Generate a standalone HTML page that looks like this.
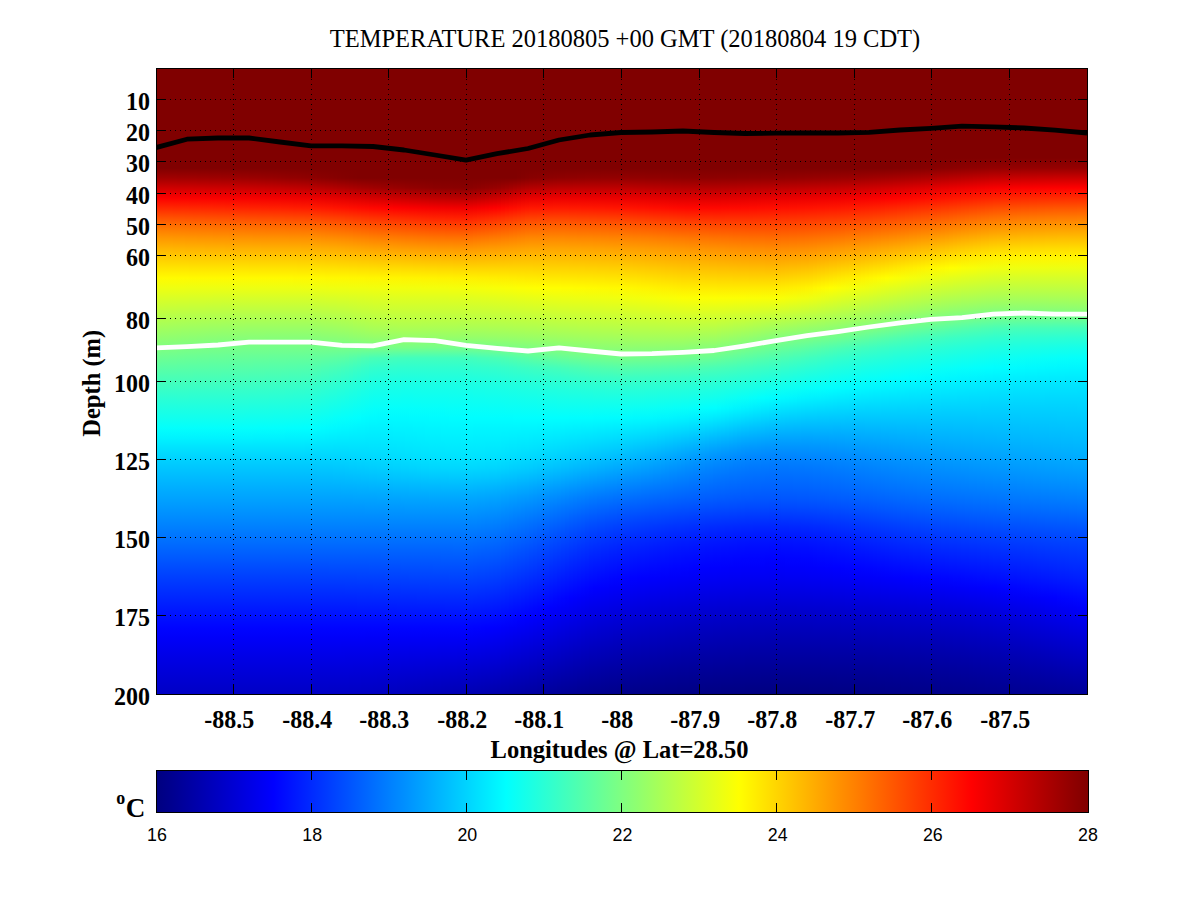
<!DOCTYPE html>
<html><head><meta charset="utf-8"><title>TEMPERATURE 20180805 +00 GMT</title>
<style>
html,body{margin:0;padding:0;background:#fff}
body{width:1201px;height:901px;position:relative;overflow:hidden;font-family:"Liberation Serif",serif}
#f{position:absolute;left:156px;top:68px;width:932px;height:627px;background:#800000;overflow:hidden}
#f i{position:absolute;top:0;height:627px;display:block}
#cb{position:absolute;left:156px;top:770px;width:931px;height:41px;border:1px solid #000;background:linear-gradient(to right,#000080 0.00%,#00008f 1.56%,#00009f 3.12%,#0000af 4.69%,#0000bf 6.25%,#0000cf 7.81%,#0000df 9.38%,#0000ef 10.94%,#0000ff 12.50%,#0010ff 14.06%,#0020ff 15.62%,#0030ff 17.19%,#0040ff 18.75%,#0050ff 20.31%,#0060ff 21.88%,#0070ff 23.44%,#0080ff 25.00%,#008fff 26.56%,#009fff 28.12%,#00afff 29.69%,#00bfff 31.25%,#00cfff 32.81%,#00dfff 34.38%,#00efff 35.94%,#00ffff 37.50%,#10ffef 39.06%,#20ffdf 40.62%,#30ffcf 42.19%,#40ffbf 43.75%,#50ffaf 45.31%,#60ff9f 46.88%,#70ff8f 48.44%,#80ff80 50.00%,#8fff70 51.56%,#9fff60 53.12%,#afff50 54.69%,#bfff40 56.25%,#cfff30 57.81%,#dfff20 59.38%,#efff10 60.94%,#ffff00 62.50%,#ffef00 64.06%,#ffdf00 65.62%,#ffcf00 67.19%,#ffbf00 68.75%,#ffaf00 70.31%,#ff9f00 71.88%,#ff8f00 73.44%,#ff8000 75.00%,#ff7000 76.56%,#ff6000 78.12%,#ff5000 79.69%,#ff4000 81.25%,#ff3000 82.81%,#ff2000 84.38%,#ff1000 85.94%,#ff0000 87.50%,#ef0000 89.06%,#df0000 90.62%,#cf0000 92.19%,#bf0000 93.75%,#af0000 95.31%,#9f0000 96.88%,#8f0000 98.44%,#800000 100.00%)}
svg{position:absolute;left:0;top:0}
.g{stroke:#000;stroke-width:1;stroke-dasharray:1 4;shape-rendering:crispEdges}
.gv{stroke:#000;stroke-width:1;stroke-dasharray:1 4;shape-rendering:crispEdges}
.t{stroke:#000;stroke-width:1;fill:none;shape-rendering:crispEdges}
.b{font:bold 24px "Liberation Serif",serif;fill:#000}
.s{font:17.3px "Liberation Sans",sans-serif;fill:#000}
.bl{font:bold 24.5px "Liberation Serif",serif;fill:#000}
.sup{font:bold 18px "Liberation Serif",serif;fill:#000}
.ti{font:24.5px "Liberation Serif",serif;fill:#000}
</style></head><body>
<div id="f"><i style="left:1px;width:4px;background:linear-gradient(#800000 0,#800000 100px,#a10000 110px,#cf0000 120px,#fd0000 130px,#ff2800 140px,#ff5300 150px,#ff7900 160px,#ff9800 170px,#ffb300 180px,#ffcd00 190px,#ffe400 200px,#fffb00 210px,#eeff11 220px,#daff25 230px,#c7ff38 240px,#b5ff4a 250px,#a3ff5c 260px,#91ff6e 270px,#7fff80 280px,#6dff92 290px,#5bffa4 300px,#49ffb6 310px,#3affc5 320px,#2bffd4 330px,#1effe1 340px,#11ffee 350px,#03fffc 360px,#00f3ff 370px,#00e2ff 380px,#00d3ff 390px,#00c6ff 400px,#00baff 410px,#00aeff 420px,#00a3ff 430px,#0097ff 440px,#008bff 450px,#007fff 460px,#0073ff 470px,#0066ff 480px,#0059ff 490px,#004bff 500px,#003eff 510px,#0032ff 520px,#0026ff 530px,#001aff 540px,#000fff 550px,#0004ff 560px,#0000f9 570px,#0000ef 580px,#0000e5 590px,#0000dc 600px,#0000d3 610px,#0000ca 620px,#0000c5 626px)"></i><i style="left:5px;width:4px;background:linear-gradient(#800000 0,#800000 100px,#a10000 110px,#cf0000 120px,#fd0000 130px,#ff2800 140px,#ff5200 150px,#ff7800 160px,#ff9700 170px,#ffb300 180px,#ffcd00 190px,#ffe400 200px,#fffb00 210px,#eeff11 220px,#daff25 230px,#c7ff38 240px,#b4ff4b 250px,#a2ff5d 260px,#90ff6f 270px,#7eff81 280px,#6cff93 290px,#5affa5 300px,#49ffb6 310px,#3affc5 320px,#2bffd4 330px,#1effe1 340px,#11ffee 350px,#03fffc 360px,#00f3ff 370px,#00e2ff 380px,#00d3ff 390px,#00c6ff 400px,#00baff 410px,#00aeff 420px,#00a3ff 430px,#0097ff 440px,#008bff 450px,#007fff 460px,#0073ff 470px,#0066ff 480px,#0059ff 490px,#004bff 500px,#003eff 510px,#0032ff 520px,#0026ff 530px,#001aff 540px,#000fff 550px,#0004ff 560px,#0000f9 570px,#0000ef 580px,#0000e5 590px,#0000dc 600px,#0000d3 610px,#0000ca 620px,#0000c5 626px)"></i><i style="left:9px;width:4px;background:linear-gradient(#800000 0,#800000 100px,#a10000 110px,#cf0000 120px,#fc0000 130px,#ff2800 140px,#ff5200 150px,#ff7800 160px,#ff9700 170px,#ffb300 180px,#ffcc00 190px,#ffe400 200px,#fffb00 210px,#eeff11 220px,#daff25 230px,#c6ff39 240px,#b4ff4b 250px,#a2ff5d 260px,#90ff6f 270px,#7eff81 280px,#6cff93 290px,#5affa5 300px,#49ffb6 310px,#3affc5 320px,#2bffd4 330px,#1effe1 340px,#11ffee 350px,#03fffc 360px,#00f3ff 370px,#00e2ff 380px,#00d3ff 390px,#00c6ff 400px,#00baff 410px,#00aeff 420px,#00a3ff 430px,#0097ff 440px,#008bff 450px,#007fff 460px,#0073ff 470px,#0066ff 480px,#0059ff 490px,#004bff 500px,#003eff 510px,#0032ff 520px,#0026ff 530px,#001aff 540px,#000fff 550px,#0004ff 560px,#0000f9 570px,#0000ef 580px,#0000e5 590px,#0000dc 600px,#0000d3 610px,#0000ca 620px,#0000c5 626px)"></i><i style="left:13px;width:4px;background:linear-gradient(#800000 0,#800000 100px,#a10000 110px,#cf0000 120px,#fc0000 130px,#ff2800 140px,#ff5200 150px,#ff7700 160px,#ff9700 170px,#ffb300 180px,#ffcc00 190px,#ffe400 200px,#fffb00 210px,#eeff11 220px,#d9ff26 230px,#c6ff39 240px,#b3ff4c 250px,#a1ff5e 260px,#8fff70 270px,#7dff82 280px,#6bff94 290px,#5affa5 300px,#49ffb6 310px,#3affc5 320px,#2bffd4 330px,#1effe1 340px,#11ffee 350px,#03fffc 360px,#00f3ff 370px,#00e2ff 380px,#00d3ff 390px,#00c6ff 400px,#00baff 410px,#00aeff 420px,#00a3ff 430px,#0097ff 440px,#008bff 450px,#007fff 460px,#0073ff 470px,#0066ff 480px,#0059ff 490px,#004bff 500px,#003eff 510px,#0032ff 520px,#0026ff 530px,#001aff 540px,#000fff 550px,#0004ff 560px,#0000f9 570px,#0000ef 580px,#0000e5 590px,#0000dc 600px,#0000d3 610px,#0000ca 620px,#0000c5 626px)"></i><i style="left:17px;width:4px;background:linear-gradient(#800000 0,#800000 100px,#a10000 110px,#ce0000 120px,#fc0000 130px,#ff2700 140px,#ff5100 150px,#ff7700 160px,#ff9600 170px,#ffb200 180px,#ffcc00 190px,#ffe400 200px,#fffb00 210px,#eeff11 220px,#d9ff26 230px,#c6ff39 240px,#b3ff4c 250px,#a0ff5f 260px,#8fff70 270px,#7dff82 280px,#6bff94 290px,#5affa5 300px,#49ffb6 310px,#3affc5 320px,#2bffd4 330px,#1effe1 340px,#11ffee 350px,#03fffc 360px,#00f3ff 370px,#00e2ff 380px,#00d3ff 390px,#00c6ff 400px,#00baff 410px,#00aeff 420px,#00a3ff 430px,#0097ff 440px,#008bff 450px,#007fff 460px,#0073ff 470px,#0066ff 480px,#0059ff 490px,#004bff 500px,#003eff 510px,#0032ff 520px,#0026ff 530px,#001aff 540px,#000fff 550px,#0004ff 560px,#0000f9 570px,#0000ef 580px,#0000e5 590px,#0000dc 600px,#0000d3 610px,#0000ca 620px,#0000c5 626px)"></i><i style="left:21px;width:4px;background:linear-gradient(#800000 0,#800000 100px,#a00000 110px,#ce0000 120px,#fc0000 130px,#ff2700 140px,#ff5100 150px,#ff7700 160px,#ff9600 170px,#ffb200 180px,#ffcc00 190px,#ffe400 200px,#fffb00 210px,#eeff11 220px,#d9ff26 230px,#c5ff3a 240px,#b2ff4d 250px,#a0ff5f 260px,#8eff71 270px,#7cff83 280px,#6aff95 290px,#59ffa6 300px,#49ffb6 310px,#3affc5 320px,#2cffd3 330px,#1effe1 340px,#11ffee 350px,#03fffc 360px,#00f3ff 370px,#00e2ff 380px,#00d3ff 390px,#00c6ff 400px,#00baff 410px,#00aeff 420px,#00a3ff 430px,#0097ff 440px,#008bff 450px,#007fff 460px,#0073ff 470px,#0066ff 480px,#0059ff 490px,#004bff 500px,#003eff 510px,#0032ff 520px,#0026ff 530px,#001aff 540px,#000fff 550px,#0004ff 560px,#0000f9 570px,#0000ef 580px,#0000e5 590px,#0000dc 600px,#0000d3 610px,#0000ca 620px,#0000c5 626px)"></i><i style="left:25px;width:4px;background:linear-gradient(#800000 0,#800000 100px,#a00000 110px,#ce0000 120px,#fc0000 130px,#ff2700 140px,#ff5100 150px,#ff7600 160px,#ff9600 170px,#ffb200 180px,#ffcc00 190px,#ffe400 200px,#fffb00 210px,#eeff11 220px,#d9ff26 230px,#c5ff3a 240px,#b2ff4d 250px,#9fff60 260px,#8dff72 270px,#7bff84 280px,#6aff95 290px,#59ffa6 300px,#49ffb6 310px,#3affc5 320px,#2cffd3 330px,#1effe1 340px,#11ffee 350px,#03fffc 360px,#00f3ff 370px,#00e2ff 380px,#00d3ff 390px,#00c6ff 400px,#00baff 410px,#00aeff 420px,#00a3ff 430px,#0097ff 440px,#008bff 450px,#007fff 460px,#0073ff 470px,#0066ff 480px,#0059ff 490px,#004bff 500px,#003eff 510px,#0032ff 520px,#0026ff 530px,#001aff 540px,#000fff 550px,#0004ff 560px,#0000f9 570px,#0000ef 580px,#0000e5 590px,#0000dc 600px,#0000d3 610px,#0000ca 620px,#0000c5 626px)"></i><i style="left:29px;width:4px;background:linear-gradient(#800000 0,#800000 100px,#a00000 110px,#ce0000 120px,#fc0000 130px,#ff2700 140px,#ff5000 150px,#ff7600 160px,#ff9500 170px,#ffb100 180px,#ffcb00 190px,#ffe400 200px,#fffb00 210px,#edff12 220px,#d9ff26 230px,#c5ff3a 240px,#b1ff4e 250px,#9fff60 260px,#8dff72 270px,#7bff84 280px,#69ff96 290px,#59ffa6 300px,#49ffb6 310px,#3affc5 320px,#2cffd3 330px,#1effe1 340px,#11ffee 350px,#03fffc 360px,#00f3ff 370px,#00e2ff 380px,#00d3ff 390px,#00c6ff 400px,#00baff 410px,#00aeff 420px,#00a3ff 430px,#0097ff 440px,#008bff 450px,#007fff 460px,#0073ff 470px,#0066ff 480px,#0059ff 490px,#004bff 500px,#003eff 510px,#0032ff 520px,#0026ff 530px,#001aff 540px,#000fff 550px,#0004ff 560px,#0000f9 570px,#0000ef 580px,#0000e5 590px,#0000dc 600px,#0000d3 610px,#0000ca 620px,#0000c5 626px)"></i><i style="left:33px;width:4px;background:linear-gradient(#800000 0,#800000 100px,#a00000 110px,#ce0000 120px,#fb0000 130px,#ff2600 140px,#ff5000 150px,#ff7500 160px,#ff9500 170px,#ffb100 180px,#ffcb00 190px,#ffe300 200px,#fffa00 210px,#edff12 220px,#d8ff27 230px,#c4ff3b 240px,#b1ff4e 250px,#9eff61 260px,#8cff73 270px,#7aff85 280px,#69ff96 290px,#58ffa7 300px,#49ffb6 310px,#39ffc6 320px,#2bffd4 330px,#1effe1 340px,#11ffee 350px,#03fffc 360px,#00f3ff 370px,#00e2ff 380px,#00d3ff 390px,#00c6ff 400px,#00baff 410px,#00aeff 420px,#00a3ff 430px,#0097ff 440px,#008bff 450px,#007fff 460px,#0073ff 470px,#0066ff 480px,#0059ff 490px,#004bff 500px,#003eff 510px,#0032ff 520px,#0026ff 530px,#001aff 540px,#000fff 550px,#0004ff 560px,#0000f9 570px,#0000ef 580px,#0000e5 590px,#0000dc 600px,#0000d3 610px,#0000ca 620px,#0000c5 626px)"></i><i style="left:37px;width:4px;background:linear-gradient(#800000 0,#800000 100px,#a00000 110px,#cd0000 120px,#fb0000 130px,#ff2600 140px,#ff4f00 150px,#ff7500 160px,#ff9500 170px,#ffb100 180px,#ffcb00 190px,#ffe300 200px,#fffa00 210px,#edff12 220px,#d8ff27 230px,#c4ff3b 240px,#b1ff4e 250px,#9eff61 260px,#8cff73 270px,#7aff85 280px,#69ff96 290px,#58ffa7 300px,#48ffb7 310px,#39ffc6 320px,#2bffd4 330px,#1effe1 340px,#11ffee 350px,#03fffc 360px,#00f3ff 370px,#00e2ff 380px,#00d3ff 390px,#00c6ff 400px,#00baff 410px,#00aeff 420px,#00a3ff 430px,#0097ff 440px,#008bff 450px,#007fff 460px,#0073ff 470px,#0066ff 480px,#0059ff 490px,#004bff 500px,#003eff 510px,#0032ff 520px,#0026ff 530px,#001aff 540px,#000fff 550px,#0004ff 560px,#0000f9 570px,#0000ef 580px,#0000e5 590px,#0000dc 600px,#0000d3 610px,#0000ca 620px,#0000c5 626px)"></i><i style="left:41px;width:4px;background:linear-gradient(#800000 0,#800000 100px,#9f0000 110px,#cd0000 120px,#fb0000 130px,#ff2600 140px,#ff4f00 150px,#ff7500 160px,#ff9400 170px,#ffb100 180px,#ffcb00 190px,#ffe300 200px,#fffa00 210px,#edff12 220px,#d8ff27 230px,#c4ff3b 240px,#b0ff4f 250px,#9eff61 260px,#8bff74 270px,#7aff85 280px,#68ff97 290px,#58ffa7 300px,#48ffb7 310px,#39ffc6 320px,#2bffd4 330px,#1effe1 340px,#11ffee 350px,#03fffc 360px,#00f3ff 370px,#00e2ff 380px,#00d3ff 390px,#00c6ff 400px,#00baff 410px,#00aeff 420px,#00a3ff 430px,#0097ff 440px,#008bff 450px,#007fff 460px,#0073ff 470px,#0066ff 480px,#0059ff 490px,#004bff 500px,#003eff 510px,#0032ff 520px,#0026ff 530px,#001aff 540px,#000fff 550px,#0004ff 560px,#0000f9 570px,#0000ef 580px,#0000e5 590px,#0000dc 600px,#0000d3 610px,#0000ca 620px,#0000c5 626px)"></i><i style="left:45px;width:4px;background:linear-gradient(#800000 0,#800000 100px,#9f0000 110px,#cd0000 120px,#fb0000 130px,#ff2500 140px,#ff4f00 150px,#ff7400 160px,#ff9400 170px,#ffb100 180px,#ffcb00 190px,#ffe300 200px,#fffa00 210px,#edff12 220px,#d8ff27 230px,#c4ff3b 240px,#b0ff4f 250px,#9dff62 260px,#8bff74 270px,#79ff86 280px,#68ff97 290px,#58ffa7 300px,#48ffb7 310px,#39ffc6 320px,#2bffd4 330px,#1effe1 340px,#11ffee 350px,#03fffc 360px,#00f3ff 370px,#00e2ff 380px,#00d3ff 390px,#00c6ff 400px,#00baff 410px,#00aeff 420px,#00a3ff 430px,#0097ff 440px,#008bff 450px,#007fff 460px,#0073ff 470px,#0066ff 480px,#0059ff 490px,#004bff 500px,#003eff 510px,#0032ff 520px,#0026ff 530px,#001aff 540px,#000fff 550px,#0004ff 560px,#0000f9 570px,#0000ef 580px,#0000e5 590px,#0000dc 600px,#0000d3 610px,#0000ca 620px,#0000c5 626px)"></i><i style="left:49px;width:4px;background:linear-gradient(#800000 0,#800000 100px,#9f0000 110px,#cc0000 120px,#fa0000 130px,#ff2500 140px,#ff4e00 150px,#ff7400 160px,#ff9400 170px,#ffb000 180px,#ffcb00 190px,#ffe300 200px,#fffa00 210px,#edff12 220px,#d8ff27 230px,#c3ff3c 240px,#b0ff4f 250px,#9dff62 260px,#8aff75 270px,#79ff86 280px,#68ff97 290px,#58ffa7 300px,#48ffb7 310px,#39ffc6 320px,#2bffd4 330px,#1effe1 340px,#11ffee 350px,#03fffc 360px,#00f3ff 370px,#00e2ff 380px,#00d3ff 390px,#00c6ff 400px,#00baff 410px,#00aeff 420px,#00a3ff 430px,#0097ff 440px,#008bff 450px,#007fff 460px,#0073ff 470px,#0066ff 480px,#0059ff 490px,#004bff 500px,#003eff 510px,#0032ff 520px,#0026ff 530px,#001aff 540px,#000fff 550px,#0004ff 560px,#0000f9 570px,#0000ef 580px,#0000e5 590px,#0000dc 600px,#0000d3 610px,#0000ca 620px,#0000c5 626px)"></i><i style="left:53px;width:4px;background:linear-gradient(#800000 0,#800000 100px,#9e0000 110px,#cc0000 120px,#fa0000 130px,#ff2500 140px,#ff4e00 150px,#ff7400 160px,#ff9400 170px,#ffb000 180px,#ffca00 190px,#ffe300 200px,#fffa00 210px,#edff12 220px,#d8ff27 230px,#c3ff3c 240px,#afff50 250px,#9cff63 260px,#8aff75 270px,#78ff87 280px,#67ff98 290px,#57ffa8 300px,#48ffb7 310px,#39ffc6 320px,#2bffd4 330px,#1effe1 340px,#11ffee 350px,#03fffc 360px,#00f3ff 370px,#00e2ff 380px,#00d3ff 390px,#00c6ff 400px,#00baff 410px,#00aeff 420px,#00a3ff 430px,#0097ff 440px,#008bff 450px,#007fff 460px,#0073ff 470px,#0066ff 480px,#0059ff 490px,#004bff 500px,#003eff 510px,#0032ff 520px,#0026ff 530px,#001aff 540px,#000fff 550px,#0004ff 560px,#0000f9 570px,#0000ef 580px,#0000e5 590px,#0000dc 600px,#0000d3 610px,#0000ca 620px,#0000c5 626px)"></i><i style="left:57px;width:4px;background:linear-gradient(#800000 0,#800000 100px,#9e0000 110px,#cc0000 120px,#fa0000 130px,#ff2400 140px,#ff4e00 150px,#ff7300 160px,#ff9300 170px,#ffb000 180px,#ffca00 190px,#ffe300 200px,#fffa00 210px,#edff12 220px,#d7ff28 230px,#c3ff3c 240px,#afff50 250px,#9cff63 260px,#8aff75 270px,#78ff87 280px,#67ff98 290px,#57ffa8 300px,#48ffb7 310px,#39ffc6 320px,#2bffd4 330px,#1effe1 340px,#11ffee 350px,#03fffc 360px,#00f3ff 370px,#00e2ff 380px,#00d3ff 390px,#00c6ff 400px,#00baff 410px,#00aeff 420px,#00a3ff 430px,#0097ff 440px,#008bff 450px,#007fff 460px,#0073ff 470px,#0066ff 480px,#0059ff 490px,#004bff 500px,#003eff 510px,#0032ff 520px,#0026ff 530px,#001aff 540px,#000fff 550px,#0004ff 560px,#0000f9 570px,#0000ef 580px,#0000e5 590px,#0000dc 600px,#0000d3 610px,#0000ca 620px,#0000c5 626px)"></i><i style="left:61px;width:4px;background:linear-gradient(#800000 0,#800000 100px,#9e0000 110px,#cb0000 120px,#f90000 130px,#ff2400 140px,#ff4d00 150px,#ff7300 160px,#ff9300 170px,#ffb000 180px,#ffca00 190px,#ffe300 200px,#fffa00 210px,#edff12 220px,#d7ff28 230px,#c3ff3c 240px,#afff50 250px,#9cff63 260px,#89ff76 270px,#78ff87 280px,#67ff98 290px,#57ffa8 300px,#48ffb7 310px,#39ffc6 320px,#2bffd4 330px,#1effe1 340px,#11ffee 350px,#03fffc 360px,#00f3ff 370px,#00e2ff 380px,#00d3ff 390px,#00c6ff 400px,#00baff 410px,#00aeff 420px,#00a3ff 430px,#0097ff 440px,#008bff 450px,#007fff 460px,#0073ff 470px,#0066ff 480px,#0059ff 490px,#004bff 500px,#003eff 510px,#0032ff 520px,#0026ff 530px,#001aff 540px,#000fff 550px,#0004ff 560px,#0000f9 570px,#0000ef 580px,#0000e5 590px,#0000dc 600px,#0000d3 610px,#0000ca 620px,#0000c5 626px)"></i><i style="left:65px;width:4px;background:linear-gradient(#800000 0,#800000 100px,#9d0000 110px,#cb0000 120px,#f90000 130px,#ff2400 140px,#ff4d00 150px,#ff7300 160px,#ff9300 170px,#ffb000 180px,#ffca00 190px,#ffe300 200px,#fffa00 210px,#edff12 220px,#d7ff28 230px,#c2ff3d 240px,#afff50 250px,#9bff64 260px,#89ff76 270px,#77ff88 280px,#67ff98 290px,#57ffa8 300px,#47ffb8 310px,#39ffc6 320px,#2bffd4 330px,#1effe1 340px,#11ffee 350px,#03fffc 360px,#00f3ff 370px,#00e2ff 380px,#00d3ff 390px,#00c6ff 400px,#00baff 410px,#00aeff 420px,#00a3ff 430px,#0097ff 440px,#008bff 450px,#007fff 460px,#0073ff 470px,#0066ff 480px,#0059ff 490px,#004bff 500px,#003eff 510px,#0032ff 520px,#0026ff 530px,#001aff 540px,#000fff 550px,#0004ff 560px,#0000f9 570px,#0000ef 580px,#0000e5 590px,#0000dc 600px,#0000d3 610px,#0000ca 620px,#0000c5 626px)"></i><i style="left:69px;width:4px;background:linear-gradient(#800000 0,#800000 100px,#9d0000 110px,#cb0000 120px,#f90000 130px,#ff2300 140px,#ff4d00 150px,#ff7300 160px,#ff9300 170px,#ffaf00 180px,#ffca00 190px,#ffe300 200px,#fffa00 210px,#edff12 220px,#d7ff28 230px,#c2ff3d 240px,#aeff51 250px,#9bff64 260px,#89ff76 270px,#77ff88 280px,#66ff99 290px,#57ffa8 300px,#47ffb8 310px,#39ffc6 320px,#2bffd4 330px,#1effe1 340px,#11ffee 350px,#03fffc 360px,#00f3ff 370px,#00e2ff 380px,#00d3ff 390px,#00c6ff 400px,#00baff 410px,#00aeff 420px,#00a3ff 430px,#0097ff 440px,#008bff 450px,#007fff 460px,#0073ff 470px,#0066ff 480px,#0059ff 490px,#004bff 500px,#003eff 510px,#0032ff 520px,#0026ff 530px,#001aff 540px,#000fff 550px,#0004ff 560px,#0000f9 570px,#0000ef 580px,#0000e5 590px,#0000dc 600px,#0000d3 610px,#0000ca 620px,#0000c5 626px)"></i><i style="left:73px;width:4px;background:linear-gradient(#800000 0,#800000 100px,#9d0000 110px,#ca0000 120px,#f80000 130px,#ff2300 140px,#ff4c00 150px,#ff7200 160px,#ff9200 170px,#ffaf00 180px,#ffca00 190px,#ffe300 200px,#fffa00 210px,#edff12 220px,#d7ff28 230px,#c2ff3d 240px,#aeff51 250px,#9bff64 260px,#89ff76 270px,#77ff88 280px,#66ff99 290px,#56ffa9 300px,#47ffb8 310px,#39ffc6 320px,#2bffd4 330px,#1effe1 340px,#11ffee 350px,#03fffc 360px,#00f3ff 370px,#00e2ff 380px,#00d3ff 390px,#00c6ff 400px,#00baff 410px,#00aeff 420px,#00a3ff 430px,#0097ff 440px,#008bff 450px,#007fff 460px,#0073ff 470px,#0066ff 480px,#0059ff 490px,#004bff 500px,#003eff 510px,#0032ff 520px,#0026ff 530px,#001aff 540px,#000fff 550px,#0004ff 560px,#0000f9 570px,#0000ef 580px,#0000e5 590px,#0000dc 600px,#0000d3 610px,#0000ca 620px,#0000c5 626px)"></i><i style="left:77px;width:4px;background:linear-gradient(#800000 0,#800000 100px,#9c0000 110px,#ca0000 120px,#f80000 130px,#ff2300 140px,#ff4c00 150px,#ff7200 160px,#ff9200 170px,#ffaf00 180px,#ffca00 190px,#ffe300 200px,#fffa00 210px,#edff12 220px,#d7ff28 230px,#c2ff3d 240px,#aeff51 250px,#9bff64 260px,#89ff76 270px,#77ff88 280px,#66ff99 290px,#56ffa9 300px,#47ffb8 310px,#38ffc7 320px,#2bffd4 330px,#1effe1 340px,#11ffee 350px,#03fffc 360px,#00f3ff 370px,#00e2ff 380px,#00d3ff 390px,#00c6ff 400px,#00baff 410px,#00aeff 420px,#00a3ff 430px,#0097ff 440px,#008bff 450px,#007fff 460px,#0073ff 470px,#0066ff 480px,#0059ff 490px,#004bff 500px,#003eff 510px,#0032ff 520px,#0026ff 530px,#001aff 540px,#000fff 550px,#0004ff 560px,#0000f9 570px,#0000ef 580px,#0000e5 590px,#0000dc 600px,#0000d3 610px,#0000ca 620px,#0000c5 626px)"></i><i style="left:81px;width:4px;background:linear-gradient(#800000 0,#800000 100px,#9c0000 110px,#c90000 120px,#f80000 130px,#ff2200 140px,#ff4c00 150px,#ff7200 160px,#ff9200 170px,#ffaf00 180px,#ffca00 190px,#ffe300 200px,#fffa00 210px,#edff12 220px,#d7ff28 230px,#c2ff3d 240px,#aeff51 250px,#9bff64 260px,#88ff77 270px,#77ff88 280px,#66ff99 290px,#56ffa9 300px,#47ffb8 310px,#38ffc7 320px,#2bffd4 330px,#1effe1 340px,#11ffee 350px,#03fffc 360px,#00f3ff 370px,#00e2ff 380px,#00d3ff 390px,#00c6ff 400px,#00baff 410px,#00aeff 420px,#00a3ff 430px,#0097ff 440px,#008bff 450px,#007fff 460px,#0073ff 470px,#0066ff 480px,#0059ff 490px,#004bff 500px,#003eff 510px,#0032ff 520px,#0026ff 530px,#001aff 540px,#000fff 550px,#0004ff 560px,#0000f9 570px,#0000ef 580px,#0000e5 590px,#0000dc 600px,#0000d3 610px,#0000ca 620px,#0000c5 626px)"></i><i style="left:85px;width:4px;background:linear-gradient(#800000 0,#800000 100px,#9b0000 110px,#c90000 120px,#f70000 130px,#ff2200 140px,#ff4c00 150px,#ff7200 160px,#ff9200 170px,#ffaf00 180px,#ffca00 190px,#ffe300 200px,#fffa00 210px,#edff12 220px,#d7ff28 230px,#c2ff3d 240px,#aeff51 250px,#9bff64 260px,#88ff77 270px,#76ff89 280px,#66ff99 290px,#56ffa9 300px,#47ffb8 310px,#38ffc7 320px,#2bffd4 330px,#1effe1 340px,#11ffee 350px,#03fffc 360px,#00f3ff 370px,#00e2ff 380px,#00d3ff 390px,#00c6ff 400px,#00baff 410px,#00aeff 420px,#00a3ff 430px,#0097ff 440px,#008bff 450px,#007fff 460px,#0073ff 470px,#0066ff 480px,#0059ff 490px,#004bff 500px,#003eff 510px,#0032ff 520px,#0026ff 530px,#001aff 540px,#000fff 550px,#0004ff 560px,#0000f9 570px,#0000ef 580px,#0000e5 590px,#0000dc 600px,#0000d3 610px,#0000ca 620px,#0000c5 626px)"></i><i style="left:89px;width:4px;background:linear-gradient(#800000 0,#800000 100px,#9b0000 110px,#c80000 120px,#f70000 130px,#ff2200 140px,#ff4b00 150px,#ff7100 160px,#ff9200 170px,#ffaf00 180px,#ffca00 190px,#ffe300 200px,#fffa00 210px,#edff12 220px,#d7ff28 230px,#c2ff3d 240px,#aeff51 250px,#9aff65 260px,#88ff77 270px,#76ff89 280px,#66ff99 290px,#56ffa9 300px,#47ffb8 310px,#38ffc7 320px,#2bffd4 330px,#1effe1 340px,#10ffef 350px,#03fffc 360px,#00f3ff 370px,#00e2ff 380px,#00d3ff 390px,#00c6ff 400px,#00baff 410px,#00aeff 420px,#00a3ff 430px,#0097ff 440px,#008bff 450px,#007fff 460px,#0073ff 470px,#0066ff 480px,#0059ff 490px,#004bff 500px,#003eff 510px,#0032ff 520px,#0026ff 530px,#001aff 540px,#000fff 550px,#0004ff 560px,#0000f9 570px,#0000ef 580px,#0000e5 590px,#0000dc 600px,#0000d3 610px,#0000ca 620px,#0000c5 626px)"></i><i style="left:93px;width:4px;background:linear-gradient(#800000 0,#800000 100px,#9a0000 110px,#c80000 120px,#f70000 130px,#ff2100 140px,#ff4b00 150px,#ff7100 160px,#ff9200 170px,#ffaf00 180px,#ffc900 190px,#ffe200 200px,#fffa00 210px,#edff12 220px,#d7ff28 230px,#c2ff3d 240px,#aeff51 250px,#9aff65 260px,#88ff77 270px,#76ff89 280px,#65ff9a 290px,#56ffa9 300px,#46ffb9 310px,#38ffc7 320px,#2affd5 330px,#1dffe2 340px,#10ffef 350px,#03fffc 360px,#00f3ff 370px,#00e2ff 380px,#00d3ff 390px,#00c6ff 400px,#00baff 410px,#00aeff 420px,#00a3ff 430px,#0097ff 440px,#008bff 450px,#007fff 460px,#0073ff 470px,#0066ff 480px,#0059ff 490px,#004bff 500px,#003eff 510px,#0032ff 520px,#0026ff 530px,#001aff 540px,#000fff 550px,#0004ff 560px,#0000f9 570px,#0000ef 580px,#0000e5 590px,#0000dc 600px,#0000d3 610px,#0000ca 620px,#0000c5 626px)"></i><i style="left:97px;width:4px;background:linear-gradient(#800000 0,#800000 100px,#9a0000 110px,#c70000 120px,#f60000 130px,#ff2100 140px,#ff4b00 150px,#ff7100 160px,#ff9100 170px,#ffaf00 180px,#ffc900 190px,#ffe200 200px,#fffa00 210px,#edff12 220px,#d7ff28 230px,#c2ff3d 240px,#aeff51 250px,#9aff65 260px,#88ff77 270px,#76ff89 280px,#65ff9a 290px,#55ffaa 300px,#46ffb9 310px,#38ffc7 320px,#2affd5 330px,#1dffe2 340px,#10ffef 350px,#03fffc 360px,#00f2ff 370px,#00e2ff 380px,#00d3ff 390px,#00c6ff 400px,#00baff 410px,#00aeff 420px,#00a3ff 430px,#0097ff 440px,#008bff 450px,#007fff 460px,#0073ff 470px,#0066ff 480px,#0059ff 490px,#004bff 500px,#003eff 510px,#0032ff 520px,#0026ff 530px,#001aff 540px,#000fff 550px,#0004ff 560px,#0000f9 570px,#0000ef 580px,#0000e5 590px,#0000dc 600px,#0000d3 610px,#0000ca 620px,#0000c5 626px)"></i><i style="left:101px;width:4px;background:linear-gradient(#800000 0,#800000 100px,#990000 110px,#c60000 120px,#f50000 130px,#ff2100 140px,#ff4a00 150px,#ff7100 160px,#ff9100 170px,#ffaf00 180px,#ffc900 190px,#ffe200 200px,#fffa00 210px,#edff12 220px,#d7ff28 230px,#c2ff3d 240px,#aeff51 250px,#9aff65 260px,#88ff77 270px,#76ff89 280px,#65ff9a 290px,#55ffaa 300px,#46ffb9 310px,#37ffc8 320px,#2affd5 330px,#1dffe2 340px,#10ffef 350px,#02fffd 360px,#00f2ff 370px,#00e2ff 380px,#00d3ff 390px,#00c6ff 400px,#00baff 410px,#00aeff 420px,#00a3ff 430px,#0097ff 440px,#008bff 450px,#007fff 460px,#0073ff 470px,#0066ff 480px,#0059ff 490px,#004bff 500px,#003eff 510px,#0032ff 520px,#0026ff 530px,#001aff 540px,#000fff 550px,#0004ff 560px,#0000f9 570px,#0000ef 580px,#0000e5 590px,#0000dc 600px,#0000d3 610px,#0000ca 620px,#0000c5 626px)"></i><i style="left:105px;width:4px;background:linear-gradient(#800000 0,#800000 100px,#980000 110px,#c60000 120px,#f50000 130px,#ff2000 140px,#ff4a00 150px,#ff7100 160px,#ff9100 170px,#ffae00 180px,#ffc900 190px,#ffe200 200px,#fffa00 210px,#edff12 220px,#d7ff28 230px,#c2ff3d 240px,#aeff51 250px,#9aff65 260px,#88ff77 270px,#76ff89 280px,#65ff9a 290px,#55ffaa 300px,#46ffb9 310px,#37ffc8 320px,#2affd5 330px,#1dffe2 340px,#10ffef 350px,#02fffd 360px,#00f2ff 370px,#00e2ff 380px,#00d3ff 390px,#00c6ff 400px,#00baff 410px,#00aeff 420px,#00a3ff 430px,#0097ff 440px,#008bff 450px,#007fff 460px,#0073ff 470px,#0066ff 480px,#0059ff 490px,#004bff 500px,#003eff 510px,#0032ff 520px,#0026ff 530px,#001aff 540px,#000fff 550px,#0004ff 560px,#0000f9 570px,#0000ef 580px,#0000e5 590px,#0000dc 600px,#0000d3 610px,#0000ca 620px,#0000c5 626px)"></i><i style="left:109px;width:4px;background:linear-gradient(#800000 0,#800000 100px,#970000 110px,#c50000 120px,#f40000 130px,#ff2000 140px,#ff4a00 150px,#ff7000 160px,#ff9100 170px,#ffae00 180px,#ffc900 190px,#ffe200 200px,#fffa00 210px,#edff12 220px,#d7ff28 230px,#c2ff3d 240px,#aeff51 250px,#9aff65 260px,#87ff78 270px,#76ff89 280px,#65ff9a 290px,#55ffaa 300px,#45ffba 310px,#37ffc8 320px,#2affd5 330px,#1dffe2 340px,#10ffef 350px,#02fffd 360px,#00f2ff 370px,#00e2ff 380px,#00d3ff 390px,#00c6ff 400px,#00baff 410px,#00aeff 420px,#00a3ff 430px,#0097ff 440px,#008bff 450px,#007fff 460px,#0073ff 470px,#0066ff 480px,#0059ff 490px,#004bff 500px,#003eff 510px,#0032ff 520px,#0026ff 530px,#001aff 540px,#000fff 550px,#0004ff 560px,#0000f9 570px,#0000ef 580px,#0000e5 590px,#0000dc 600px,#0000d3 610px,#0000ca 620px,#0000c5 626px)"></i><i style="left:113px;width:4px;background:linear-gradient(#800000 0,#800000 100px,#970000 110px,#c40000 120px,#f40000 130px,#ff1f00 140px,#ff4a00 150px,#ff7000 160px,#ff9100 170px,#ffae00 180px,#ffc900 190px,#ffe200 200px,#fffa00 210px,#edff12 220px,#d7ff28 230px,#c2ff3d 240px,#adff52 250px,#9aff65 260px,#87ff78 270px,#75ff8a 280px,#64ff9b 290px,#54ffab 300px,#45ffba 310px,#37ffc8 320px,#29ffd6 330px,#1cffe3 340px,#10ffef 350px,#02fffd 360px,#00f2ff 370px,#00e2ff 380px,#00d3ff 390px,#00c6ff 400px,#00baff 410px,#00aeff 420px,#00a3ff 430px,#0097ff 440px,#008bff 450px,#007fff 460px,#0073ff 470px,#0066ff 480px,#0059ff 490px,#004bff 500px,#003eff 510px,#0032ff 520px,#0026ff 530px,#001aff 540px,#000fff 550px,#0004ff 560px,#0000f9 570px,#0000ef 580px,#0000e5 590px,#0000dc 600px,#0000d3 610px,#0000ca 620px,#0000c5 626px)"></i><i style="left:117px;width:4px;background:linear-gradient(#800000 0,#800000 100px,#960000 110px,#c30000 120px,#f30000 130px,#ff1f00 140px,#ff4900 150px,#ff7000 160px,#ff9100 170px,#ffae00 180px,#ffc900 190px,#ffe200 200px,#fffa00 210px,#edff12 220px,#d7ff28 230px,#c2ff3d 240px,#adff52 250px,#9aff65 260px,#87ff78 270px,#75ff8a 280px,#64ff9b 290px,#54ffab 300px,#45ffba 310px,#36ffc9 320px,#29ffd6 330px,#1cffe3 340px,#0ffff0 350px,#02fffd 360px,#00f2ff 370px,#00e2ff 380px,#00d3ff 390px,#00c6ff 400px,#00baff 410px,#00aeff 420px,#00a3ff 430px,#0097ff 440px,#008bff 450px,#007fff 460px,#0073ff 470px,#0066ff 480px,#0059ff 490px,#004bff 500px,#003eff 510px,#0032ff 520px,#0026ff 530px,#001aff 540px,#000fff 550px,#0004ff 560px,#0000f9 570px,#0000ef 580px,#0000e5 590px,#0000dc 600px,#0000d3 610px,#0000ca 620px,#0000c5 626px)"></i><i style="left:121px;width:4px;background:linear-gradient(#800000 0,#800000 100px,#950000 110px,#c30000 120px,#f30000 130px,#ff1f00 140px,#ff4900 150px,#ff7000 160px,#ff9100 170px,#ffae00 180px,#ffc900 190px,#ffe200 200px,#fffa00 210px,#edff12 220px,#d7ff28 230px,#c2ff3d 240px,#adff52 250px,#9aff65 260px,#87ff78 270px,#75ff8a 280px,#64ff9b 290px,#54ffab 300px,#45ffba 310px,#36ffc9 320px,#29ffd6 330px,#1cffe3 340px,#0ffff0 350px,#02fffd 360px,#00f2ff 370px,#00e2ff 380px,#00d3ff 390px,#00c6ff 400px,#00baff 410px,#00aeff 420px,#00a3ff 430px,#0097ff 440px,#008bff 450px,#007fff 460px,#0073ff 470px,#0066ff 480px,#0059ff 490px,#004bff 500px,#003eff 510px,#0032ff 520px,#0026ff 530px,#001aff 540px,#000fff 550px,#0004ff 560px,#0000f9 570px,#0000ef 580px,#0000e5 590px,#0000dc 600px,#0000d3 610px,#0000ca 620px,#0000c5 626px)"></i><i style="left:125px;width:4px;background:linear-gradient(#800000 0,#800000 100px,#940000 110px,#c20000 120px,#f20000 130px,#ff1e00 140px,#ff4900 150px,#ff7000 160px,#ff9100 170px,#ffae00 180px,#ffc900 190px,#ffe200 200px,#fffa00 210px,#edff12 220px,#d7ff28 230px,#c2ff3d 240px,#adff52 250px,#9aff65 260px,#87ff78 270px,#75ff8a 280px,#64ff9b 290px,#54ffab 300px,#44ffbb 310px,#36ffc9 320px,#29ffd6 330px,#1cffe3 340px,#0ffff0 350px,#02fffd 360px,#00f2ff 370px,#00e2ff 380px,#00d3ff 390px,#00c6ff 400px,#00baff 410px,#00aeff 420px,#00a3ff 430px,#0097ff 440px,#008bff 450px,#007fff 460px,#0073ff 470px,#0066ff 480px,#0059ff 490px,#004bff 500px,#003eff 510px,#0032ff 520px,#0026ff 530px,#001aff 540px,#000fff 550px,#0004ff 560px,#0000f9 570px,#0000ef 580px,#0000e5 590px,#0000dc 600px,#0000d3 610px,#0000ca 620px,#0000c5 626px)"></i><i style="left:129px;width:4px;background:linear-gradient(#800000 0,#800000 100px,#930000 110px,#c10000 120px,#f10000 130px,#ff1e00 140px,#ff4800 150px,#ff6f00 160px,#ff9100 170px,#ffae00 180px,#ffc900 190px,#ffe200 200px,#fffa00 210px,#edff12 220px,#d7ff28 230px,#c2ff3d 240px,#adff52 250px,#9aff65 260px,#87ff78 270px,#75ff8a 280px,#64ff9b 290px,#53ffac 300px,#44ffbb 310px,#35ffca 320px,#28ffd7 330px,#1cffe3 340px,#0ffff0 350px,#01fffe 360px,#00f1ff 370px,#00e2ff 380px,#00d3ff 390px,#00c6ff 400px,#00baff 410px,#00aeff 420px,#00a3ff 430px,#0097ff 440px,#008bff 450px,#007fff 460px,#0073ff 470px,#0066ff 480px,#0059ff 490px,#004bff 500px,#003eff 510px,#0032ff 520px,#0026ff 530px,#001aff 540px,#000fff 550px,#0004ff 560px,#0000f9 570px,#0000ef 580px,#0000e5 590px,#0000dc 600px,#0000d3 610px,#0000ca 620px,#0000c5 626px)"></i><i style="left:133px;width:4px;background:linear-gradient(#800000 0,#800000 100px,#920000 110px,#c00000 120px,#f10000 130px,#ff1d00 140px,#ff4800 150px,#ff6f00 160px,#ff9000 170px,#ffae00 180px,#ffc900 190px,#ffe200 200px,#fffa00 210px,#edff12 220px,#d7ff28 230px,#c2ff3d 240px,#aeff51 250px,#9aff65 260px,#87ff78 270px,#75ff8a 280px,#63ff9c 290px,#53ffac 300px,#43ffbc 310px,#35ffca 320px,#28ffd7 330px,#1bffe4 340px,#0ffff0 350px,#01fffe 360px,#00f1ff 370px,#00e2ff 380px,#00d3ff 390px,#00c6ff 400px,#00baff 410px,#00aeff 420px,#00a3ff 430px,#0097ff 440px,#008bff 450px,#007fff 460px,#0073ff 470px,#0066ff 480px,#0059ff 490px,#004bff 500px,#003eff 510px,#0032ff 520px,#0026ff 530px,#001aff 540px,#000fff 550px,#0004ff 560px,#0000f9 570px,#0000ef 580px,#0000e5 590px,#0000dc 600px,#0000d3 610px,#0000ca 620px,#0000c5 626px)"></i><i style="left:137px;width:4px;background:linear-gradient(#800000 0,#800000 100px,#920000 110px,#bf0000 120px,#f00000 130px,#ff1c00 140px,#ff4700 150px,#ff6f00 160px,#ff9000 170px,#ffae00 180px,#ffc900 190px,#ffe200 200px,#fff900 210px,#edff12 220px,#d7ff28 230px,#c2ff3d 240px,#aeff51 250px,#9aff65 260px,#87ff78 270px,#75ff8a 280px,#63ff9c 290px,#53ffac 300px,#43ffbc 310px,#35ffca 320px,#27ffd8 330px,#1bffe4 340px,#0efff1 350px,#01fffe 360px,#00f1ff 370px,#00e2ff 380px,#00d3ff 390px,#00c6ff 400px,#00baff 410px,#00aeff 420px,#00a3ff 430px,#0097ff 440px,#008bff 450px,#007fff 460px,#0073ff 470px,#0066ff 480px,#0059ff 490px,#004bff 500px,#003eff 510px,#0032ff 520px,#0026ff 530px,#001aff 540px,#000fff 550px,#0004ff 560px,#0000f9 570px,#0000ef 580px,#0000e5 590px,#0000dc 600px,#0000d3 610px,#0000ca 620px,#0000c5 626px)"></i><i style="left:141px;width:4px;background:linear-gradient(#800000 0,#800000 100px,#910000 110px,#be0000 120px,#ef0000 130px,#ff1c00 140px,#ff4700 150px,#ff6f00 160px,#ff9000 170px,#ffae00 180px,#ffc800 190px,#ffe100 200px,#fff900 210px,#edff12 220px,#d7ff28 230px,#c2ff3d 240px,#aeff51 250px,#9aff65 260px,#87ff78 270px,#75ff8a 280px,#63ff9c 290px,#52ffad 300px,#43ffbc 310px,#34ffcb 320px,#27ffd8 330px,#1bffe4 340px,#0efff1 350px,#01fffe 360px,#00f1ff 370px,#00e2ff 380px,#00d3ff 390px,#00c6ff 400px,#00baff 410px,#00aeff 420px,#00a3ff 430px,#0097ff 440px,#008bff 450px,#007fff 460px,#0073ff 470px,#0066ff 480px,#0059ff 490px,#004bff 500px,#003eff 510px,#0032ff 520px,#0026ff 530px,#001aff 540px,#000fff 550px,#0004ff 560px,#0000f9 570px,#0000ef 580px,#0000e5 590px,#0000dc 600px,#0000d3 610px,#0000ca 620px,#0000c5 626px)"></i><i style="left:145px;width:4px;background:linear-gradient(#800000 0,#800000 100px,#900000 110px,#bd0000 120px,#ee0000 130px,#ff1b00 140px,#ff4700 150px,#ff6e00 160px,#ff9000 170px,#ffad00 180px,#ffc800 190px,#ffe100 200px,#fff900 210px,#eeff11 220px,#d7ff28 230px,#c2ff3d 240px,#aeff51 250px,#9aff65 260px,#87ff78 270px,#75ff8a 280px,#63ff9c 290px,#52ffad 300px,#42ffbd 310px,#34ffcb 320px,#27ffd8 330px,#1affe5 340px,#0efff1 350px,#00ffff 360px,#00f1ff 370px,#00e2ff 380px,#00d3ff 390px,#00c6ff 400px,#00baff 410px,#00aeff 420px,#00a3ff 430px,#0097ff 440px,#008bff 450px,#007fff 460px,#0073ff 470px,#0066ff 480px,#0059ff 490px,#004bff 500px,#003eff 510px,#0032ff 520px,#0026ff 530px,#001aff 540px,#000fff 550px,#0004ff 560px,#0000f9 570px,#0000ef 580px,#0000e5 590px,#0000dc 600px,#0000d3 610px,#0000ca 620px,#0000c5 626px)"></i><i style="left:149px;width:4px;background:linear-gradient(#800000 0,#800000 100px,#8f0000 110px,#bc0000 120px,#ee0000 130px,#ff1b00 140px,#ff4600 150px,#ff6e00 160px,#ff9000 170px,#ffad00 180px,#ffc800 190px,#ffe100 200px,#fff900 210px,#eeff11 220px,#d7ff28 230px,#c2ff3d 240px,#aeff51 250px,#9aff65 260px,#87ff78 270px,#74ff8b 280px,#63ff9c 290px,#51ffae 300px,#42ffbd 310px,#33ffcc 320px,#26ffd9 330px,#1affe5 340px,#0dfff2 350px,#00ffff 360px,#00f1ff 370px,#00e1ff 380px,#00d3ff 390px,#00c6ff 400px,#00baff 410px,#00aeff 420px,#00a3ff 430px,#0097ff 440px,#008bff 450px,#007fff 460px,#0073ff 470px,#0066ff 480px,#0059ff 490px,#004bff 500px,#003eff 510px,#0032ff 520px,#0026ff 530px,#001aff 540px,#000fff 550px,#0004ff 560px,#0000f9 570px,#0000ef 580px,#0000e5 590px,#0000dc 600px,#0000d3 610px,#0000ca 620px,#0000c5 626px)"></i><i style="left:153px;width:4px;background:linear-gradient(#800000 0,#800000 100px,#8e0000 110px,#ba0000 120px,#ed0000 130px,#ff1a00 140px,#ff4600 150px,#ff6e00 160px,#ff9000 170px,#ffad00 180px,#ffc800 190px,#ffe100 200px,#fff900 210px,#eeff11 220px,#d7ff28 230px,#c2ff3d 240px,#aeff51 250px,#9aff65 260px,#87ff78 270px,#74ff8b 280px,#62ff9d 290px,#51ffae 300px,#41ffbe 310px,#33ffcc 320px,#26ffd9 330px,#1affe5 340px,#0dfff2 350px,#00ffff 360px,#00f0ff 370px,#00e1ff 380px,#00d3ff 390px,#00c6ff 400px,#00baff 410px,#00aeff 420px,#00a3ff 430px,#0097ff 440px,#008bff 450px,#007fff 460px,#0073ff 470px,#0066ff 480px,#0059ff 490px,#004bff 500px,#003eff 510px,#0032ff 520px,#0026ff 530px,#001aff 540px,#000fff 550px,#0004ff 560px,#0000f9 570px,#0000ef 580px,#0000e5 590px,#0000dc 600px,#0000d3 610px,#0000ca 620px,#0000c5 626px)"></i><i style="left:157px;width:4px;background:linear-gradient(#800000 0,#800000 100px,#8d0000 110px,#b90000 120px,#eb0000 130px,#ff1900 140px,#ff4500 150px,#ff6d00 160px,#ff8f00 170px,#ffad00 180px,#ffc800 190px,#ffe100 200px,#fff900 210px,#eeff11 220px,#d8ff27 230px,#c3ff3c 240px,#aeff51 250px,#9bff64 260px,#88ff77 270px,#74ff8b 280px,#61ff9e 290px,#50ffaf 300px,#40ffbf 310px,#31ffce 320px,#25ffda 330px,#18ffe7 340px,#0cfff3 350px,#00feff 360px,#00f0ff 370px,#00e1ff 380px,#00d3ff 390px,#00c6ff 400px,#00baff 410px,#00afff 420px,#00a3ff 430px,#0097ff 440px,#008bff 450px,#007fff 460px,#0073ff 470px,#0066ff 480px,#0059ff 490px,#004bff 500px,#003fff 510px,#0032ff 520px,#0026ff 530px,#001aff 540px,#000fff 550px,#0004ff 560px,#0000f9 570px,#0000ef 580px,#0000e5 590px,#0000dc 600px,#0000d3 610px,#0000ca 620px,#0000c5 626px)"></i><i style="left:161px;width:4px;background:linear-gradient(#800000 0,#800000 100px,#8b0000 110px,#b70000 120px,#ea0000 130px,#ff1800 140px,#ff4400 150px,#ff6c00 160px,#ff8e00 170px,#ffac00 180px,#ffc700 190px,#ffe100 200px,#fff900 210px,#eeff11 220px,#d8ff27 230px,#c3ff3c 240px,#afff50 250px,#9bff64 260px,#88ff77 270px,#74ff8b 280px,#61ff9e 290px,#4effb1 300px,#3effc1 310px,#30ffcf 320px,#23ffdc 330px,#17ffe8 340px,#0bfff4 350px,#00fdff 360px,#00efff 370px,#00e1ff 380px,#00d3ff 390px,#00c7ff 400px,#00bbff 410px,#00afff 420px,#00a3ff 430px,#0097ff 440px,#008bff 450px,#007fff 460px,#0073ff 470px,#0066ff 480px,#0059ff 490px,#004bff 500px,#003fff 510px,#0032ff 520px,#0026ff 530px,#001aff 540px,#000fff 550px,#0004ff 560px,#0000f9 570px,#0000ef 580px,#0000e5 590px,#0000db 600px,#0000d2 610px,#0000ca 620px,#0000c5 626px)"></i><i style="left:165px;width:4px;background:linear-gradient(#800000 0,#800000 100px,#8a0000 110px,#b60000 120px,#e90000 130px,#ff1700 140px,#ff4200 150px,#ff6b00 160px,#ff8d00 170px,#ffab00 180px,#ffc700 190px,#ffe000 200px,#fff900 210px,#eeff11 220px,#d8ff27 230px,#c4ff3b 240px,#b0ff4f 250px,#9cff63 260px,#89ff76 270px,#75ff8a 280px,#60ff9f 290px,#4cffb3 300px,#3cffc3 310px,#2effd1 320px,#22ffdd 330px,#16ffe9 340px,#0afff5 350px,#00fcff 360px,#00efff 370px,#00e1ff 380px,#00d4ff 390px,#00c7ff 400px,#00bbff 410px,#00afff 420px,#00a3ff 430px,#0097ff 440px,#008bff 450px,#007fff 460px,#0073ff 470px,#0066ff 480px,#0059ff 490px,#004bff 500px,#003fff 510px,#0032ff 520px,#0026ff 530px,#001aff 540px,#000fff 550px,#0004ff 560px,#0000f9 570px,#0000ef 580px,#0000e5 590px,#0000db 600px,#0000d2 610px,#0000ca 620px,#0000c5 626px)"></i><i style="left:169px;width:4px;background:linear-gradient(#800000 0,#800000 100px,#890000 110px,#b40000 120px,#e70000 130px,#ff1600 140px,#ff4100 150px,#ff6a00 160px,#ff8c00 170px,#ffab00 180px,#ffc600 190px,#ffe000 200px,#fff800 210px,#eeff11 220px,#d9ff26 230px,#c4ff3b 240px,#b0ff4f 250px,#9dff62 260px,#89ff76 270px,#75ff8a 280px,#5fffa0 290px,#4bffb4 300px,#3bffc4 310px,#2dffd2 320px,#20ffdf 330px,#15ffea 340px,#09fff6 350px,#00fbff 360px,#00eeff 370px,#00e1ff 380px,#00d4ff 390px,#00c7ff 400px,#00bbff 410px,#00afff 420px,#00a3ff 430px,#0097ff 440px,#008bff 450px,#007fff 460px,#0073ff 470px,#0066ff 480px,#0059ff 490px,#004bff 500px,#003fff 510px,#0032ff 520px,#0026ff 530px,#001aff 540px,#000fff 550px,#0004ff 560px,#0000f9 570px,#0000ef 580px,#0000e5 590px,#0000db 600px,#0000d2 610px,#0000ca 620px,#0000c5 626px)"></i><i style="left:173px;width:4px;background:linear-gradient(#800000 0,#800000 100px,#880000 110px,#b30000 120px,#e60000 130px,#ff1500 140px,#ff4000 150px,#ff6900 160px,#ff8c00 170px,#ffaa00 180px,#ffc600 190px,#ffe000 200px,#fff800 210px,#efff10 220px,#d9ff26 230px,#c5ff3a 240px,#b1ff4e 250px,#9dff62 260px,#8aff75 270px,#75ff8a 280px,#5effa1 290px,#49ffb6 300px,#39ffc6 310px,#2bffd4 320px,#1fffe0 330px,#13ffec 340px,#08fff7 350px,#00faff 360px,#00edff 370px,#00e1ff 380px,#00d4ff 390px,#00c7ff 400px,#00bbff 410px,#00afff 420px,#00a3ff 430px,#0097ff 440px,#008bff 450px,#007fff 460px,#0073ff 470px,#0066ff 480px,#0059ff 490px,#004cff 500px,#003fff 510px,#0032ff 520px,#0026ff 530px,#001aff 540px,#000fff 550px,#0004ff 560px,#0000f9 570px,#0000ef 580px,#0000e5 590px,#0000db 600px,#0000d2 610px,#0000c9 620px,#0000c4 626px)"></i><i style="left:177px;width:4px;background:linear-gradient(#800000 0,#800000 100px,#870000 110px,#b10000 120px,#e50000 130px,#ff1300 140px,#ff3f00 150px,#ff6800 160px,#ff8b00 170px,#ffaa00 180px,#ffc600 190px,#ffe000 200px,#fff800 210px,#efff10 220px,#d9ff26 230px,#c5ff3a 240px,#b2ff4d 250px,#9eff61 260px,#8aff75 270px,#75ff8a 280px,#5dffa2 290px,#48ffb7 300px,#37ffc8 310px,#2affd5 320px,#1effe1 330px,#12ffed 340px,#06fff9 350px,#00f9ff 360px,#00edff 370px,#00e0ff 380px,#00d4ff 390px,#00c8ff 400px,#00bcff 410px,#00afff 420px,#00a3ff 430px,#0097ff 440px,#008bff 450px,#007fff 460px,#0073ff 470px,#0066ff 480px,#0059ff 490px,#004cff 500px,#003fff 510px,#0032ff 520px,#0026ff 530px,#001aff 540px,#000fff 550px,#0004ff 560px,#0000f9 570px,#0000ef 580px,#0000e5 590px,#0000db 600px,#0000d2 610px,#0000c9 620px,#0000c4 626px)"></i><i style="left:181px;width:4px;background:linear-gradient(#800000 0,#800000 100px,#850000 110px,#af0000 120px,#e30000 130px,#ff1200 140px,#ff3e00 150px,#ff6700 160px,#ff8a00 170px,#ffa900 180px,#ffc500 190px,#ffdf00 200px,#fff800 210px,#efff10 220px,#daff25 230px,#c6ff39 240px,#b2ff4d 250px,#9fff60 260px,#8bff74 270px,#75ff8a 280px,#5cffa3 290px,#46ffb9 300px,#36ffc9 310px,#28ffd7 320px,#1cffe3 330px,#11ffee 340px,#05fffa 350px,#00f8ff 360px,#00ecff 370px,#00e0ff 380px,#00d4ff 390px,#00c8ff 400px,#00bcff 410px,#00afff 420px,#00a3ff 430px,#0097ff 440px,#008bff 450px,#007fff 460px,#0073ff 470px,#0066ff 480px,#0059ff 490px,#004cff 500px,#003fff 510px,#0032ff 520px,#0026ff 530px,#001aff 540px,#000fff 550px,#0004ff 560px,#0000f9 570px,#0000ef 580px,#0000e5 590px,#0000db 600px,#0000d2 610px,#0000c9 620px,#0000c4 626px)"></i><i style="left:185px;width:4px;background:linear-gradient(#800000 0,#800000 100px,#840000 110px,#ae0000 120px,#e20000 130px,#ff1100 140px,#ff3d00 150px,#ff6600 160px,#ff8900 170px,#ffa800 180px,#ffc500 190px,#ffdf00 200px,#fff800 210px,#efff10 220px,#daff25 230px,#c6ff39 240px,#b3ff4c 250px,#a0ff5f 260px,#8bff74 270px,#75ff8a 280px,#5bffa4 290px,#44ffbb 300px,#34ffcb 310px,#27ffd8 320px,#1bffe4 330px,#0ffff0 340px,#04fffb 350px,#00f7ff 360px,#00ecff 370px,#00e0ff 380px,#00d5ff 390px,#00c8ff 400px,#00bcff 410px,#00b0ff 420px,#00a3ff 430px,#0097ff 440px,#008bff 450px,#007fff 460px,#0073ff 470px,#0066ff 480px,#0059ff 490px,#004cff 500px,#003fff 510px,#0032ff 520px,#0026ff 530px,#001aff 540px,#000fff 550px,#0004ff 560px,#0000f9 570px,#0000ee 580px,#0000e5 590px,#0000db 600px,#0000d2 610px,#0000c9 620px,#0000c4 626px)"></i><i style="left:189px;width:4px;background:linear-gradient(#800000 0,#800000 100px,#830000 110px,#ac0000 120px,#e00000 130px,#ff1000 140px,#ff3b00 150px,#ff6400 160px,#ff8800 170px,#ffa700 180px,#ffc400 190px,#ffdf00 200px,#fff800 210px,#efff10 220px,#daff25 230px,#c7ff38 240px,#b4ff4b 250px,#a1ff5e 260px,#8cff73 270px,#75ff8a 280px,#59ffa6 290px,#42ffbd 300px,#32ffcd 310px,#25ffda 320px,#19ffe6 330px,#0efff1 340px,#03fffc 350px,#00f7ff 360px,#00ecff 370px,#00e0ff 380px,#00d5ff 390px,#00c9ff 400px,#00bdff 410px,#00b0ff 420px,#00a3ff 430px,#0097ff 440px,#008bff 450px,#007fff 460px,#0073ff 470px,#0066ff 480px,#0059ff 490px,#004cff 500px,#003fff 510px,#0033ff 520px,#0026ff 530px,#001aff 540px,#000fff 550px,#0004ff 560px,#0000f9 570px,#0000ee 580px,#0000e4 590px,#0000db 600px,#0000d2 610px,#0000c9 620px,#0000c4 626px)"></i><i style="left:193px;width:4px;background:linear-gradient(#800000 0,#800000 100px,#820000 110px,#aa0000 120px,#de0000 130px,#ff0e00 140px,#ff3a00 150px,#ff6300 160px,#ff8700 170px,#ffa600 180px,#ffc300 190px,#ffde00 200px,#fff700 210px,#f0ff0f 220px,#dbff24 230px,#c8ff37 240px,#b5ff4a 250px,#a2ff5d 260px,#8eff71 270px,#75ff8a 280px,#56ffa9 290px,#40ffbf 300px,#30ffcf 310px,#23ffdc 320px,#17ffe8 330px,#0dfff2 340px,#02fffd 350px,#00f6ff 360px,#00ebff 370px,#00e1ff 380px,#00d6ff 390px,#00caff 400px,#00bdff 410px,#00b0ff 420px,#00a3ff 430px,#0097ff 440px,#008bff 450px,#007fff 460px,#0073ff 470px,#0066ff 480px,#0059ff 490px,#004cff 500px,#003fff 510px,#0033ff 520px,#0026ff 530px,#001aff 540px,#000fff 550px,#0004ff 560px,#0000f9 570px,#0000ee 580px,#0000e4 590px,#0000db 600px,#0000d1 610px,#0000c8 620px,#0000c3 626px)"></i><i style="left:197px;width:4px;background:linear-gradient(#800000 0,#800000 100px,#810000 110px,#a80000 120px,#dc0000 130px,#ff0d00 140px,#ff3800 150px,#ff6100 160px,#ff8500 170px,#ffa500 180px,#ffc300 190px,#ffde00 200px,#fff700 210px,#f0ff0f 220px,#dbff24 230px,#c9ff36 240px,#b7ff48 250px,#a4ff5b 260px,#8fff70 270px,#76ff89 280px,#54ffab 290px,#3dffc2 300px,#2dffd2 310px,#21ffde 320px,#16ffe9 330px,#0bfff4 340px,#01fffe 350px,#00f5ff 360px,#00ebff 370px,#00e1ff 380px,#00d6ff 390px,#00caff 400px,#00beff 410px,#00b0ff 420px,#00a4ff 430px,#0097ff 440px,#008bff 450px,#007fff 460px,#0073ff 470px,#0066ff 480px,#0059ff 490px,#004cff 500px,#003fff 510px,#0033ff 520px,#0026ff 530px,#001aff 540px,#000fff 550px,#0004ff 560px,#0000f9 570px,#0000ee 580px,#0000e4 590px,#0000da 600px,#0000d1 610px,#0000c8 620px,#0000c3 626px)"></i><i style="left:201px;width:4px;background:linear-gradient(#800000 0,#800000 110px,#a60000 120px,#db0000 130px,#ff0b00 140px,#ff3700 150px,#ff6000 160px,#ff8400 170px,#ffa400 180px,#ffc200 190px,#ffdd00 200px,#fff700 210px,#f0ff0f 220px,#dcff23 230px,#caff35 240px,#b8ff47 250px,#a5ff5a 260px,#90ff6f 270px,#76ff89 280px,#51ffae 290px,#3bffc4 300px,#2bffd4 310px,#1fffe0 320px,#14ffeb 330px,#0afff5 340px,#00ffff 350px,#00f4ff 360px,#00ebff 370px,#00e1ff 380px,#00d7ff 390px,#00cbff 400px,#00beff 410px,#00b1ff 420px,#00a4ff 430px,#0097ff 440px,#008bff 450px,#007fff 460px,#0073ff 470px,#0066ff 480px,#0059ff 490px,#004cff 500px,#0040ff 510px,#0033ff 520px,#0027ff 530px,#001bff 540px,#000fff 550px,#0004ff 560px,#0000f9 570px,#0000ee 580px,#0000e4 590px,#0000da 600px,#0000d1 610px,#0000c8 620px,#0000c2 626px)"></i><i style="left:205px;width:4px;background:linear-gradient(#800000 0,#800000 110px,#a40000 120px,#d90000 130px,#ff0a00 140px,#ff3500 150px,#ff5e00 160px,#ff8300 170px,#ffa300 180px,#ffc100 190px,#ffdd00 200px,#fff700 210px,#f0ff0f 220px,#dcff23 230px,#cbff34 240px,#b9ff46 250px,#a6ff59 260px,#91ff6e 270px,#76ff89 280px,#4effb1 290px,#38ffc7 300px,#29ffd6 310px,#1dffe2 320px,#12ffed 330px,#09fff6 340px,#00fdff 350px,#00f4ff 360px,#00ebff 370px,#00e1ff 380px,#00d7ff 390px,#00cbff 400px,#00bfff 410px,#00b1ff 420px,#00a4ff 430px,#0097ff 440px,#008bff 450px,#007fff 460px,#0073ff 470px,#0066ff 480px,#0059ff 490px,#004cff 500px,#0040ff 510px,#0033ff 520px,#0027ff 530px,#001bff 540px,#000fff 550px,#0004ff 560px,#0000f9 570px,#0000ee 580px,#0000e4 590px,#0000da 600px,#0000d0 610px,#0000c7 620px,#0000c2 626px)"></i><i style="left:209px;width:4px;background:linear-gradient(#800000 0,#800000 110px,#a30000 120px,#d70000 130px,#ff0900 140px,#ff3400 150px,#ff5d00 160px,#ff8200 170px,#ffa200 180px,#ffc100 190px,#ffdd00 200px,#fff600 210px,#f0ff0f 220px,#ddff22 230px,#cbff34 240px,#baff45 250px,#a8ff57 260px,#92ff6d 270px,#77ff88 280px,#4cffb3 290px,#36ffc9 300px,#27ffd8 310px,#1bffe4 320px,#11ffee 330px,#07fff8 340px,#00fcff 350px,#00f3ff 360px,#00eaff 370px,#00e1ff 380px,#00d8ff 390px,#00ccff 400px,#00bfff 410px,#00b1ff 420px,#00a4ff 430px,#0098ff 440px,#008bff 450px,#007fff 460px,#0073ff 470px,#0066ff 480px,#0059ff 490px,#004cff 500px,#0040ff 510px,#0033ff 520px,#0027ff 530px,#001bff 540px,#000fff 550px,#0004ff 560px,#0000f8 570px,#0000ee 580px,#0000e4 590px,#0000da 600px,#0000d0 610px,#0000c7 620px,#0000c2 626px)"></i><i style="left:213px;width:4px;background:linear-gradient(#800000 0,#800000 110px,#a10000 120px,#d50000 130px,#ff0700 140px,#ff3200 150px,#ff5b00 160px,#ff8000 170px,#ffa100 180px,#ffc000 190px,#ffdc00 200px,#fff600 210px,#f1ff0e 220px,#ddff22 230px,#ccff33 240px,#bbff44 250px,#a9ff56 260px,#93ff6c 270px,#77ff88 280px,#49ffb6 290px,#33ffcc 300px,#24ffdb 310px,#19ffe6 320px,#0ffff0 330px,#06fff9 340px,#00fbff 350px,#00f2ff 360px,#00eaff 370px,#00e2ff 380px,#00d8ff 390px,#00cdff 400px,#00c0ff 410px,#00b2ff 420px,#00a4ff 430px,#0098ff 440px,#008bff 450px,#007fff 460px,#0073ff 470px,#0066ff 480px,#0059ff 490px,#004dff 500px,#0040ff 510px,#0033ff 520px,#0027ff 530px,#001bff 540px,#000fff 550px,#0004ff 560px,#0000f8 570px,#0000ee 580px,#0000e4 590px,#0000da 600px,#0000d0 610px,#0000c7 620px,#0000c1 626px)"></i><i style="left:217px;width:4px;background:linear-gradient(#800000 0,#800000 110px,#9f0000 120px,#d40000 130px,#ff0600 140px,#ff3100 150px,#ff5a00 160px,#ff7f00 170px,#ffa000 180px,#ffbf00 190px,#ffdc00 200px,#fff600 210px,#f1ff0e 220px,#deff21 230px,#cdff32 240px,#bcff43 250px,#aaff55 260px,#94ff6b 270px,#77ff88 280px,#48ffb7 290px,#32ffcd 300px,#23ffdc 310px,#18ffe7 320px,#0efff1 330px,#05fffa 340px,#00fbff 350px,#00f2ff 360px,#00eaff 370px,#00e2ff 380px,#00d9ff 390px,#00cdff 400px,#00c0ff 410px,#00b2ff 420px,#00a4ff 430px,#0098ff 440px,#008bff 450px,#007fff 460px,#0073ff 470px,#0066ff 480px,#0059ff 490px,#004dff 500px,#0040ff 510px,#0034ff 520px,#0027ff 530px,#001bff 540px,#000fff 550px,#0004ff 560px,#0000f8 570px,#0000ee 580px,#0000e3 590px,#0000d9 600px,#0000d0 610px,#0000c6 620px,#0000c1 626px)"></i><i style="left:221px;width:4px;background:linear-gradient(#800000 0,#800000 110px,#9e0000 120px,#d20000 130px,#ff0500 140px,#ff3000 150px,#ff5900 160px,#ff7e00 170px,#ffa000 180px,#ffbf00 190px,#ffdb00 200px,#fff600 210px,#f1ff0e 220px,#deff21 230px,#cdff32 240px,#bdff42 250px,#aaff55 260px,#94ff6b 270px,#77ff88 280px,#47ffb8 290px,#31ffce 300px,#23ffdc 310px,#17ffe8 320px,#0efff1 330px,#05fffa 340px,#00faff 350px,#00f2ff 360px,#00eaff 370px,#00e2ff 380px,#00d9ff 390px,#00ceff 400px,#00c1ff 410px,#00b2ff 420px,#00a5ff 430px,#0098ff 440px,#008bff 450px,#007fff 460px,#0073ff 470px,#0066ff 480px,#0059ff 490px,#004dff 500px,#0040ff 510px,#0034ff 520px,#0027ff 530px,#001bff 540px,#000fff 550px,#0004ff 560px,#0000f8 570px,#0000ee 580px,#0000e3 590px,#0000d9 600px,#0000cf 610px,#0000c6 620px,#0000c0 626px)"></i><i style="left:225px;width:4px;background:linear-gradient(#800000 0,#800000 110px,#9c0000 120px,#d10000 130px,#ff0400 140px,#ff2f00 150px,#ff5800 160px,#ff7d00 170px,#ff9f00 180px,#ffbe00 190px,#ffdb00 200px,#fff500 210px,#f1ff0e 220px,#deff21 230px,#cdff32 240px,#bdff42 250px,#abff54 260px,#94ff6b 270px,#77ff88 280px,#46ffb9 290px,#31ffce 300px,#22ffdd 310px,#17ffe8 320px,#0efff1 330px,#05fffa 340px,#00faff 350px,#00f2ff 360px,#00ebff 370px,#00e3ff 380px,#00daff 390px,#00cfff 400px,#00c1ff 410px,#00b3ff 420px,#00a5ff 430px,#0098ff 440px,#008bff 450px,#007fff 460px,#0073ff 470px,#0066ff 480px,#005aff 490px,#004dff 500px,#0040ff 510px,#0034ff 520px,#0027ff 530px,#001bff 540px,#000fff 550px,#0004ff 560px,#0000f8 570px,#0000ed 580px,#0000e3 590px,#0000d9 600px,#0000cf 610px,#0000c5 620px,#0000c0 626px)"></i><i style="left:229px;width:4px;background:linear-gradient(#800000 0,#800000 110px,#9b0000 120px,#cf0000 130px,#ff0300 140px,#ff2e00 150px,#ff5700 160px,#ff7d00 170px,#ff9e00 180px,#ffbe00 190px,#ffdb00 200px,#fff500 210px,#f1ff0e 220px,#deff21 230px,#ceff31 240px,#bdff42 250px,#abff54 260px,#95ff6a 270px,#77ff88 280px,#45ffba 290px,#30ffcf 300px,#22ffdd 310px,#17ffe8 320px,#0dfff2 330px,#05fffa 340px,#00faff 350px,#00f2ff 360px,#00ebff 370px,#00e3ff 380px,#00dbff 390px,#00cfff 400px,#00c2ff 410px,#00b3ff 420px,#00a5ff 430px,#0098ff 440px,#008cff 450px,#007fff 460px,#0073ff 470px,#0066ff 480px,#005aff 490px,#004dff 500px,#0041ff 510px,#0034ff 520px,#0027ff 530px,#001bff 540px,#0010ff 550px,#0004ff 560px,#0000f8 570px,#0000ed 580px,#0000e3 590px,#0000d8 600px,#0000ce 610px,#0000c5 620px,#0000bf 626px)"></i><i style="left:233px;width:4px;background:linear-gradient(#800000 0,#800000 110px,#9a0000 120px,#ce0000 130px,#ff0200 140px,#ff2d00 150px,#ff5600 160px,#ff7c00 170px,#ff9e00 180px,#ffbd00 190px,#ffda00 200px,#fff500 210px,#f2ff0d 220px,#deff21 230px,#ceff31 240px,#bdff42 250px,#abff54 260px,#95ff6a 270px,#77ff88 280px,#45ffba 290px,#30ffcf 300px,#21ffde 310px,#16ffe9 320px,#0dfff2 330px,#04fffb 340px,#00faff 350px,#00f2ff 360px,#00ebff 370px,#00e4ff 380px,#00dbff 390px,#00d0ff 400px,#00c2ff 410px,#00b3ff 420px,#00a5ff 430px,#0098ff 440px,#008cff 450px,#007fff 460px,#0073ff 470px,#0066ff 480px,#005aff 490px,#004dff 500px,#0041ff 510px,#0034ff 520px,#0028ff 530px,#001bff 540px,#0010ff 550px,#0004ff 560px,#0000f8 570px,#0000ed 580px,#0000e3 590px,#0000d8 600px,#0000ce 610px,#0000c4 620px,#0000bf 626px)"></i><i style="left:237px;width:4px;background:linear-gradient(#800000 0,#800000 110px,#980000 120px,#cc0000 130px,#ff0000 140px,#ff2c00 150px,#ff5500 160px,#ff7b00 170px,#ff9d00 180px,#ffbd00 190px,#ffda00 200px,#fff500 210px,#f2ff0d 220px,#dfff20 230px,#ceff31 240px,#beff41 250px,#abff54 260px,#95ff6a 270px,#77ff88 280px,#44ffbb 290px,#30ffcf 300px,#21ffde 310px,#16ffe9 320px,#0dfff2 330px,#04fffb 340px,#00faff 350px,#00f3ff 360px,#00ecff 370px,#00e4ff 380px,#00dcff 390px,#00d1ff 400px,#00c3ff 410px,#00b4ff 420px,#00a5ff 430px,#0098ff 440px,#008cff 450px,#007fff 460px,#0073ff 470px,#0066ff 480px,#005aff 490px,#004dff 500px,#0041ff 510px,#0034ff 520px,#0028ff 530px,#001bff 540px,#0010ff 550px,#0004ff 560px,#0000f8 570px,#0000ed 580px,#0000e2 590px,#0000d8 600px,#0000ce 610px,#0000c4 620px,#0000be 626px)"></i><i style="left:241px;width:4px;background:linear-gradient(#800000 0,#800000 110px,#970000 120px,#cb0000 130px,#fe0000 140px,#ff2b00 150px,#ff5400 160px,#ff7a00 170px,#ff9c00 180px,#ffbc00 190px,#ffda00 200px,#fff500 210px,#f2ff0d 220px,#dfff20 230px,#ceff31 240px,#beff41 250px,#acff53 260px,#95ff6a 270px,#77ff88 280px,#43ffbc 290px,#2fffd0 300px,#21ffde 310px,#16ffe9 320px,#0dfff2 330px,#04fffb 340px,#00faff 350px,#00f3ff 360px,#00ecff 370px,#00e5ff 380px,#00dcff 390px,#00d1ff 400px,#00c3ff 410px,#00b4ff 420px,#00a5ff 430px,#0098ff 440px,#008cff 450px,#007fff 460px,#0073ff 470px,#0066ff 480px,#005aff 490px,#004dff 500px,#0041ff 510px,#0034ff 520px,#0028ff 530px,#001cff 540px,#0010ff 550px,#0004ff 560px,#0000f8 570px,#0000ed 580px,#0000e2 590px,#0000d8 600px,#0000cd 610px,#0000c3 620px,#0000bd 626px)"></i><i style="left:245px;width:4px;background:linear-gradient(#800000 0,#800000 110px,#960000 120px,#c90000 130px,#fd0000 140px,#ff2a00 150px,#ff5300 160px,#ff7900 170px,#ff9b00 180px,#ffbc00 190px,#ffd900 200px,#fff400 210px,#f2ff0d 220px,#dfff20 230px,#ceff31 240px,#beff41 250px,#acff53 260px,#96ff69 270px,#77ff88 280px,#43ffbc 290px,#2fffd0 300px,#20ffdf 310px,#15ffea 320px,#0cfff3 330px,#04fffb 340px,#00faff 350px,#00f3ff 360px,#00ecff 370px,#00e5ff 380px,#00ddff 390px,#00d2ff 400px,#00c4ff 410px,#00b4ff 420px,#00a6ff 430px,#0098ff 440px,#008cff 450px,#007fff 460px,#0073ff 470px,#0066ff 480px,#005aff 490px,#004eff 500px,#0041ff 510px,#0035ff 520px,#0028ff 530px,#001cff 540px,#0010ff 550px,#0004ff 560px,#0000f8 570px,#0000ed 580px,#0000e2 590px,#0000d7 600px,#0000cd 610px,#0000c3 620px,#0000bd 626px)"></i><i style="left:249px;width:4px;background:linear-gradient(#800000 0,#800000 110px,#940000 120px,#c80000 130px,#fc0000 140px,#ff2900 150px,#ff5200 160px,#ff7800 170px,#ff9b00 180px,#ffbb00 190px,#ffd900 200px,#fff400 210px,#f2ff0d 220px,#dfff20 230px,#ceff31 240px,#beff41 250px,#acff53 260px,#96ff69 270px,#77ff88 280px,#42ffbd 290px,#2fffd0 300px,#20ffdf 310px,#15ffea 320px,#0cfff3 330px,#04fffb 340px,#00faff 350px,#00f3ff 360px,#00edff 370px,#00e6ff 380px,#00deff 390px,#00d2ff 400px,#00c4ff 410px,#00b4ff 420px,#00a6ff 430px,#0099ff 440px,#008cff 450px,#007fff 460px,#0073ff 470px,#0066ff 480px,#005aff 490px,#004eff 500px,#0041ff 510px,#0035ff 520px,#0028ff 530px,#001cff 540px,#0010ff 550px,#0004ff 560px,#0000f8 570px,#0000ed 580px,#0000e2 590px,#0000d7 600px,#0000cc 610px,#0000c2 620px,#0000bc 626px)"></i><i style="left:253px;width:4px;background:linear-gradient(#800000 0,#800000 110px,#930000 120px,#c60000 130px,#fb0000 140px,#ff2800 150px,#ff5200 160px,#ff7800 170px,#ff9a00 180px,#ffbb00 190px,#ffd900 200px,#fff400 210px,#f2ff0d 220px,#dfff20 230px,#ceff31 240px,#beff41 250px,#acff53 260px,#95ff6a 270px,#77ff88 280px,#42ffbd 290px,#2fffd0 300px,#20ffdf 310px,#15ffea 320px,#0cfff3 330px,#04fffb 340px,#00fbff 350px,#00f3ff 360px,#00edff 370px,#00e6ff 380px,#00deff 390px,#00d3ff 400px,#00c4ff 410px,#00b5ff 420px,#00a6ff 430px,#0099ff 440px,#008cff 450px,#007fff 460px,#0073ff 470px,#0066ff 480px,#005aff 490px,#004eff 500px,#0042ff 510px,#0035ff 520px,#0028ff 530px,#001cff 540px,#0010ff 550px,#0004ff 560px,#0000f8 570px,#0000ec 580px,#0000e1 590px,#0000d7 600px,#0000cc 610px,#0000c2 620px,#0000bc 626px)"></i><i style="left:257px;width:4px;background:linear-gradient(#800000 0,#800000 110px,#920000 120px,#c50000 130px,#fa0000 140px,#ff2700 150px,#ff5100 160px,#ff7700 170px,#ff9a00 180px,#ffba00 190px,#ffd800 200px,#fff400 210px,#f2ff0d 220px,#dfff20 230px,#ceff31 240px,#beff41 250px,#acff53 260px,#95ff6a 270px,#76ff89 280px,#42ffbd 290px,#2fffd0 300px,#20ffdf 310px,#15ffea 320px,#0dfff2 330px,#04fffb 340px,#00fbff 350px,#00f4ff 360px,#00edff 370px,#00e7ff 380px,#00dfff 390px,#00d3ff 400px,#00c5ff 410px,#00b5ff 420px,#00a6ff 430px,#0099ff 440px,#008cff 450px,#007fff 460px,#0073ff 470px,#0066ff 480px,#005aff 490px,#004eff 500px,#0042ff 510px,#0035ff 520px,#0028ff 530px,#001cff 540px,#0010ff 550px,#0004ff 560px,#0000f8 570px,#0000ec 580px,#0000e1 590px,#0000d6 600px,#0000cc 610px,#0000c1 620px,#0000bb 626px)"></i><i style="left:261px;width:4px;background:linear-gradient(#800000 0,#800000 110px,#910000 120px,#c40000 130px,#f90000 140px,#ff2600 150px,#ff5000 160px,#ff7600 170px,#ff9900 180px,#ffba00 190px,#ffd800 200px,#fff400 210px,#f2ff0d 220px,#dfff20 230px,#ceff31 240px,#beff41 250px,#acff53 260px,#95ff6a 270px,#76ff89 280px,#42ffbd 290px,#2fffd0 300px,#20ffdf 310px,#15ffea 320px,#0dfff2 330px,#04fffb 340px,#00fbff 350px,#00f4ff 360px,#00eeff 370px,#00e7ff 380px,#00dfff 390px,#00d4ff 400px,#00c5ff 410px,#00b5ff 420px,#00a6ff 430px,#0099ff 440px,#008cff 450px,#007fff 460px,#0073ff 470px,#0066ff 480px,#005aff 490px,#004eff 500px,#0042ff 510px,#0035ff 520px,#0029ff 530px,#001cff 540px,#0010ff 550px,#0004ff 560px,#0000f8 570px,#0000ec 580px,#0000e1 590px,#0000d6 600px,#0000cb 610px,#0000c1 620px,#0000ba 626px)"></i><i style="left:265px;width:4px;background:linear-gradient(#800000 0,#800000 110px,#900000 120px,#c20000 130px,#f80000 140px,#ff2500 150px,#ff4f00 160px,#ff7600 170px,#ff9800 180px,#ffb900 190px,#ffd800 200px,#fff300 210px,#f3ff0c 220px,#dfff20 230px,#ceff31 240px,#beff41 250px,#abff54 260px,#95ff6a 270px,#76ff89 280px,#42ffbd 290px,#2fffd0 300px,#20ffdf 310px,#16ffe9 320px,#0dfff2 330px,#05fffa 340px,#00fbff 350px,#00f4ff 360px,#00eeff 370px,#00e8ff 380px,#00e0ff 390px,#00d5ff 400px,#00c6ff 410px,#00b6ff 420px,#00a6ff 430px,#0099ff 440px,#008cff 450px,#007fff 460px,#0073ff 470px,#0066ff 480px,#005aff 490px,#004eff 500px,#0042ff 510px,#0035ff 520px,#0029ff 530px,#001cff 540px,#0010ff 550px,#0004ff 560px,#0000f7 570px,#0000ec 580px,#0000e1 590px,#0000d6 600px,#0000cb 610px,#0000c0 620px,#0000ba 626px)"></i><i style="left:269px;width:4px;background:linear-gradient(#800000 0,#800000 110px,#8f0000 120px,#c10000 130px,#f70000 140px,#ff2400 150px,#ff4e00 160px,#ff7500 170px,#ff9800 180px,#ffb900 190px,#ffd700 200px,#fff300 210px,#f3ff0c 220px,#dfff20 230px,#ceff31 240px,#beff41 250px,#abff54 260px,#95ff6a 270px,#75ff8a 280px,#42ffbd 290px,#2fffd0 300px,#21ffde 310px,#16ffe9 320px,#0dfff2 330px,#05fffa 340px,#00fbff 350px,#00f5ff 360px,#00efff 370px,#00e8ff 380px,#00e0ff 390px,#00d5ff 400px,#00c6ff 410px,#00b6ff 420px,#00a6ff 430px,#0099ff 440px,#008cff 450px,#007fff 460px,#0073ff 470px,#0066ff 480px,#005aff 490px,#004eff 500px,#0042ff 510px,#0035ff 520px,#0029ff 530px,#001cff 540px,#0010ff 550px,#0004ff 560px,#0000f7 570px,#0000ec 580px,#0000e0 590px,#0000d5 600px,#0000ca 610px,#0000bf 620px,#0000b9 626px)"></i><i style="left:273px;width:4px;background:linear-gradient(#800000 0,#800000 110px,#8e0000 120px,#bf0000 130px,#f60000 140px,#ff2300 150px,#ff4d00 160px,#ff7400 170px,#ff9700 180px,#ffb800 190px,#ffd700 200px,#fff300 210px,#f3ff0c 220px,#dfff20 230px,#ceff31 240px,#beff41 250px,#abff54 260px,#94ff6b 270px,#75ff8a 280px,#42ffbd 290px,#2fffd0 300px,#21ffde 310px,#16ffe9 320px,#0dfff2 330px,#05fffa 340px,#00fcff 350px,#00f5ff 360px,#00efff 370px,#00e9ff 380px,#00e1ff 390px,#00d6ff 400px,#00c7ff 410px,#00b6ff 420px,#00a7ff 430px,#0099ff 440px,#008cff 450px,#007fff 460px,#0073ff 470px,#0066ff 480px,#005aff 490px,#004eff 500px,#0042ff 510px,#0036ff 520px,#0029ff 530px,#001cff 540px,#0010ff 550px,#0004ff 560px,#0000f7 570px,#0000ec 580px,#0000e0 590px,#0000d5 600px,#0000ca 610px,#0000bf 620px,#0000b8 626px)"></i><i style="left:277px;width:4px;background:linear-gradient(#800000 0,#800000 110px,#8c0000 120px,#be0000 130px,#f50000 140px,#ff2200 150px,#ff4d00 160px,#ff7300 170px,#ff9700 180px,#ffb800 190px,#ffd700 200px,#fff300 210px,#f3ff0c 220px,#dfff20 230px,#ceff31 240px,#bdff42 250px,#abff54 260px,#94ff6b 270px,#75ff8a 280px,#42ffbd 290px,#2fffd0 300px,#21ffde 310px,#16ffe9 320px,#0dfff2 330px,#05fffa 340px,#00fcff 350px,#00f5ff 360px,#00efff 370px,#00e9ff 380px,#00e1ff 390px,#00d6ff 400px,#00c7ff 410px,#00b6ff 420px,#00a7ff 430px,#0099ff 440px,#008cff 450px,#007fff 460px,#0073ff 470px,#0066ff 480px,#005aff 490px,#004fff 500px,#0042ff 510px,#0036ff 520px,#0029ff 530px,#001cff 540px,#0010ff 550px,#0004ff 560px,#0000f7 570px,#0000ec 580px,#0000e0 590px,#0000d5 600px,#0000c9 610px,#0000be 620px,#0000b8 626px)"></i><i style="left:281px;width:4px;background:linear-gradient(#800000 0,#800000 110px,#8c0000 120px,#bd0000 130px,#f40000 140px,#ff2200 150px,#ff4c00 160px,#ff7300 170px,#ff9600 180px,#ffb800 190px,#ffd600 200px,#fff200 210px,#f3ff0c 220px,#dfff20 230px,#ceff31 240px,#bdff42 250px,#abff54 260px,#94ff6b 270px,#75ff8a 280px,#42ffbd 290px,#2fffd0 300px,#21ffde 310px,#16ffe9 320px,#0dfff2 330px,#05fffa 340px,#00fcff 350px,#00f5ff 360px,#00efff 370px,#00e9ff 380px,#00e2ff 390px,#00d6ff 400px,#00c7ff 410px,#00b6ff 420px,#00a7ff 430px,#0099ff 440px,#008cff 450px,#007fff 460px,#0073ff 470px,#0066ff 480px,#005aff 490px,#004fff 500px,#0042ff 510px,#0036ff 520px,#0029ff 530px,#001cff 540px,#0010ff 550px,#0004ff 560px,#0000f7 570px,#0000eb 580px,#0000e0 590px,#0000d4 600px,#0000c9 610px,#0000be 620px,#0000b7 626px)"></i><i style="left:285px;width:4px;background:linear-gradient(#800000 0,#800000 110px,#8b0000 120px,#bd0000 130px,#f40000 140px,#ff2200 150px,#ff4c00 160px,#ff7300 170px,#ff9600 180px,#ffb700 190px,#ffd600 200px,#fff200 210px,#f3ff0c 220px,#dfff20 230px,#ceff31 240px,#bdff42 250px,#abff54 260px,#94ff6b 270px,#74ff8b 280px,#42ffbd 290px,#2fffd0 300px,#21ffde 310px,#16ffe9 320px,#0dfff2 330px,#05fffa 340px,#00fcff 350px,#00f6ff 360px,#00f0ff 370px,#00e9ff 380px,#00e2ff 390px,#00d7ff 400px,#00c7ff 410px,#00b7ff 420px,#00a7ff 430px,#0099ff 440px,#008cff 450px,#007fff 460px,#0073ff 470px,#0066ff 480px,#005bff 490px,#004fff 500px,#0042ff 510px,#0036ff 520px,#0029ff 530px,#001cff 540px,#0010ff 550px,#0004ff 560px,#0000f7 570px,#0000eb 580px,#0000df 590px,#0000d4 600px,#0000c8 610px,#0000bd 620px,#0000b6 626px)"></i><i style="left:289px;width:4px;background:linear-gradient(#800000 0,#800000 110px,#8b0000 120px,#bc0000 130px,#f30000 140px,#ff2100 150px,#ff4b00 160px,#ff7200 170px,#ff9600 180px,#ffb700 190px,#ffd600 200px,#fff200 210px,#f3ff0c 220px,#dfff20 230px,#ceff31 240px,#bdff42 250px,#abff54 260px,#94ff6b 270px,#74ff8b 280px,#42ffbd 290px,#2fffd0 300px,#21ffde 310px,#16ffe9 320px,#0dfff2 330px,#06fff9 340px,#00fcff 350px,#00f6ff 360px,#00f0ff 370px,#00eaff 380px,#00e2ff 390px,#00d7ff 400px,#00c7ff 410px,#00b7ff 420px,#00a7ff 430px,#0099ff 440px,#008cff 450px,#007fff 460px,#0073ff 470px,#0066ff 480px,#005bff 490px,#004fff 500px,#0042ff 510px,#0036ff 520px,#0029ff 530px,#001dff 540px,#0010ff 550px,#0004ff 560px,#0000f7 570px,#0000eb 580px,#0000df 590px,#0000d3 600px,#0000c8 610px,#0000bc 620px,#0000b6 626px)"></i><i style="left:293px;width:4px;background:linear-gradient(#800000 0,#800000 110px,#8b0000 120px,#bb0000 130px,#f30000 140px,#ff2100 150px,#ff4b00 160px,#ff7200 170px,#ff9600 180px,#ffb700 190px,#ffd600 200px,#fff200 210px,#f4ff0b 220px,#e0ff1f 230px,#ceff31 240px,#bdff42 250px,#abff54 260px,#94ff6b 270px,#74ff8b 280px,#42ffbd 290px,#2fffd0 300px,#21ffde 310px,#16ffe9 320px,#0efff1 330px,#06fff9 340px,#00fdff 350px,#00f6ff 360px,#00f0ff 370px,#00eaff 380px,#00e2ff 390px,#00d7ff 400px,#00c8ff 410px,#00b7ff 420px,#00a7ff 430px,#0099ff 440px,#008cff 450px,#007fff 460px,#0073ff 470px,#0066ff 480px,#005bff 490px,#004fff 500px,#0043ff 510px,#0036ff 520px,#0029ff 530px,#001dff 540px,#0010ff 550px,#0004ff 560px,#0000f7 570px,#0000eb 580px,#0000df 590px,#0000d3 600px,#0000c7 610px,#0000bc 620px,#0000b5 626px)"></i><i style="left:297px;width:4px;background:linear-gradient(#800000 0,#800000 110px,#8a0000 120px,#bb0000 130px,#f20000 140px,#ff2000 150px,#ff4b00 160px,#ff7200 170px,#ff9500 180px,#ffb600 190px,#ffd500 200px,#fff100 210px,#f4ff0b 220px,#e0ff1f 230px,#ceff31 240px,#bdff42 250px,#abff54 260px,#94ff6b 270px,#74ff8b 280px,#42ffbd 290px,#2fffd0 300px,#21ffde 310px,#16ffe9 320px,#0efff1 330px,#06fff9 340px,#00fdff 350px,#00f6ff 360px,#00f0ff 370px,#00eaff 380px,#00e2ff 390px,#00d7ff 400px,#00c8ff 410px,#00b7ff 420px,#00a7ff 430px,#0099ff 440px,#008cff 450px,#007fff 460px,#0073ff 470px,#0067ff 480px,#005bff 490px,#004fff 500px,#0043ff 510px,#0036ff 520px,#0029ff 530px,#001dff 540px,#0010ff 550px,#0004ff 560px,#0000f7 570px,#0000eb 580px,#0000df 590px,#0000d3 600px,#0000c7 610px,#0000bb 620px,#0000b4 626px)"></i><i style="left:301px;width:4px;background:linear-gradient(#800000 0,#800000 110px,#8a0000 120px,#ba0000 130px,#f20000 140px,#ff2000 150px,#ff4a00 160px,#ff7200 170px,#ff9500 180px,#ffb600 190px,#ffd500 200px,#fff100 210px,#f4ff0b 220px,#e0ff1f 230px,#ceff31 240px,#bdff42 250px,#aaff55 260px,#94ff6b 270px,#74ff8b 280px,#42ffbd 290px,#2fffd0 300px,#21ffde 310px,#17ffe8 320px,#0efff1 330px,#06fff9 340px,#00fdff 350px,#00f6ff 360px,#00f0ff 370px,#00eaff 380px,#00e3ff 390px,#00d7ff 400px,#00c8ff 410px,#00b7ff 420px,#00a7ff 430px,#0099ff 440px,#008cff 450px,#007fff 460px,#0073ff 470px,#0067ff 480px,#005bff 490px,#004fff 500px,#0043ff 510px,#0036ff 520px,#0029ff 530px,#001dff 540px,#0010ff 550px,#0004ff 560px,#0000f7 570px,#0000ea 580px,#0000de 590px,#0000d2 600px,#0000c6 610px,#0000bb 620px,#0000b4 626px)"></i><i style="left:305px;width:4px;background:linear-gradient(#800000 0,#800000 110px,#890000 120px,#b90000 130px,#f10000 140px,#ff1f00 150px,#ff4a00 160px,#ff7100 170px,#ff9500 180px,#ffb600 190px,#ffd500 200px,#fff100 210px,#f4ff0b 220px,#e0ff1f 230px,#ceff31 240px,#bdff42 250px,#aaff55 260px,#93ff6c 270px,#73ff8c 280px,#42ffbd 290px,#2fffd0 300px,#21ffde 310px,#17ffe8 320px,#0efff1 330px,#06fff9 340px,#00fdff 350px,#00f6ff 360px,#00f1ff 370px,#00ebff 380px,#00e3ff 390px,#00d8ff 400px,#00c8ff 410px,#00b7ff 420px,#00a7ff 430px,#0099ff 440px,#008cff 450px,#007fff 460px,#0073ff 470px,#0067ff 480px,#005bff 490px,#004fff 500px,#0043ff 510px,#0036ff 520px,#0029ff 530px,#001dff 540px,#0010ff 550px,#0004ff 560px,#0000f7 570px,#0000ea 580px,#0000de 590px,#0000d2 600px,#0000c6 610px,#0000ba 620px,#0000b3 626px)"></i><i style="left:309px;width:4px;background:linear-gradient(#800000 0,#800000 110px,#890000 120px,#b90000 130px,#f10000 140px,#ff1f00 150px,#ff4a00 160px,#ff7100 170px,#ff9500 180px,#ffb600 190px,#ffd400 200px,#fff100 210px,#f4ff0b 220px,#e0ff1f 230px,#ceff31 240px,#bdff42 250px,#aaff55 260px,#93ff6c 270px,#73ff8c 280px,#42ffbd 290px,#30ffcf 300px,#22ffdd 310px,#17ffe8 320px,#0efff1 330px,#06fff9 340px,#00fdff 350px,#00f7ff 360px,#00f1ff 370px,#00ebff 380px,#00e3ff 390px,#00d8ff 400px,#00c8ff 410px,#00b7ff 420px,#00a7ff 430px,#0099ff 440px,#008cff 450px,#007fff 460px,#0073ff 470px,#0066ff 480px,#005bff 490px,#004fff 500px,#0043ff 510px,#0036ff 520px,#0029ff 530px,#001dff 540px,#0010ff 550px,#0004ff 560px,#0000f6 570px,#0000ea 580px,#0000de 590px,#0000d2 600px,#0000c5 610px,#0000b9 620px,#0000b2 626px)"></i><i style="left:313px;width:4px;background:linear-gradient(#800000 0,#800000 110px,#8b0000 120px,#bc0000 130px,#f30000 140px,#ff2100 150px,#ff4b00 160px,#ff7200 170px,#ff9500 180px,#ffb600 190px,#ffd400 200px,#fff000 210px,#f5ff0a 220px,#e0ff1f 230px,#cfff30 240px,#beff41 250px,#abff54 260px,#94ff6b 270px,#74ff8b 280px,#43ffbc 290px,#30ffcf 300px,#22ffdd 310px,#17ffe8 320px,#0efff1 330px,#07fff8 340px,#00feff 350px,#00f7ff 360px,#00f1ff 370px,#00eaff 380px,#00e3ff 390px,#00d7ff 400px,#00c8ff 410px,#00b7ff 420px,#00a6ff 430px,#0099ff 440px,#008bff 450px,#007eff 460px,#0072ff 470px,#0066ff 480px,#005aff 490px,#004eff 500px,#0042ff 510px,#0035ff 520px,#0029ff 530px,#001cff 540px,#000fff 550px,#0003ff 560px,#0000f6 570px,#0000e9 580px,#0000dd 590px,#0000d1 600px,#0000c5 610px,#0000b9 620px,#0000b1 626px)"></i><i style="left:317px;width:4px;background:linear-gradient(#800000 0,#800000 110px,#8d0000 120px,#be0000 130px,#f50000 140px,#ff2300 150px,#ff4d00 160px,#ff7400 170px,#ff9600 180px,#ffb600 190px,#ffd400 200px,#fff000 210px,#f5ff0a 220px,#e1ff1e 230px,#cfff30 240px,#beff41 250px,#abff54 260px,#94ff6b 270px,#75ff8a 280px,#44ffbb 290px,#31ffce 300px,#22ffdd 310px,#18ffe7 320px,#0ffff0 330px,#07fff8 340px,#00feff 350px,#00f6ff 360px,#00f0ff 370px,#00eaff 380px,#00e2ff 390px,#00d7ff 400px,#00c7ff 410px,#00b6ff 420px,#00a6ff 430px,#0098ff 440px,#008bff 450px,#007eff 460px,#0071ff 470px,#0065ff 480px,#0059ff 490px,#004dff 500px,#0041ff 510px,#0035ff 520px,#0028ff 530px,#001bff 540px,#000fff 550px,#0002ff 560px,#0000f5 570px,#0000e9 580px,#0000dc 590px,#0000d0 600px,#0000c4 610px,#0000b8 620px,#0000b0 626px)"></i><i style="left:321px;width:4px;background:linear-gradient(#800000 0,#800000 110px,#8f0000 120px,#c10000 130px,#f70000 140px,#ff2500 150px,#ff4f00 160px,#ff7500 170px,#ff9700 180px,#ffb700 190px,#ffd400 200px,#ffef00 210px,#f6ff09 220px,#e1ff1e 230px,#cfff30 240px,#beff41 250px,#abff54 260px,#94ff6b 270px,#75ff8a 280px,#46ffb9 290px,#31ffce 300px,#23ffdc 310px,#18ffe7 320px,#0ffff0 330px,#07fff8 340px,#00feff 350px,#00f6ff 360px,#00f0ff 370px,#00eaff 380px,#00e2ff 390px,#00d6ff 400px,#00c7ff 410px,#00b5ff 420px,#00a5ff 430px,#0097ff 440px,#008aff 450px,#007dff 460px,#0070ff 470px,#0064ff 480px,#0058ff 490px,#004cff 500px,#0040ff 510px,#0034ff 520px,#0027ff 530px,#001bff 540px,#000eff 550px,#0002ff 560px,#0000f4 570px,#0000e8 580px,#0000dc 590px,#0000cf 600px,#0000c3 610px,#0000b7 620px,#0000b0 626px)"></i><i style="left:325px;width:4px;background:linear-gradient(#800000 0,#800000 110px,#910000 120px,#c30000 130px,#f90000 140px,#ff2600 150px,#ff5000 160px,#ff7600 170px,#ff9800 180px,#ffb700 190px,#ffd400 200px,#ffef00 210px,#f6ff09 220px,#e2ff1d 230px,#d0ff2f 240px,#beff41 250px,#abff54 260px,#94ff6b 270px,#76ff89 280px,#47ffb8 290px,#32ffcd 300px,#23ffdc 310px,#18ffe7 320px,#0ffff0 330px,#07fff8 340px,#00feff 350px,#00f6ff 360px,#00f0ff 370px,#00eaff 380px,#00e2ff 390px,#00d6ff 400px,#00c6ff 410px,#00b5ff 420px,#00a5ff 430px,#0097ff 440px,#0089ff 450px,#007cff 460px,#0070ff 470px,#0063ff 480px,#0057ff 490px,#004cff 500px,#0040ff 510px,#0033ff 520px,#0027ff 530px,#001aff 540px,#000dff 550px,#0001ff 560px,#0000f4 570px,#0000e7 580px,#0000db 590px,#0000ce 600px,#0000c2 610px,#0000b6 620px,#0000af 626px)"></i><i style="left:329px;width:4px;background:linear-gradient(#800000 0,#800000 110px,#930000 120px,#c60000 130px,#fb0000 140px,#ff2800 150px,#ff5200 160px,#ff7700 170px,#ff9900 180px,#ffb800 190px,#ffd400 200px,#ffef00 210px,#f7ff08 220px,#e2ff1d 230px,#d0ff2f 240px,#beff41 250px,#abff54 260px,#95ff6a 270px,#77ff88 280px,#48ffb7 290px,#32ffcd 300px,#24ffdb 310px,#19ffe6 320px,#10ffef 330px,#07fff8 340px,#00feff 350px,#00f6ff 360px,#00f0ff 370px,#00e9ff 380px,#00e1ff 390px,#00d5ff 400px,#00c6ff 410px,#00b4ff 420px,#00a4ff 430px,#0096ff 440px,#0088ff 450px,#007bff 460px,#006fff 470px,#0062ff 480px,#0057ff 490px,#004bff 500px,#003fff 510px,#0032ff 520px,#0026ff 530px,#0019ff 540px,#000dff 550px,#0000ff 560px,#0000f3 570px,#0000e6 580px,#0000da 590px,#0000ce 600px,#0000c1 610px,#0000b5 620px,#0000ae 626px)"></i><i style="left:333px;width:4px;background:linear-gradient(#800000 0,#800000 110px,#950000 120px,#c90000 130px,#fd0000 140px,#ff2a00 150px,#ff5300 160px,#ff7900 170px,#ff9a00 180px,#ffb800 190px,#ffd400 200px,#ffee00 210px,#f7ff08 220px,#e3ff1c 230px,#d0ff2f 240px,#bfff40 250px,#acff53 260px,#95ff6a 270px,#77ff88 280px,#49ffb6 290px,#33ffcc 300px,#24ffdb 310px,#19ffe6 320px,#10ffef 330px,#08fff7 340px,#00feff 350px,#00f6ff 360px,#00f0ff 370px,#00e9ff 380px,#00e1ff 390px,#00d5ff 400px,#00c5ff 410px,#00b4ff 420px,#00a3ff 430px,#0095ff 440px,#0088ff 450px,#007bff 460px,#006eff 470px,#0062ff 480px,#0056ff 490px,#004aff 500px,#003eff 510px,#0032ff 520px,#0025ff 530px,#0019ff 540px,#000cff 550px,#0000ff 560px,#0000f2 570px,#0000e6 580px,#0000d9 590px,#0000cd 600px,#0000c1 610px,#0000b4 620px,#0000ad 626px)"></i><i style="left:337px;width:4px;background:linear-gradient(#800000 0,#800000 110px,#970000 120px,#cb0000 130px,#ff0000 140px,#ff2c00 150px,#ff5500 160px,#ff7a00 170px,#ff9a00 180px,#ffb800 190px,#ffd400 200px,#ffee00 210px,#f8ff07 220px,#e3ff1c 230px,#d1ff2e 240px,#bfff40 250px,#acff53 260px,#95ff6a 270px,#78ff87 280px,#4affb5 290px,#33ffcc 300px,#25ffda 310px,#19ffe6 320px,#10ffef 330px,#08fff7 340px,#00feff 350px,#00f6ff 360px,#00f0ff 370px,#00e9ff 380px,#00e1ff 390px,#00d5ff 400px,#00c5ff 410px,#00b3ff 420px,#00a3ff 430px,#0095ff 440px,#0087ff 450px,#007aff 460px,#006dff 470px,#0061ff 480px,#0055ff 490px,#0049ff 500px,#003dff 510px,#0031ff 520px,#0024ff 530px,#0018ff 540px,#000bff 550px,#0000fe 560px,#0000f1 570px,#0000e5 580px,#0000d9 590px,#0000cc 600px,#0000c0 610px,#0000b3 620px,#0000ac 626px)"></i><i style="left:341px;width:4px;background:linear-gradient(#800000 0,#800000 110px,#990000 120px,#ce0000 130px,#ff0200 140px,#ff2e00 150px,#ff5700 160px,#ff7b00 170px,#ff9b00 180px,#ffb900 190px,#ffd400 200px,#ffed00 210px,#f8ff07 220px,#e4ff1b 230px,#d1ff2e 240px,#bfff40 250px,#acff53 260px,#96ff69 270px,#79ff86 280px,#4bffb4 290px,#34ffcb 300px,#25ffda 310px,#1affe5 320px,#10ffef 330px,#08fff7 340px,#00feff 350px,#00f6ff 360px,#00f0ff 370px,#00e9ff 380px,#00e0ff 390px,#00d4ff 400px,#00c4ff 410px,#00b2ff 420px,#00a2ff 430px,#0094ff 440px,#0086ff 450px,#0079ff 460px,#006cff 470px,#0060ff 480px,#0054ff 490px,#0048ff 500px,#003cff 510px,#0030ff 520px,#0023ff 530px,#0017ff 540px,#000aff 550px,#0000fd 560px,#0000f0 570px,#0000e4 580px,#0000d8 590px,#0000cb 600px,#0000bf 610px,#0000b2 620px,#0000ab 626px)"></i><i style="left:345px;width:4px;background:linear-gradient(#800000 0,#800000 110px,#9d0000 120px,#d20000 130px,#ff0500 140px,#ff3000 150px,#ff5900 160px,#ff7d00 170px,#ff9c00 180px,#ffb900 190px,#ffd400 200px,#ffed00 210px,#f9ff06 220px,#e4ff1b 230px,#d2ff2d 240px,#c0ff3f 250px,#acff53 260px,#96ff69 270px,#7aff85 280px,#4dffb2 290px,#35ffca 300px,#26ffd9 310px,#1affe5 320px,#11ffee 330px,#08fff7 340px,#00feff 350px,#00f6ff 360px,#00efff 370px,#00e8ff 380px,#00dfff 390px,#00d3ff 400px,#00c2ff 410px,#00b1ff 420px,#00a0ff 430px,#0092ff 440px,#0084ff 450px,#0077ff 460px,#006aff 470px,#005eff 480px,#0052ff 490px,#0046ff 500px,#003aff 510px,#002eff 520px,#0022ff 530px,#0015ff 540px,#0009ff 550px,#0000fb 560px,#0000ef 570px,#0000e3 580px,#0000d6 590px,#0000ca 600px,#0000bd 610px,#0000b1 620px,#0000aa 626px)"></i><i style="left:349px;width:4px;background:linear-gradient(#800000 0,#800000 110px,#a00000 120px,#d50000 130px,#ff0800 140px,#ff3300 150px,#ff5b00 160px,#ff7e00 170px,#ff9d00 180px,#ffba00 190px,#ffd400 200px,#ffed00 210px,#faff05 220px,#e5ff1a 230px,#d2ff2d 240px,#c0ff3f 250px,#adff52 260px,#96ff69 270px,#7bff84 280px,#4fffb0 290px,#36ffc9 300px,#27ffd8 310px,#1bffe4 320px,#11ffee 330px,#09fff6 340px,#00feff 350px,#00f6ff 360px,#00efff 370px,#00e7ff 380px,#00deff 390px,#00d2ff 400px,#00c1ff 410px,#00afff 420px,#009fff 430px,#0090ff 440px,#0083ff 450px,#0075ff 460px,#0068ff 470px,#005cff 480px,#0050ff 490px,#0044ff 500px,#0038ff 510px,#002cff 520px,#0020ff 530px,#0014ff 540px,#0007ff 550px,#0000fa 560px,#0000ed 570px,#0000e1 580px,#0000d5 590px,#0000c8 600px,#0000bc 610px,#0000b0 620px,#0000a8 626px)"></i><i style="left:353px;width:4px;background:linear-gradient(#800000 0,#800000 110px,#a40000 120px,#d90000 130px,#ff0b00 140px,#ff3500 150px,#ff5d00 160px,#ff8000 170px,#ff9e00 180px,#ffba00 190px,#ffd400 200px,#ffec00 210px,#faff05 220px,#e5ff1a 230px,#d3ff2c 240px,#c0ff3f 250px,#adff52 260px,#97ff68 270px,#7cff83 280px,#51ffae 290px,#37ffc8 300px,#28ffd7 310px,#1cffe3 320px,#12ffed 330px,#09fff6 340px,#00feff 350px,#00f6ff 360px,#00eeff 370px,#00e6ff 380px,#00ddff 390px,#00d0ff 400px,#00c0ff 410px,#00aeff 420px,#009dff 430px,#008fff 440px,#0081ff 450px,#0073ff 460px,#0066ff 470px,#005aff 480px,#004eff 490px,#0043ff 500px,#0037ff 510px,#002aff 520px,#001eff 530px,#0012ff 540px,#0006ff 550px,#0000f8 560px,#0000ec 570px,#0000e0 580px,#0000d3 590px,#0000c7 600px,#0000bb 610px,#0000ae 620px,#0000a7 626px)"></i><i style="left:357px;width:4px;background:linear-gradient(#800000 0,#800000 110px,#a80000 120px,#dd0000 130px,#ff0d00 140px,#ff3800 150px,#ff5f00 160px,#ff8100 170px,#ff9f00 180px,#ffbb00 190px,#ffd400 200px,#ffec00 210px,#fbff04 220px,#e6ff19 230px,#d3ff2c 240px,#c1ff3e 250px,#aeff51 260px,#97ff68 270px,#7dff82 280px,#53ffac 290px,#38ffc7 300px,#29ffd6 310px,#1cffe3 320px,#12ffed 330px,#09fff6 340px,#00ffff 350px,#00f6ff 360px,#00eeff 370px,#00e6ff 380px,#00dcff 390px,#00cfff 400px,#00bfff 410px,#00adff 420px,#009cff 430px,#008dff 440px,#007fff 450px,#0072ff 460px,#0064ff 470px,#0058ff 480px,#004cff 490px,#0041ff 500px,#0035ff 510px,#0029ff 520px,#001cff 530px,#0010ff 540px,#0004ff 550px,#0000f7 560px,#0000ea 570px,#0000de 580px,#0000d2 590px,#0000c6 600px,#0000b9 610px,#0000ad 620px,#0000a6 626px)"></i><i style="left:361px;width:4px;background:linear-gradient(#800000 0,#800000 100px,#820000 110px,#ab0000 120px,#e00000 130px,#ff1000 140px,#ff3a00 150px,#ff6100 160px,#ff8300 170px,#ffa000 180px,#ffbb00 190px,#ffd400 200px,#ffeb00 210px,#fcff03 220px,#e7ff18 230px,#d4ff2b 240px,#c1ff3e 250px,#aeff51 260px,#98ff67 270px,#7eff81 280px,#55ffaa 290px,#3affc5 300px,#29ffd6 310px,#1dffe2 320px,#13ffec 330px,#09fff6 340px,#00ffff 350px,#00f6ff 360px,#00edff 370px,#00e5ff 380px,#00dbff 390px,#00ceff 400px,#00bdff 410px,#00abff 420px,#009aff 430px,#008cff 440px,#007dff 450px,#0070ff 460px,#0063ff 470px,#0056ff 480px,#004aff 490px,#003fff 500px,#0033ff 510px,#0027ff 520px,#001bff 530px,#000fff 540px,#0002ff 550px,#0000f5 560px,#0000e9 570px,#0000dd 580px,#0000d1 590px,#0000c4 600px,#0000b8 610px,#0000ac 620px,#0000a5 626px)"></i><i style="left:365px;width:4px;background:linear-gradient(#800000 0,#800000 100px,#840000 110px,#af0000 120px,#e40000 130px,#ff1300 140px,#ff3c00 150px,#ff6300 160px,#ff8400 170px,#ffa100 180px,#ffbc00 190px,#ffd400 200px,#ffeb00 210px,#fcff03 220px,#e7ff18 230px,#d4ff2b 240px,#c2ff3d 250px,#aeff51 260px,#98ff67 270px,#7eff81 280px,#57ffa8 290px,#3bffc4 300px,#2affd5 310px,#1effe1 320px,#13ffec 330px,#0afff5 340px,#00ffff 350px,#00f5ff 360px,#00edff 370px,#00e4ff 380px,#00daff 390px,#00cdff 400px,#00bcff 410px,#00aaff 420px,#0099ff 430px,#008aff 440px,#007cff 450px,#006eff 460px,#0061ff 470px,#0054ff 480px,#0049ff 490px,#003dff 500px,#0031ff 510px,#0025ff 520px,#0019ff 530px,#000dff 540px,#0001ff 550px,#0000f4 560px,#0000e7 570px,#0000db 580px,#0000cf 590px,#0000c3 600px,#0000b7 610px,#0000ab 620px,#0000a3 626px)"></i><i style="left:369px;width:4px;background:linear-gradient(#800000 0,#800000 100px,#860000 110px,#b20000 120px,#e70000 130px,#ff1500 140px,#ff3f00 150px,#ff6500 160px,#ff8600 170px,#ffa200 180px,#ffbc00 190px,#ffd400 200px,#ffea00 210px,#fdff02 220px,#e8ff17 230px,#d5ff2a 240px,#c2ff3d 250px,#afff50 260px,#99ff66 270px,#7fff80 280px,#59ffa6 290px,#3cffc3 300px,#2bffd4 310px,#1effe1 320px,#14ffeb 330px,#0afff5 340px,#00ffff 350px,#00f5ff 360px,#00edff 370px,#00e4ff 380px,#00d9ff 390px,#00ccff 400px,#00bbff 410px,#00a9ff 420px,#0098ff 430px,#0088ff 440px,#007aff 450px,#006cff 460px,#005fff 470px,#0052ff 480px,#0047ff 490px,#003bff 500px,#002fff 510px,#0023ff 520px,#0017ff 530px,#000bff 540px,#0000fe 550px,#0000f2 560px,#0000e6 570px,#0000da 580px,#0000ce 590px,#0000c2 600px,#0000b6 610px,#0000a9 620px,#0000a2 626px)"></i><i style="left:373px;width:4px;background:linear-gradient(#800000 0,#800000 100px,#880000 110px,#b40000 120px,#e90000 130px,#ff1700 140px,#ff4000 150px,#ff6600 160px,#ff8700 170px,#ffa300 180px,#ffbc00 190px,#ffd400 200px,#ffea00 210px,#fdff02 220px,#e8ff17 230px,#d5ff2a 240px,#c2ff3d 250px,#afff50 260px,#99ff66 270px,#80ff7f 280px,#5bffa4 290px,#3dffc2 300px,#2cffd3 310px,#1fffe0 320px,#14ffeb 330px,#0afff5 340px,#00ffff 350px,#00f5ff 360px,#00ecff 370px,#00e3ff 380px,#00d8ff 390px,#00cbff 400px,#00b9ff 410px,#00a7ff 420px,#0096ff 430px,#0087ff 440px,#0078ff 450px,#006aff 460px,#005dff 470px,#0050ff 480px,#0044ff 490px,#0039ff 500px,#002dff 510px,#0021ff 520px,#0015ff 530px,#0009ff 540px,#0000fc 550px,#0000f0 560px,#0000e4 570px,#0000d8 580px,#0000cc 590px,#0000c0 600px,#0000b4 610px,#0000a8 620px,#0000a1 626px)"></i><i style="left:377px;width:4px;background:linear-gradient(#800000 0,#800000 100px,#890000 110px,#b50000 120px,#ea0000 130px,#ff1700 140px,#ff4000 150px,#ff6600 160px,#ff8700 170px,#ffa300 180px,#ffbc00 190px,#ffd300 200px,#ffea00 210px,#feff01 220px,#e9ff16 230px,#d6ff29 240px,#c3ff3c 250px,#afff50 260px,#9aff65 270px,#81ff7e 280px,#5dffa2 290px,#3effc1 300px,#2dffd2 310px,#1fffe0 320px,#14ffeb 330px,#0afff5 340px,#00ffff 350px,#00f5ff 360px,#00ebff 370px,#00e2ff 380px,#00d7ff 390px,#00c9ff 400px,#00b8ff 410px,#00a5ff 420px,#0094ff 430px,#0085ff 440px,#0076ff 450px,#0068ff 460px,#005aff 470px,#004eff 480px,#0042ff 490px,#0037ff 500px,#002bff 510px,#001fff 520px,#0013ff 530px,#0007ff 540px,#0000fa 550px,#0000ee 560px,#0000e2 570px,#0000d6 580px,#0000cb 590px,#0000bf 600px,#0000b3 610px,#0000a7 620px,#0000a0 626px)"></i><i style="left:381px;width:4px;background:linear-gradient(#800000 0,#800000 100px,#8a0000 110px,#b60000 120px,#ea0000 130px,#ff1700 140px,#ff4100 150px,#ff6700 160px,#ff8700 170px,#ffa300 180px,#ffbc00 190px,#ffd300 200px,#ffe900 210px,#feff01 220px,#e9ff16 230px,#d6ff29 240px,#c3ff3c 250px,#b0ff4f 260px,#9aff65 270px,#82ff7d 280px,#5effa1 290px,#3fffc0 300px,#2dffd2 310px,#20ffdf 320px,#15ffea 330px,#0bfff4 340px,#00ffff 350px,#00f4ff 360px,#00ebff 370px,#00e1ff 380px,#00d6ff 390px,#00c7ff 400px,#00b6ff 410px,#00a3ff 420px,#0092ff 430px,#0083ff 440px,#0074ff 450px,#0065ff 460px,#0058ff 470px,#004bff 480px,#0040ff 490px,#0034ff 500px,#0029ff 510px,#001dff 520px,#0011ff 530px,#0005ff 540px,#0000f8 550px,#0000ec 560px,#0000e1 570px,#0000d5 580px,#0000c9 590px,#0000bd 600px,#0000b1 610px,#0000a5 620px,#00009e 626px)"></i><i style="left:385px;width:4px;background:linear-gradient(#800000 0,#800000 100px,#8b0000 110px,#b80000 120px,#eb0000 130px,#ff1800 140px,#ff4100 150px,#ff6700 160px,#ff8700 170px,#ffa300 180px,#ffbc00 190px,#ffd300 200px,#ffe900 210px,#ffff00 220px,#eaff15 230px,#d6ff29 240px,#c4ff3b 250px,#b0ff4f 260px,#9bff64 270px,#82ff7d 280px,#60ff9f 290px,#40ffbf 300px,#2effd1 310px,#21ffde 320px,#15ffea 330px,#0bfff4 340px,#00ffff 350px,#00f4ff 360px,#00eaff 370px,#00e0ff 380px,#00d5ff 390px,#00c6ff 400px,#00b4ff 410px,#00a2ff 420px,#0090ff 430px,#0080ff 440px,#0071ff 450px,#0063ff 460px,#0056ff 470px,#0049ff 480px,#003dff 490px,#0032ff 500px,#0026ff 510px,#001bff 520px,#000fff 530px,#0003ff 540px,#0000f6 550px,#0000ea 560px,#0000df 570px,#0000d3 580px,#0000c7 590px,#0000bb 600px,#0000b0 610px,#0000a4 620px,#00009d 626px)"></i><i style="left:389px;width:4px;background:linear-gradient(#800000 0,#800000 100px,#8c0000 110px,#b90000 120px,#ec0000 130px,#ff1800 140px,#ff4100 150px,#ff6700 160px,#ff8700 170px,#ffa300 180px,#ffbc00 190px,#ffd300 200px,#ffe900 210px,#ffff00 220px,#eaff15 230px,#d7ff28 240px,#c4ff3b 250px,#b0ff4f 260px,#9bff64 270px,#83ff7c 280px,#61ff9e 290px,#41ffbe 300px,#2fffd0 310px,#21ffde 320px,#16ffe9 330px,#0bfff4 340px,#00ffff 350px,#00f4ff 360px,#00eaff 370px,#00dfff 380px,#00d3ff 390px,#00c4ff 400px,#00b3ff 410px,#00a0ff 420px,#008eff 430px,#007eff 440px,#006fff 450px,#0061ff 460px,#0053ff 470px,#0047ff 480px,#003bff 490px,#0030ff 500px,#0024ff 510px,#0018ff 520px,#000dff 530px,#0001ff 540px,#0000f4 550px,#0000e9 560px,#0000dd 570px,#0000d1 580px,#0000c6 590px,#0000ba 600px,#0000ae 610px,#0000a3 620px,#00009c 626px)"></i><i style="left:393px;width:4px;background:linear-gradient(#800000 0,#800000 100px,#8d0000 110px,#ba0000 120px,#ec0000 130px,#ff1800 140px,#ff4200 150px,#ff6800 160px,#ff8800 170px,#ffa300 180px,#ffbc00 190px,#ffd200 200px,#ffe800 210px,#fffe00 220px,#eaff15 230px,#d7ff28 240px,#c4ff3b 250px,#b1ff4e 260px,#9cff63 270px,#84ff7b 280px,#63ff9c 290px,#42ffbd 300px,#30ffcf 310px,#22ffdd 320px,#16ffe9 330px,#0bfff4 340px,#00ffff 350px,#00f4ff 360px,#00e9ff 370px,#00deff 380px,#00d2ff 390px,#00c3ff 400px,#00b1ff 410px,#009eff 420px,#008cff 430px,#007cff 440px,#006dff 450px,#005eff 460px,#0051ff 470px,#0044ff 480px,#0039ff 490px,#002dff 500px,#0022ff 510px,#0016ff 520px,#000bff 530px,#0000fe 540px,#0000f2 550px,#0000e7 560px,#0000db 570px,#0000cf 580px,#0000c4 590px,#0000b8 600px,#0000ad 610px,#0000a1 620px,#00009a 626px)"></i><i style="left:397px;width:4px;background:linear-gradient(#800000 0,#800000 100px,#8e0000 110px,#bb0000 120px,#ed0000 130px,#ff1900 140px,#ff4200 150px,#ff6800 160px,#ff8800 170px,#ffa300 180px,#ffbc00 190px,#ffd200 200px,#ffe800 210px,#fffe00 220px,#ebff14 230px,#d7ff28 240px,#c5ff3a 250px,#b1ff4e 260px,#9cff63 270px,#84ff7b 280px,#64ff9b 290px,#43ffbc 300px,#31ffce 310px,#22ffdd 320px,#16ffe9 330px,#0bfff4 340px,#00ffff 350px,#00f3ff 360px,#00e8ff 370px,#00ddff 380px,#00d1ff 390px,#00c1ff 400px,#00afff 410px,#009cff 420px,#008bff 430px,#007aff 440px,#006bff 450px,#005cff 460px,#004eff 470px,#0042ff 480px,#0036ff 490px,#002bff 500px,#0020ff 510px,#0014ff 520px,#0008ff 530px,#0000fc 540px,#0000f0 550px,#0000e5 560px,#0000d9 570px,#0000ce 580px,#0000c2 590px,#0000b7 600px,#0000ab 610px,#0000a0 620px,#000099 626px)"></i><i style="left:401px;width:4px;background:linear-gradient(#800000 0,#800000 100px,#8f0000 110px,#bc0000 120px,#ed0000 130px,#ff1900 140px,#ff4200 150px,#ff6800 160px,#ff8800 170px,#ffa300 180px,#ffbb00 190px,#ffd200 200px,#ffe800 210px,#fffe00 220px,#ebff14 230px,#d8ff27 240px,#c5ff3a 250px,#b2ff4d 260px,#9dff62 270px,#85ff7a 280px,#66ff99 290px,#44ffbb 300px,#31ffce 310px,#23ffdc 320px,#17ffe8 330px,#0cfff3 340px,#00ffff 350px,#00f3ff 360px,#00e8ff 370px,#00dcff 380px,#00cfff 390px,#00c0ff 400px,#00aeff 410px,#009bff 420px,#0089ff 430px,#0078ff 440px,#0069ff 450px,#005aff 460px,#004cff 470px,#0040ff 480px,#0034ff 490px,#0029ff 500px,#001dff 510px,#0012ff 520px,#0006ff 530px,#0000fa 540px,#0000ee 550px,#0000e3 560px,#0000d7 570px,#0000cc 580px,#0000c1 590px,#0000b5 600px,#0000aa 610px,#00009e 620px,#000098 626px)"></i><i style="left:405px;width:4px;background:linear-gradient(#800000 0,#800000 100px,#8f0000 110px,#bc0000 120px,#ed0000 130px,#ff1900 140px,#ff4200 150px,#ff6800 160px,#ff8800 170px,#ffa300 180px,#ffbb00 190px,#ffd200 200px,#ffe700 210px,#fffd00 220px,#ecff13 230px,#d8ff27 240px,#c5ff3a 250px,#b2ff4d 260px,#9dff62 270px,#86ff79 280px,#67ff98 290px,#46ffb9 300px,#32ffcd 310px,#23ffdc 320px,#17ffe8 330px,#0cfff3 340px,#00ffff 350px,#00f3ff 360px,#00e7ff 370px,#00dbff 380px,#00ceff 390px,#00beff 400px,#00acff 410px,#0099ff 420px,#0087ff 430px,#0076ff 440px,#0067ff 450px,#0058ff 460px,#004aff 470px,#003dff 480px,#0032ff 490px,#0027ff 500px,#001bff 510px,#0010ff 520px,#0004ff 530px,#0000f8 540px,#0000ec 550px,#0000e1 560px,#0000d6 570px,#0000ca 580px,#0000bf 590px,#0000b4 600px,#0000a8 610px,#00009d 620px,#000096 626px)"></i><i style="left:409px;width:4px;background:linear-gradient(#800000 0,#800000 100px,#900000 110px,#bc0000 120px,#ed0000 130px,#ff1900 140px,#ff4200 150px,#ff6800 160px,#ff8700 170px,#ffa300 180px,#ffbb00 190px,#ffd200 200px,#ffe700 210px,#fffd00 220px,#ecff13 230px,#d8ff27 240px,#c6ff39 250px,#b2ff4d 260px,#9eff61 270px,#86ff79 280px,#68ff97 290px,#47ffb8 300px,#33ffcc 310px,#24ffdb 320px,#17ffe8 330px,#0cfff3 340px,#00ffff 350px,#00f2ff 360px,#00e6ff 370px,#00daff 380px,#00cdff 390px,#00bdff 400px,#00aaff 410px,#0097ff 420px,#0085ff 430px,#0074ff 440px,#0065ff 450px,#0055ff 460px,#0048ff 470px,#003bff 480px,#0030ff 490px,#0024ff 500px,#0019ff 510px,#000eff 520px,#0002ff 530px,#0000f6 540px,#0000eb 550px,#0000df 560px,#0000d4 570px,#0000c9 580px,#0000bd 590px,#0000b2 600px,#0000a7 610px,#00009c 620px,#000095 626px)"></i><i style="left:413px;width:4px;background:linear-gradient(#800000 0,#800000 100px,#900000 110px,#bc0000 120px,#ed0000 130px,#ff1800 140px,#ff4100 150px,#ff6700 160px,#ff8700 170px,#ffa200 180px,#ffbb00 190px,#ffd100 200px,#ffe700 210px,#fffd00 220px,#ecff13 230px,#d9ff26 240px,#c6ff39 250px,#b3ff4c 260px,#9eff61 270px,#87ff78 280px,#6aff95 290px,#49ffb6 300px,#34ffcb 310px,#25ffda 320px,#18ffe7 330px,#0cfff3 340px,#00feff 350px,#00f2ff 360px,#00e5ff 370px,#00d9ff 380px,#00cbff 390px,#00bbff 400px,#00a9ff 410px,#0095ff 420px,#0083ff 430px,#0073ff 440px,#0062ff 450px,#0053ff 460px,#0045ff 470px,#0039ff 480px,#002dff 490px,#0022ff 500px,#0017ff 510px,#000cff 520px,#0000ff 530px,#0000f4 540px,#0000e9 550px,#0000dd 560px,#0000d2 570px,#0000c7 580px,#0000bc 590px,#0000b1 600px,#0000a6 610px,#00009b 620px,#000094 626px)"></i><i style="left:417px;width:4px;background:linear-gradient(#800000 0,#800000 100px,#900000 110px,#bd0000 120px,#ed0000 130px,#ff1800 140px,#ff4100 150px,#ff6700 160px,#ff8700 170px,#ffa200 180px,#ffba00 190px,#ffd100 200px,#ffe700 210px,#fffc00 220px,#edff12 230px,#d9ff26 240px,#c6ff39 250px,#b3ff4c 260px,#9fff60 270px,#88ff77 280px,#6bff94 290px,#4affb5 300px,#35ffca 310px,#25ffda 320px,#18ffe7 330px,#0cfff3 340px,#00feff 350px,#00f1ff 360px,#00e5ff 370px,#00d8ff 380px,#00caff 390px,#00b9ff 400px,#00a7ff 410px,#0094ff 420px,#0081ff 430px,#0071ff 440px,#0060ff 450px,#0051ff 460px,#0043ff 470px,#0037ff 480px,#002bff 490px,#0020ff 500px,#0015ff 510px,#000aff 520px,#0000fd 530px,#0000f2 540px,#0000e7 550px,#0000dc 560px,#0000d1 570px,#0000c5 580px,#0000ba 590px,#0000af 600px,#0000a5 610px,#00009a 620px,#000093 626px)"></i><i style="left:421px;width:4px;background:linear-gradient(#800000 0,#800000 100px,#910000 110px,#bd0000 120px,#ed0000 130px,#ff1800 140px,#ff4000 150px,#ff6600 160px,#ff8600 170px,#ffa200 180px,#ffba00 190px,#ffd100 200px,#ffe600 210px,#fffc00 220px,#edff12 230px,#d9ff26 240px,#c7ff38 250px,#b4ff4b 260px,#9fff60 270px,#89ff76 280px,#6cff93 290px,#4bffb4 300px,#36ffc9 310px,#26ffd9 320px,#18ffe7 330px,#0cfff3 340px,#00feff 350px,#00f1ff 360px,#00e4ff 370px,#00d7ff 380px,#00c8ff 390px,#00b8ff 400px,#00a5ff 410px,#0092ff 420px,#007fff 430px,#006fff 440px,#005eff 450px,#004fff 460px,#0041ff 470px,#0034ff 480px,#0029ff 490px,#001eff 500px,#0013ff 510px,#0008ff 520px,#0000fb 530px,#0000f0 540px,#0000e5 550px,#0000da 560px,#0000cf 570px,#0000c4 580px,#0000b9 590px,#0000ae 600px,#0000a3 610px,#000098 620px,#000092 626px)"></i><i style="left:425px;width:4px;background:linear-gradient(#800000 0,#800000 100px,#910000 110px,#bd0000 120px,#ed0000 130px,#ff1700 140px,#ff4000 150px,#ff6600 160px,#ff8600 170px,#ffa100 180px,#ffba00 190px,#ffd100 200px,#ffe600 210px,#fffc00 220px,#edff12 230px,#daff25 240px,#c7ff38 250px,#b4ff4b 260px,#a0ff5f 270px,#89ff76 280px,#6eff91 290px,#4dffb2 300px,#36ffc9 310px,#26ffd9 320px,#19ffe6 330px,#0cfff3 340px,#00feff 350px,#00f0ff 360px,#00e3ff 370px,#00d6ff 380px,#00c7ff 390px,#00b6ff 400px,#00a3ff 410px,#0090ff 420px,#007eff 430px,#006dff 440px,#005cff 450px,#004dff 460px,#003fff 470px,#0032ff 480px,#0027ff 490px,#001cff 500px,#0011ff 510px,#0006ff 520px,#0000f9 530px,#0000ee 540px,#0000e3 550px,#0000d8 560px,#0000cd 570px,#0000c2 580px,#0000b7 590px,#0000ad 600px,#0000a2 610px,#000097 620px,#000091 626px)"></i><i style="left:429px;width:4px;background:linear-gradient(#800000 0,#800000 100px,#920000 110px,#bd0000 120px,#ec0000 130px,#ff1700 140px,#ff4000 150px,#ff6600 160px,#ff8600 170px,#ffa100 180px,#ffba00 190px,#ffd000 200px,#ffe600 210px,#fffb00 220px,#edff12 230px,#daff25 240px,#c7ff38 250px,#b4ff4b 260px,#a0ff5f 270px,#8aff75 280px,#6fff90 290px,#4effb1 300px,#37ffc8 310px,#27ffd8 320px,#19ffe6 330px,#0cfff3 340px,#00feff 350px,#00f0ff 360px,#00e2ff 370px,#00d5ff 380px,#00c6ff 390px,#00b5ff 400px,#00a2ff 410px,#008eff 420px,#007cff 430px,#006bff 440px,#005aff 450px,#004aff 460px,#003cff 470px,#0030ff 480px,#0025ff 490px,#001aff 500px,#000fff 510px,#0004ff 520px,#0000f7 530px,#0000ec 540px,#0000e1 550px,#0000d6 560px,#0000cb 570px,#0000c1 580px,#0000b6 590px,#0000ab 600px,#0000a1 610px,#000096 620px,#000090 626px)"></i><i style="left:433px;width:4px;background:linear-gradient(#800000 0,#800000 100px,#920000 110px,#bd0000 120px,#ec0000 130px,#ff1700 140px,#ff3f00 150px,#ff6500 160px,#ff8600 170px,#ffa100 180px,#ffb900 190px,#ffd000 200px,#ffe600 210px,#fffb00 220px,#eeff11 230px,#daff25 240px,#c8ff37 250px,#b5ff4a 260px,#a1ff5e 270px,#8bff74 280px,#70ff8f 290px,#50ffaf 300px,#38ffc7 310px,#27ffd8 320px,#19ffe6 330px,#0dfff2 340px,#00feff 350px,#00f0ff 360px,#00e2ff 370px,#00d3ff 380px,#00c4ff 390px,#00b3ff 400px,#00a0ff 410px,#008dff 420px,#007aff 430px,#0069ff 440px,#0058ff 450px,#0048ff 460px,#003aff 470px,#002eff 480px,#0022ff 490px,#0018ff 500px,#000dff 510px,#0002ff 520px,#0000f5 530px,#0000ea 540px,#0000e0 550px,#0000d5 560px,#0000ca 570px,#0000bf 580px,#0000b4 590px,#0000aa 600px,#00009f 610px,#000095 620px,#00008f 626px)"></i><i style="left:437px;width:4px;background:linear-gradient(#800000 0,#800000 100px,#920000 110px,#bd0000 120px,#ec0000 130px,#ff1600 140px,#ff3f00 150px,#ff6500 160px,#ff8500 170px,#ffa000 180px,#ffb900 190px,#ffd000 200px,#ffe500 210px,#fffb00 220px,#eeff11 230px,#dbff24 240px,#c8ff37 250px,#b5ff4a 260px,#a1ff5e 270px,#8bff74 280px,#71ff8e 290px,#50ffaf 300px,#39ffc6 310px,#28ffd7 320px,#1affe5 330px,#0cfff3 340px,#00fdff 350px,#00efff 360px,#00e1ff 370px,#00d2ff 380px,#00c3ff 390px,#00b2ff 400px,#009fff 410px,#008bff 420px,#0079ff 430px,#0068ff 440px,#0057ff 450px,#0047ff 460px,#0039ff 470px,#002cff 480px,#0021ff 490px,#0016ff 500px,#000cff 510px,#0000ff 520px,#0000f4 530px,#0000e9 540px,#0000de 550px,#0000d4 560px,#0000c9 570px,#0000be 580px,#0000b4 590px,#0000a9 600px,#00009f 610px,#000094 620px,#00008e 626px)"></i><i style="left:441px;width:4px;background:linear-gradient(#800000 0,#800000 100px,#920000 110px,#bd0000 120px,#ec0000 130px,#ff1600 140px,#ff3e00 150px,#ff6500 160px,#ff8500 170px,#ffa000 180px,#ffb900 190px,#ffcf00 200px,#ffe500 210px,#fffa00 220px,#eeff11 230px,#dbff24 240px,#c8ff37 250px,#b5ff4a 260px,#a2ff5d 270px,#8cff73 280px,#71ff8e 290px,#51ffae 300px,#39ffc6 310px,#28ffd7 320px,#1affe5 330px,#0cfff3 340px,#00fdff 350px,#00eeff 360px,#00e0ff 370px,#00d1ff 380px,#00c2ff 390px,#00b0ff 400px,#009dff 410px,#008aff 420px,#0077ff 430px,#0066ff 440px,#0055ff 450px,#0045ff 460px,#0037ff 470px,#002bff 480px,#0020ff 490px,#0015ff 500px,#000aff 510px,#0000fe 520px,#0000f3 530px,#0000e8 540px,#0000dd 550px,#0000d2 560px,#0000c8 570px,#0000bd 580px,#0000b3 590px,#0000a8 600px,#00009e 610px,#000094 620px,#00008d 626px)"></i><i style="left:445px;width:4px;background:linear-gradient(#800000 0,#800000 100px,#930000 110px,#bd0000 120px,#eb0000 130px,#ff1600 140px,#ff3e00 150px,#ff6400 160px,#ff8400 170px,#ffa000 180px,#ffb800 190px,#ffcf00 200px,#ffe500 210px,#fffa00 220px,#efff10 230px,#dbff24 240px,#c9ff36 250px,#b6ff49 260px,#a2ff5d 270px,#8cff73 280px,#72ff8d 290px,#52ffad 300px,#3affc5 310px,#28ffd7 320px,#1affe5 330px,#0cfff3 340px,#00fdff 350px,#00eeff 360px,#00dfff 370px,#00d0ff 380px,#00c0ff 390px,#00afff 400px,#009cff 410px,#0089ff 420px,#0076ff 430px,#0065ff 440px,#0054ff 450px,#0044ff 460px,#0036ff 470px,#0029ff 480px,#001eff 490px,#0014ff 500px,#0009ff 510px,#0000fd 520px,#0000f2 530px,#0000e7 540px,#0000dc 550px,#0000d1 560px,#0000c7 570px,#0000bc 580px,#0000b2 590px,#0000a7 600px,#00009d 610px,#000093 620px,#00008d 626px)"></i><i style="left:449px;width:4px;background:linear-gradient(#800000 0,#800000 100px,#930000 110px,#bd0000 120px,#eb0000 130px,#ff1500 140px,#ff3e00 150px,#ff6400 160px,#ff8400 170px,#ff9f00 180px,#ffb800 190px,#ffcf00 200px,#ffe400 210px,#fffa00 220px,#efff10 230px,#dcff23 240px,#c9ff36 250px,#b6ff49 260px,#a2ff5d 270px,#8cff73 280px,#73ff8c 290px,#53ffac 300px,#3affc5 310px,#29ffd6 320px,#1affe5 330px,#0cfff3 340px,#00fdff 350px,#00edff 360px,#00deff 370px,#00cfff 380px,#00bfff 390px,#00adff 400px,#009aff 410px,#0087ff 420px,#0075ff 430px,#0064ff 440px,#0052ff 450px,#0042ff 460px,#0034ff 470px,#0028ff 480px,#001dff 490px,#0012ff 500px,#0008ff 510px,#0000fc 520px,#0000f1 530px,#0000e6 540px,#0000db 550px,#0000d0 560px,#0000c6 570px,#0000bb 580px,#0000b1 590px,#0000a6 600px,#00009c 610px,#000092 620px,#00008c 626px)"></i><i style="left:453px;width:4px;background:linear-gradient(#800000 0,#800000 100px,#930000 110px,#bd0000 120px,#eb0000 130px,#ff1500 140px,#ff3d00 150px,#ff6300 160px,#ff8300 170px,#ff9f00 180px,#ffb800 190px,#ffce00 200px,#ffe400 210px,#fff900 220px,#efff10 230px,#dcff23 240px,#c9ff36 250px,#b6ff49 260px,#a2ff5d 270px,#8dff72 280px,#73ff8c 290px,#53ffac 300px,#3affc5 310px,#29ffd6 320px,#1affe5 330px,#0cfff3 340px,#00fcff 350px,#00edff 360px,#00deff 370px,#00ceff 380px,#00beff 390px,#00acff 400px,#0099ff 410px,#0086ff 420px,#0074ff 430px,#0062ff 440px,#0051ff 450px,#0041ff 460px,#0033ff 470px,#0026ff 480px,#001bff 490px,#0011ff 500px,#0006ff 510px,#0000fa 520px,#0000ef 530px,#0000e4 540px,#0000da 550px,#0000cf 560px,#0000c5 570px,#0000ba 580px,#0000b0 590px,#0000a5 600px,#00009b 610px,#000091 620px,#00008b 626px)"></i><i style="left:457px;width:4px;background:linear-gradient(#800000 0,#800000 100px,#930000 110px,#bd0000 120px,#eb0000 130px,#ff1400 140px,#ff3d00 150px,#ff6300 160px,#ff8300 170px,#ff9e00 180px,#ffb700 190px,#ffce00 200px,#ffe400 210px,#fff900 220px,#f0ff0f 230px,#dcff23 240px,#c9ff36 250px,#b7ff48 260px,#a3ff5c 270px,#8dff72 280px,#74ff8b 290px,#54ffab 300px,#3bffc4 310px,#29ffd6 320px,#1affe5 330px,#0cfff3 340px,#00fcff 350px,#00ecff 360px,#00ddff 370px,#00cdff 380px,#00bcff 390px,#00aaff 400px,#0098ff 410px,#0085ff 420px,#0072ff 430px,#0061ff 440px,#0050ff 450px,#003fff 460px,#0031ff 470px,#0025ff 480px,#001aff 490px,#0010ff 500px,#0005ff 510px,#0000f9 520px,#0000ee 530px,#0000e3 540px,#0000d8 550px,#0000ce 560px,#0000c3 570px,#0000b9 580px,#0000af 590px,#0000a5 600px,#00009b 610px,#000091 620px,#00008b 626px)"></i><i style="left:461px;width:4px;background:linear-gradient(#800000 0,#800000 100px,#930000 110px,#bd0000 120px,#ea0000 130px,#ff1400 140px,#ff3c00 150px,#ff6200 160px,#ff8300 170px,#ff9e00 180px,#ffb700 190px,#ffce00 200px,#ffe300 210px,#fff900 220px,#f0ff0f 230px,#dcff23 240px,#caff35 250px,#b7ff48 260px,#a3ff5c 270px,#8dff72 280px,#74ff8b 290px,#55ffaa 300px,#3bffc4 310px,#29ffd6 320px,#1affe5 330px,#0cfff3 340px,#00fcff 350px,#00ecff 360px,#00dcff 370px,#00ccff 380px,#00bbff 390px,#00a9ff 400px,#0096ff 410px,#0083ff 420px,#0071ff 430px,#005fff 440px,#004eff 450px,#003eff 460px,#0030ff 470px,#0023ff 480px,#0019ff 490px,#000eff 500px,#0004ff 510px,#0000f8 520px,#0000ed 530px,#0000e2 540px,#0000d7 550px,#0000cd 560px,#0000c2 570px,#0000b8 580px,#0000ae 590px,#0000a4 600px,#00009a 610px,#000090 620px,#00008a 626px)"></i><i style="left:465px;width:4px;background:linear-gradient(#800000 0,#800000 100px,#930000 110px,#bd0000 120px,#ea0000 130px,#ff1300 140px,#ff3c00 150px,#ff6200 160px,#ff8200 170px,#ff9e00 180px,#ffb600 190px,#ffcd00 200px,#ffe300 210px,#fff800 220px,#f1ff0e 230px,#ddff22 240px,#caff35 250px,#b7ff48 260px,#a3ff5c 270px,#8eff71 280px,#75ff8a 290px,#55ffaa 300px,#3cffc3 310px,#2affd5 320px,#1affe5 330px,#0cfff3 340px,#00fcff 350px,#00ebff 360px,#00dbff 370px,#00cbff 380px,#00b9ff 390px,#00a8ff 400px,#0095ff 410px,#0082ff 420px,#0070ff 430px,#005eff 440px,#004dff 450px,#003dff 460px,#002eff 470px,#0022ff 480px,#0018ff 490px,#000dff 500px,#0003ff 510px,#0000f7 520px,#0000ec 530px,#0000e1 540px,#0000d6 550px,#0000cc 560px,#0000c1 570px,#0000b7 580px,#0000ad 590px,#0000a3 600px,#000099 610px,#00008f 620px,#00008a 626px)"></i><i style="left:469px;width:4px;background:linear-gradient(#800000 0,#800000 100px,#930000 110px,#bc0000 120px,#e90000 130px,#ff1300 140px,#ff3b00 150px,#ff6100 160px,#ff8200 170px,#ff9d00 180px,#ffb600 190px,#ffcc00 200px,#ffe200 210px,#fff700 220px,#f1ff0e 230px,#ddff22 240px,#caff35 250px,#b7ff48 260px,#a3ff5c 270px,#8eff71 280px,#74ff8b 290px,#55ffaa 300px,#3bffc4 310px,#29ffd6 320px,#1affe5 330px,#0cfff3 340px,#00fbff 350px,#00ebff 360px,#00daff 370px,#00c9ff 380px,#00b8ff 390px,#00a6ff 400px,#0093ff 410px,#0081ff 420px,#006fff 430px,#005dff 440px,#004cff 450px,#003cff 460px,#002dff 470px,#0021ff 480px,#0017ff 490px,#000dff 500px,#0002ff 510px,#0000f6 520px,#0000eb 530px,#0000e0 540px,#0000d6 550px,#0000cb 560px,#0000c1 570px,#0000b7 580px,#0000ac 590px,#0000a2 600px,#000099 610px,#00008f 620px,#000089 626px)"></i><i style="left:473px;width:4px;background:linear-gradient(#800000 0,#800000 100px,#920000 110px,#bc0000 120px,#e80000 130px,#ff1200 140px,#ff3a00 150px,#ff6000 160px,#ff8100 170px,#ff9c00 180px,#ffb500 190px,#ffcc00 200px,#ffe100 210px,#fff700 220px,#f2ff0d 230px,#deff21 240px,#cbff34 250px,#b8ff47 260px,#a3ff5c 270px,#8eff71 280px,#74ff8b 290px,#55ffaa 300px,#3bffc4 310px,#29ffd6 320px,#1affe5 330px,#0cfff3 340px,#00fbff 350px,#00eaff 360px,#00d9ff 370px,#00c8ff 380px,#00b6ff 390px,#00a5ff 400px,#0092ff 410px,#0080ff 420px,#006eff 430px,#005cff 440px,#004bff 450px,#003bff 460px,#002cff 470px,#0020ff 480px,#0016ff 490px,#000cff 500px,#0001ff 510px,#0000f6 520px,#0000eb 530px,#0000e0 540px,#0000d5 550px,#0000cb 560px,#0000c0 570px,#0000b6 580px,#0000ac 590px,#0000a2 600px,#000098 610px,#00008f 620px,#000089 626px)"></i><i style="left:477px;width:4px;background:linear-gradient(#800000 0,#800000 100px,#920000 110px,#bb0000 120px,#e80000 130px,#ff1100 140px,#ff3900 150px,#ff5f00 160px,#ff8000 170px,#ff9c00 180px,#ffb400 190px,#ffcb00 200px,#ffe100 210px,#fff600 220px,#f3ff0c 230px,#deff21 240px,#cbff34 250px,#b8ff47 260px,#a4ff5b 270px,#8dff72 280px,#74ff8b 290px,#54ffab 300px,#3bffc4 310px,#29ffd6 320px,#1affe5 330px,#0bfff4 340px,#00faff 350px,#00e9ff 360px,#00d8ff 370px,#00c6ff 380px,#00b5ff 390px,#00a3ff 400px,#0091ff 410px,#007fff 420px,#006dff 430px,#005cff 440px,#004aff 450px,#003aff 460px,#002bff 470px,#0020ff 480px,#0015ff 490px,#000bff 500px,#0001ff 510px,#0000f5 520px,#0000ea 530px,#0000df 540px,#0000d4 550px,#0000ca 560px,#0000c0 570px,#0000b5 580px,#0000ab 590px,#0000a2 600px,#000098 610px,#00008e 620px,#000088 626px)"></i><i style="left:481px;width:4px;background:linear-gradient(#800000 0,#800000 100px,#920000 110px,#ba0000 120px,#e70000 130px,#ff1000 140px,#ff3800 150px,#ff5f00 160px,#ff8000 170px,#ff9b00 180px,#ffb400 190px,#ffca00 200px,#ffe000 210px,#fff500 220px,#f3ff0c 230px,#dfff20 240px,#ccff33 250px,#b8ff47 260px,#a4ff5b 270px,#8dff72 280px,#74ff8b 290px,#54ffab 300px,#3bffc4 310px,#29ffd6 320px,#1affe5 330px,#0bfff4 340px,#00faff 350px,#00e9ff 360px,#00d7ff 370px,#00c5ff 380px,#00b3ff 390px,#00a2ff 400px,#0090ff 410px,#007eff 420px,#006cff 430px,#005bff 440px,#0049ff 450px,#0039ff 460px,#002aff 470px,#001fff 480px,#0014ff 490px,#000aff 500px,#0000ff 510px,#0000f4 520px,#0000e9 530px,#0000de 540px,#0000d4 550px,#0000c9 560px,#0000bf 570px,#0000b5 580px,#0000ab 590px,#0000a1 600px,#000097 610px,#00008e 620px,#000088 626px)"></i><i style="left:485px;width:4px;background:linear-gradient(#800000 0,#800000 100px,#920000 110px,#ba0000 120px,#e60000 130px,#ff1000 140px,#ff3800 150px,#ff5e00 160px,#ff7f00 170px,#ff9b00 180px,#ffb300 190px,#ffca00 200px,#ffdf00 210px,#fff400 220px,#f4ff0b 230px,#e0ff1f 240px,#ccff33 250px,#b8ff47 260px,#a4ff5b 270px,#8dff72 280px,#74ff8b 290px,#54ffab 300px,#3bffc4 310px,#29ffd6 320px,#1affe5 330px,#0bfff4 340px,#00f9ff 350px,#00e8ff 360px,#00d6ff 370px,#00c4ff 380px,#00b2ff 390px,#00a0ff 400px,#008eff 410px,#007cff 420px,#006bff 430px,#005aff 440px,#0048ff 450px,#0038ff 460px,#002aff 470px,#001eff 480px,#0014ff 490px,#000aff 500px,#0000fe 510px,#0000f4 520px,#0000e9 530px,#0000de 540px,#0000d3 550px,#0000c9 560px,#0000be 570px,#0000b4 580px,#0000aa 590px,#0000a1 600px,#000097 610px,#00008d 620px,#000088 626px)"></i><i style="left:489px;width:4px;background:linear-gradient(#800000 0,#800000 100px,#910000 110px,#b90000 120px,#e60000 130px,#ff0f00 140px,#ff3700 150px,#ff5d00 160px,#ff7f00 170px,#ff9a00 180px,#ffb200 190px,#ffc900 200px,#ffde00 210px,#fff400 220px,#f5ff0a 230px,#e0ff1f 240px,#ccff33 250px,#b8ff47 260px,#a4ff5b 270px,#8dff72 280px,#73ff8c 290px,#54ffab 300px,#3affc5 310px,#29ffd6 320px,#19ffe6 330px,#0bfff4 340px,#00f9ff 350px,#00e7ff 360px,#00d5ff 370px,#00c2ff 380px,#00b0ff 390px,#009fff 400px,#008dff 410px,#007bff 420px,#006aff 430px,#0059ff 440px,#0047ff 450px,#0037ff 460px,#0029ff 470px,#001dff 480px,#0013ff 490px,#0009ff 500px,#0000fe 510px,#0000f3 520px,#0000e8 530px,#0000dd 540px,#0000d2 550px,#0000c8 560px,#0000be 570px,#0000b4 580px,#0000aa 590px,#0000a0 600px,#000096 610px,#00008d 620px,#000087 626px)"></i><i style="left:493px;width:4px;background:linear-gradient(#800000 0,#800000 100px,#910000 110px,#b90000 120px,#e50000 130px,#ff0e00 140px,#ff3600 150px,#ff5d00 160px,#ff7e00 170px,#ff9900 180px,#ffb200 190px,#ffc800 200px,#ffde00 210px,#fff300 220px,#f5ff0a 230px,#e1ff1e 240px,#cdff32 250px,#b9ff46 260px,#a4ff5b 270px,#8dff72 280px,#73ff8c 290px,#54ffab 300px,#3affc5 310px,#28ffd7 320px,#19ffe6 330px,#0afff5 340px,#00f9ff 350px,#00e6ff 360px,#00d4ff 370px,#00c1ff 380px,#00afff 390px,#009dff 400px,#008cff 410px,#007aff 420px,#0069ff 430px,#0058ff 440px,#0046ff 450px,#0036ff 460px,#0028ff 470px,#001cff 480px,#0012ff 490px,#0008ff 500px,#0000fd 510px,#0000f2 520px,#0000e7 530px,#0000dc 540px,#0000d2 550px,#0000c7 560px,#0000bd 570px,#0000b3 580px,#0000a9 590px,#0000a0 600px,#000096 610px,#00008d 620px,#000087 626px)"></i><i style="left:497px;width:4px;background:linear-gradient(#800000 0,#800000 100px,#910000 110px,#b80000 120px,#e40000 130px,#ff0d00 140px,#ff3500 150px,#ff5c00 160px,#ff7d00 170px,#ff9900 180px,#ffb100 190px,#ffc800 200px,#ffdd00 210px,#fff200 220px,#f6ff09 230px,#e1ff1e 240px,#cdff32 250px,#b9ff46 260px,#a4ff5b 270px,#8dff72 280px,#73ff8c 290px,#53ffac 300px,#3affc5 310px,#28ffd7 320px,#19ffe6 330px,#0afff5 340px,#00f8ff 350px,#00e6ff 360px,#00d3ff 370px,#00c0ff 380px,#00adff 390px,#009bff 400px,#008aff 410px,#0079ff 420px,#0068ff 430px,#0057ff 440px,#0046ff 450px,#0035ff 460px,#0027ff 470px,#001bff 480px,#0011ff 490px,#0008ff 500px,#0000fd 510px,#0000f2 520px,#0000e7 530px,#0000dc 540px,#0000d1 550px,#0000c7 560px,#0000bd 570px,#0000b3 580px,#0000a9 590px,#00009f 600px,#000096 610px,#00008c 620px,#000087 626px)"></i><i style="left:501px;width:4px;background:linear-gradient(#800000 0,#800000 100px,#910000 110px,#b80000 120px,#e30000 130px,#ff0d00 140px,#ff3400 150px,#ff5b00 160px,#ff7c00 170px,#ff9800 180px,#ffb000 190px,#ffc700 200px,#ffdc00 210px,#fff100 220px,#f7ff08 230px,#e2ff1d 240px,#ceff31 250px,#b9ff46 260px,#a4ff5b 270px,#8dff72 280px,#73ff8c 290px,#53ffac 300px,#3affc5 310px,#28ffd7 320px,#18ffe7 330px,#09fff6 340px,#00f7ff 350px,#00e4ff 360px,#00d1ff 370px,#00beff 380px,#00abff 390px,#009aff 400px,#0089ff 410px,#0078ff 420px,#0067ff 430px,#0056ff 440px,#0045ff 450px,#0034ff 460px,#0026ff 470px,#001aff 480px,#0010ff 490px,#0007ff 500px,#0000fc 510px,#0000f1 520px,#0000e6 530px,#0000db 540px,#0000d1 550px,#0000c6 560px,#0000bc 570px,#0000b2 580px,#0000a8 590px,#00009f 600px,#000095 610px,#00008c 620px,#000086 626px)"></i><i style="left:505px;width:4px;background:linear-gradient(#800000 0,#800000 100px,#900000 110px,#b70000 120px,#e30000 130px,#ff0c00 140px,#ff3300 150px,#ff5a00 160px,#ff7c00 170px,#ff9700 180px,#ffb000 190px,#ffc600 200px,#ffdb00 210px,#fff000 220px,#f8ff07 230px,#e2ff1d 240px,#ceff31 250px,#b9ff46 260px,#a4ff5b 270px,#8dff72 280px,#72ff8d 290px,#52ffad 300px,#39ffc6 310px,#27ffd8 320px,#18ffe7 330px,#09fff6 340px,#00f6ff 350px,#00e3ff 360px,#00d0ff 370px,#00bcff 380px,#00a9ff 390px,#0098ff 400px,#0087ff 410px,#0077ff 420px,#0067ff 430px,#0055ff 440px,#0044ff 450px,#0033ff 460px,#0025ff 470px,#001aff 480px,#0010ff 490px,#0006ff 500px,#0000fb 510px,#0000f1 520px,#0000e5 530px,#0000da 540px,#0000d0 550px,#0000c6 560px,#0000bc 570px,#0000b2 580px,#0000a8 590px,#00009e 600px,#000095 610px,#00008c 620px,#000086 626px)"></i><i style="left:509px;width:4px;background:linear-gradient(#800000 0,#800000 100px,#900000 110px,#b60000 120px,#e20000 130px,#ff0b00 140px,#ff3300 150px,#ff5900 160px,#ff7b00 170px,#ff9700 180px,#ffaf00 190px,#ffc500 200px,#ffda00 210px,#fff000 220px,#f8ff07 230px,#e3ff1c 240px,#ceff31 250px,#baff45 260px,#a4ff5b 270px,#8cff73 280px,#72ff8d 290px,#52ffad 300px,#39ffc6 310px,#27ffd8 320px,#18ffe7 330px,#08fff7 340px,#00f6ff 350px,#00e2ff 360px,#00ceff 370px,#00baff 380px,#00a7ff 390px,#0096ff 400px,#0086ff 410px,#0076ff 420px,#0066ff 430px,#0055ff 440px,#0043ff 450px,#0032ff 460px,#0024ff 470px,#0019ff 480px,#000fff 490px,#0006ff 500px,#0000fb 510px,#0000f0 520px,#0000e5 530px,#0000da 540px,#0000cf 550px,#0000c5 560px,#0000bb 570px,#0000b1 580px,#0000a7 590px,#00009e 600px,#000094 610px,#00008b 620px,#000086 626px)"></i><i style="left:513px;width:4px;background:linear-gradient(#800000 0,#800000 100px,#900000 110px,#b60000 120px,#e10000 130px,#ff0a00 140px,#ff3200 150px,#ff5800 160px,#ff7a00 170px,#ff9600 180px,#ffae00 190px,#ffc500 200px,#ffda00 210px,#ffef00 220px,#f9ff06 230px,#e4ff1b 240px,#cfff30 250px,#baff45 260px,#a4ff5b 270px,#8cff73 280px,#71ff8e 290px,#51ffae 300px,#38ffc7 310px,#27ffd8 320px,#17ffe8 330px,#08fff7 340px,#00f5ff 350px,#00e1ff 360px,#00cdff 370px,#00b9ff 380px,#00a6ff 390px,#0094ff 400px,#0084ff 410px,#0075ff 420px,#0065ff 430px,#0054ff 440px,#0042ff 450px,#0031ff 460px,#0023ff 470px,#0018ff 480px,#000eff 490px,#0005ff 500px,#0000fa 510px,#0000ef 520px,#0000e4 530px,#0000d9 540px,#0000cf 550px,#0000c5 560px,#0000ba 570px,#0000b1 580px,#0000a7 590px,#00009d 600px,#000094 610px,#00008b 620px,#000086 626px)"></i><i style="left:517px;width:4px;background:linear-gradient(#800000 0,#800000 100px,#8f0000 110px,#b50000 120px,#e00000 130px,#ff0900 140px,#ff3100 150px,#ff5700 160px,#ff7900 170px,#ff9500 180px,#ffae00 190px,#ffc400 200px,#ffd900 210px,#ffee00 220px,#faff05 230px,#e4ff1b 240px,#cfff30 250px,#baff45 260px,#a4ff5b 270px,#8cff73 280px,#71ff8e 290px,#51ffae 300px,#38ffc7 310px,#26ffd9 320px,#17ffe8 330px,#07fff8 340px,#00f4ff 350px,#00e0ff 360px,#00cbff 370px,#00b7ff 380px,#00a4ff 390px,#0093ff 400px,#0083ff 410px,#0073ff 420px,#0064ff 430px,#0053ff 440px,#0041ff 450px,#0030ff 460px,#0022ff 470px,#0017ff 480px,#000dff 490px,#0004ff 500px,#0000fa 510px,#0000ef 520px,#0000e4 530px,#0000d9 540px,#0000ce 550px,#0000c4 560px,#0000ba 570px,#0000b0 580px,#0000a6 590px,#00009d 600px,#000094 610px,#00008b 620px,#000085 626px)"></i><i style="left:521px;width:4px;background:linear-gradient(#800000 0,#800000 100px,#8f0000 110px,#b50000 120px,#df0000 130px,#ff0800 140px,#ff3000 150px,#ff5600 160px,#ff7900 170px,#ff9400 180px,#ffad00 190px,#ffc300 200px,#ffd800 210px,#ffed00 220px,#fbff04 230px,#e5ff1a 240px,#d0ff2f 250px,#baff45 260px,#a4ff5b 270px,#8cff73 280px,#70ff8f 290px,#50ffaf 300px,#38ffc7 310px,#26ffd9 320px,#17ffe8 330px,#07fff8 340px,#00f3ff 350px,#00dfff 360px,#00caff 370px,#00b5ff 380px,#00a2ff 390px,#0091ff 400px,#0081ff 410px,#0072ff 420px,#0063ff 430px,#0052ff 440px,#0040ff 450px,#0030ff 460px,#0021ff 470px,#0016ff 480px,#000dff 490px,#0004ff 500px,#0000f9 510px,#0000ee 520px,#0000e3 530px,#0000d8 540px,#0000ce 550px,#0000c3 560px,#0000b9 570px,#0000b0 580px,#0000a6 590px,#00009c 600px,#000093 610px,#00008a 620px,#000085 626px)"></i><i style="left:525px;width:4px;background:linear-gradient(#800000 0,#800000 100px,#8e0000 110px,#b40000 120px,#df0000 130px,#ff0800 140px,#ff2f00 150px,#ff5500 160px,#ff7800 170px,#ff9400 180px,#ffac00 190px,#ffc200 200px,#ffd700 210px,#ffec00 220px,#fcff03 230px,#e5ff1a 240px,#d0ff2f 250px,#baff45 260px,#a4ff5b 270px,#8cff73 280px,#70ff8f 290px,#50ffaf 300px,#37ffc8 310px,#26ffd9 320px,#16ffe9 330px,#06fff9 340px,#00f3ff 350px,#00deff 360px,#00c8ff 370px,#00b3ff 380px,#00a0ff 390px,#008fff 400px,#0080ff 410px,#0071ff 420px,#0062ff 430px,#0051ff 440px,#0040ff 450px,#002fff 460px,#0020ff 470px,#0015ff 480px,#000cff 490px,#0003ff 500px,#0000f8 510px,#0000ee 520px,#0000e3 530px,#0000d7 540px,#0000cd 550px,#0000c3 560px,#0000b9 570px,#0000af 580px,#0000a5 590px,#00009c 600px,#000093 610px,#00008a 620px,#000085 626px)"></i><i style="left:529px;width:4px;background:linear-gradient(#800000 0,#800000 100px,#8e0000 110px,#b40000 120px,#df0000 130px,#ff0700 140px,#ff2e00 150px,#ff5500 160px,#ff7700 170px,#ff9300 180px,#ffac00 190px,#ffc200 200px,#ffd700 210px,#ffec00 220px,#fcff03 230px,#e6ff19 240px,#d0ff2f 250px,#baff45 260px,#a3ff5c 270px,#8bff74 280px,#6fff90 290px,#4fffb0 300px,#37ffc8 310px,#25ffda 320px,#16ffe9 330px,#06fff9 340px,#00f2ff 350px,#00ddff 360px,#00c7ff 370px,#00b1ff 380px,#009eff 390px,#008dff 400px,#007fff 410px,#0070ff 420px,#0061ff 430px,#0051ff 440px,#003fff 450px,#002eff 460px,#0020ff 470px,#0015ff 480px,#000bff 490px,#0003ff 500px,#0000f8 510px,#0000ed 520px,#0000e2 530px,#0000d7 540px,#0000cc 550px,#0000c2 560px,#0000b8 570px,#0000af 580px,#0000a5 590px,#00009c 600px,#000093 610px,#00008a 620px,#000084 626px)"></i><i style="left:533px;width:4px;background:linear-gradient(#800000 0,#800000 100px,#8e0000 110px,#b40000 120px,#df0000 130px,#ff0700 140px,#ff2e00 150px,#ff5400 160px,#ff7600 170px,#ff9200 180px,#ffab00 190px,#ffc100 200px,#ffd700 210px,#ffec00 220px,#fcff03 230px,#e6ff19 240px,#d0ff2f 250px,#baff45 260px,#a3ff5c 270px,#8aff75 280px,#6eff91 290px,#4effb1 300px,#36ffc9 310px,#24ffdb 320px,#15ffea 330px,#05fffa 340px,#00f0ff 350px,#00dbff 360px,#00c5ff 370px,#00b0ff 380px,#009cff 390px,#008cff 400px,#007dff 410px,#006fff 420px,#0061ff 430px,#0050ff 440px,#003eff 450px,#002dff 460px,#001fff 470px,#0014ff 480px,#000bff 490px,#0002ff 500px,#0000f7 510px,#0000ed 520px,#0000e2 530px,#0000d6 540px,#0000cc 550px,#0000c2 560px,#0000b8 570px,#0000ae 580px,#0000a5 590px,#00009b 600px,#000092 610px,#000089 620px,#000084 626px)"></i><i style="left:537px;width:4px;background:linear-gradient(#800000 0,#800000 100px,#8e0000 110px,#b40000 120px,#df0000 130px,#ff0700 140px,#ff2e00 150px,#ff5400 160px,#ff7600 170px,#ff9200 180px,#ffab00 190px,#ffc100 200px,#ffd600 210px,#ffec00 220px,#fcff03 230px,#e6ff19 240px,#d0ff2f 250px,#b9ff46 260px,#a2ff5d 270px,#8aff75 280px,#6dff92 290px,#4dffb2 300px,#36ffc9 310px,#24ffdb 320px,#14ffeb 330px,#04fffb 340px,#00efff 350px,#00daff 360px,#00c3ff 370px,#00aeff 380px,#009aff 390px,#008aff 400px,#007cff 410px,#006eff 420px,#0060ff 430px,#004fff 440px,#003dff 450px,#002cff 460px,#001eff 470px,#0013ff 480px,#000aff 490px,#0001ff 500px,#0000f7 510px,#0000ec 520px,#0000e1 530px,#0000d6 540px,#0000cb 550px,#0000c1 560px,#0000b8 570px,#0000ae 580px,#0000a4 590px,#00009b 600px,#000092 610px,#000089 620px,#000084 626px)"></i><i style="left:541px;width:4px;background:linear-gradient(#800000 0,#800000 100px,#8e0000 110px,#b40000 120px,#df0000 130px,#ff0700 140px,#ff2e00 150px,#ff5300 160px,#ff7500 170px,#ff9100 180px,#ffaa00 190px,#ffc100 200px,#ffd600 210px,#ffeb00 220px,#fcff03 230px,#e6ff19 240px,#cfff30 250px,#b9ff46 260px,#a2ff5d 270px,#89ff76 280px,#6cff93 290px,#4dffb2 300px,#35ffca 310px,#23ffdc 320px,#14ffeb 330px,#03fffc 340px,#00eeff 350px,#00d8ff 360px,#00c2ff 370px,#00acff 380px,#0099ff 390px,#0089ff 400px,#007bff 410px,#006dff 420px,#005fff 430px,#004fff 440px,#003dff 450px,#002cff 460px,#001dff 470px,#0013ff 480px,#000aff 490px,#0001ff 500px,#0000f6 510px,#0000ec 520px,#0000e1 530px,#0000d5 540px,#0000cb 550px,#0000c1 560px,#0000b7 570px,#0000ad 580px,#0000a4 590px,#00009b 600px,#000092 610px,#000089 620px,#000084 626px)"></i><i style="left:545px;width:4px;background:linear-gradient(#800000 0,#800000 100px,#8e0000 110px,#b40000 120px,#df0000 130px,#ff0700 140px,#ff2d00 150px,#ff5300 160px,#ff7400 170px,#ff9100 180px,#ffaa00 190px,#ffc000 200px,#ffd600 210px,#ffeb00 220px,#fcff03 230px,#e6ff19 240px,#cfff30 250px,#b9ff46 260px,#a1ff5e 270px,#88ff77 280px,#6cff93 290px,#4cffb3 300px,#34ffcb 310px,#23ffdc 320px,#13ffec 330px,#02fffd 340px,#00edff 350px,#00d7ff 360px,#00c0ff 370px,#00aaff 380px,#0097ff 390px,#0087ff 400px,#0079ff 410px,#006cff 420px,#005eff 430px,#004eff 440px,#003cff 450px,#002bff 460px,#001dff 470px,#0012ff 480px,#0009ff 490px,#0000ff 500px,#0000f6 510px,#0000eb 520px,#0000e0 530px,#0000d5 540px,#0000cb 550px,#0000c0 560px,#0000b7 570px,#0000ad 580px,#0000a3 590px,#00009a 600px,#000091 610px,#000089 620px,#000083 626px)"></i><i style="left:549px;width:4px;background:linear-gradient(#800000 0,#800000 100px,#8e0000 110px,#b40000 120px,#df0000 130px,#ff0700 140px,#ff2d00 150px,#ff5200 160px,#ff7400 170px,#ff9000 180px,#ffa900 190px,#ffc000 200px,#ffd500 210px,#ffeb00 220px,#fcff03 230px,#e6ff19 240px,#cfff30 250px,#b8ff47 260px,#a1ff5e 270px,#88ff77 280px,#6bff94 290px,#4bffb4 300px,#34ffcb 310px,#22ffdd 320px,#12ffed 330px,#01fffe 340px,#00ecff 350px,#00d5ff 360px,#00beff 370px,#00a8ff 380px,#0095ff 390px,#0085ff 400px,#0078ff 410px,#006bff 420px,#005dff 430px,#004dff 440px,#003bff 450px,#002aff 460px,#001cff 470px,#0011ff 480px,#0008ff 490px,#0000ff 500px,#0000f5 510px,#0000eb 520px,#0000e0 530px,#0000d5 540px,#0000ca 550px,#0000c0 560px,#0000b6 570px,#0000ad 580px,#0000a3 590px,#00009a 600px,#000091 610px,#000088 620px,#000083 626px)"></i><i style="left:553px;width:4px;background:linear-gradient(#800000 0,#800000 100px,#8e0000 110px,#b40000 120px,#df0000 130px,#ff0700 140px,#ff2d00 150px,#ff5100 160px,#ff7300 170px,#ff8f00 180px,#ffa800 190px,#ffbf00 200px,#ffd500 210px,#ffeb00 220px,#fcff03 230px,#e5ff1a 240px,#cfff30 250px,#b8ff47 260px,#a0ff5f 270px,#87ff78 280px,#6aff95 290px,#4affb5 300px,#33ffcc 310px,#22ffdd 320px,#12ffed 330px,#00ffff 340px,#00ebff 350px,#00d4ff 360px,#00bcff 370px,#00a6ff 380px,#0093ff 390px,#0084ff 400px,#0077ff 410px,#006aff 420px,#005dff 430px,#004dff 440px,#003bff 450px,#0029ff 460px,#001bff 470px,#0011ff 480px,#0008ff 490px,#0000fe 500px,#0000f5 510px,#0000ea 520px,#0000df 530px,#0000d4 540px,#0000ca 550px,#0000c0 560px,#0000b6 570px,#0000ac 580px,#0000a3 590px,#00009a 600px,#000091 610px,#000088 620px,#000083 626px)"></i><i style="left:557px;width:4px;background:linear-gradient(#800000 0,#800000 100px,#8e0000 110px,#b40000 120px,#df0000 130px,#ff0700 140px,#ff2c00 150px,#ff5100 160px,#ff7200 170px,#ff8f00 180px,#ffa800 190px,#ffbf00 200px,#ffd500 210px,#ffeb00 220px,#fdff02 230px,#e5ff1a 240px,#cfff30 250px,#b8ff47 260px,#a0ff5f 270px,#86ff79 280px,#69ff96 290px,#49ffb6 300px,#33ffcc 310px,#21ffde 320px,#11ffee 330px,#00ffff 340px,#00e9ff 350px,#00d2ff 360px,#00bbff 370px,#00a5ff 380px,#0091ff 390px,#0082ff 400px,#0075ff 410px,#0069ff 420px,#005cff 430px,#004cff 440px,#003aff 450px,#0029ff 460px,#001bff 470px,#0010ff 480px,#0007ff 490px,#0000fe 500px,#0000f5 510px,#0000ea 520px,#0000df 530px,#0000d4 540px,#0000c9 550px,#0000bf 560px,#0000b5 570px,#0000ac 580px,#0000a2 590px,#000099 600px,#000090 610px,#000088 620px,#000083 626px)"></i><i style="left:561px;width:4px;background:linear-gradient(#800000 0,#800000 100px,#8f0000 110px,#b40000 120px,#df0000 130px,#ff0700 140px,#ff2c00 150px,#ff5100 160px,#ff7200 170px,#ff8e00 180px,#ffa700 190px,#ffbe00 200px,#ffd400 210px,#ffea00 220px,#fcff03 230px,#e5ff1a 240px,#ceff31 250px,#b6ff49 260px,#9eff61 270px,#84ff7b 280px,#67ff98 290px,#48ffb7 300px,#32ffcd 310px,#20ffdf 320px,#10ffef 330px,#00fdff 340px,#00e8ff 350px,#00d0ff 360px,#00b9ff 370px,#00a3ff 380px,#0090ff 390px,#0081ff 400px,#0074ff 410px,#0068ff 420px,#005bff 430px,#004bff 440px,#003aff 450px,#0028ff 460px,#001aff 470px,#0010ff 480px,#0007ff 490px,#0000fe 500px,#0000f4 510px,#0000ea 520px,#0000de 530px,#0000d3 540px,#0000c9 550px,#0000bf 560px,#0000b5 570px,#0000ab 580px,#0000a2 590px,#000099 600px,#000090 610px,#000088 620px,#000083 626px)"></i><i style="left:565px;width:4px;background:linear-gradient(#800000 0,#800000 100px,#8f0000 110px,#b50000 120px,#e00000 130px,#ff0800 140px,#ff2c00 150px,#ff5000 160px,#ff7100 170px,#ff8e00 180px,#ffa700 190px,#ffbe00 200px,#ffd400 210px,#ffea00 220px,#fcff03 230px,#e5ff1a 240px,#cdff32 250px,#b5ff4a 260px,#9cff63 270px,#83ff7c 280px,#65ff9a 290px,#47ffb8 300px,#31ffce 310px,#1fffe0 320px,#0ffff0 330px,#00fbff 340px,#00e6ff 350px,#00cfff 360px,#00b7ff 370px,#00a1ff 380px,#008eff 390px,#0080ff 400px,#0073ff 410px,#0068ff 420px,#005bff 430px,#004bff 440px,#0039ff 450px,#0028ff 460px,#001aff 470px,#000fff 480px,#0006ff 490px,#0000fd 500px,#0000f4 510px,#0000e9 520px,#0000de 530px,#0000d3 540px,#0000c8 550px,#0000be 560px,#0000b5 570px,#0000ab 580px,#0000a2 590px,#000099 600px,#000090 610px,#000087 620px,#000082 626px)"></i><i style="left:569px;width:4px;background:linear-gradient(#800000 0,#800000 100px,#8f0000 110px,#b50000 120px,#e00000 130px,#ff0800 140px,#ff2d00 150px,#ff5000 160px,#ff7100 170px,#ff8d00 180px,#ffa600 190px,#ffbe00 200px,#ffd400 210px,#ffea00 220px,#fcff03 230px,#e4ff1b 240px,#ccff33 250px,#b4ff4b 260px,#9bff64 270px,#81ff7e 280px,#63ff9c 290px,#46ffb9 300px,#30ffcf 310px,#1effe1 320px,#0dfff2 330px,#00faff 340px,#00e4ff 350px,#00cdff 360px,#00b6ff 370px,#00a0ff 380px,#008dff 390px,#007fff 400px,#0072ff 410px,#0067ff 420px,#005aff 430px,#004bff 440px,#0039ff 450px,#0027ff 460px,#0019ff 470px,#000fff 480px,#0006ff 490px,#0000fd 500px,#0000f4 510px,#0000e9 520px,#0000de 530px,#0000d3 540px,#0000c8 550px,#0000be 560px,#0000b4 570px,#0000ab 580px,#0000a2 590px,#000098 600px,#000090 610px,#000087 620px,#000082 626px)"></i><i style="left:573px;width:4px;background:linear-gradient(#800000 0,#800000 100px,#8f0000 110px,#b60000 120px,#e10000 130px,#ff0900 140px,#ff2d00 150px,#ff5000 160px,#ff7000 170px,#ff8c00 180px,#ffa600 190px,#ffbd00 200px,#ffd400 210px,#ffea00 220px,#fcff03 230px,#e4ff1b 240px,#cbff34 250px,#b3ff4c 260px,#99ff66 270px,#7fff80 280px,#62ff9d 290px,#45ffba 300px,#2fffd0 310px,#1dffe2 320px,#0cfff3 330px,#00f8ff 340px,#00e2ff 350px,#00cbff 360px,#00b4ff 370px,#009eff 380px,#008cff 390px,#007dff 400px,#0071ff 410px,#0066ff 420px,#005aff 430px,#004aff 440px,#0038ff 450px,#0027ff 460px,#0019ff 470px,#000eff 480px,#0006ff 490px,#0000fc 500px,#0000f3 510px,#0000e9 520px,#0000dd 530px,#0000d2 540px,#0000c8 550px,#0000be 560px,#0000b4 570px,#0000ab 580px,#0000a1 590px,#000098 600px,#000090 610px,#000087 620px,#000082 626px)"></i><i style="left:577px;width:4px;background:linear-gradient(#800000 0,#800000 100px,#8f0000 110px,#b60000 120px,#e10000 130px,#ff0900 140px,#ff2d00 150px,#ff4f00 160px,#ff6f00 170px,#ff8c00 180px,#ffa500 190px,#ffbd00 200px,#ffd300 210px,#ffea00 220px,#fcff03 230px,#e3ff1c 240px,#caff35 250px,#b1ff4e 260px,#98ff67 270px,#7dff82 280px,#60ff9f 290px,#44ffbb 300px,#2effd1 310px,#1cffe3 320px,#0bfff4 330px,#00f6ff 340px,#00e0ff 350px,#00c9ff 360px,#00b2ff 370px,#009dff 380px,#008aff 390px,#007cff 400px,#0071ff 410px,#0066ff 420px,#0059ff 430px,#004aff 440px,#0038ff 450px,#0026ff 460px,#0018ff 470px,#000eff 480px,#0005ff 490px,#0000fc 500px,#0000f3 510px,#0000e8 520px,#0000dd 530px,#0000d2 540px,#0000c7 550px,#0000be 560px,#0000b4 570px,#0000aa 580px,#0000a1 590px,#000098 600px,#00008f 610px,#000087 620px,#000082 626px)"></i><i style="left:581px;width:4px;background:linear-gradient(#800000 0,#800000 100px,#900000 110px,#b70000 120px,#e20000 130px,#ff0900 140px,#ff2d00 150px,#ff4f00 160px,#ff6f00 170px,#ff8b00 180px,#ffa500 190px,#ffbc00 200px,#ffd300 210px,#ffea00 220px,#fcff03 230px,#e3ff1c 240px,#caff35 250px,#b0ff4f 260px,#96ff69 270px,#7bff84 280px,#5effa1 290px,#42ffbd 300px,#2dffd2 310px,#1bffe4 320px,#09fff6 330px,#00f5ff 340px,#00dfff 350px,#00c7ff 360px,#00b0ff 370px,#009bff 380px,#0089ff 390px,#007bff 400px,#0070ff 410px,#0065ff 420px,#0059ff 430px,#0049ff 440px,#0037ff 450px,#0026ff 460px,#0017ff 470px,#000dff 480px,#0005ff 490px,#0000fc 500px,#0000f3 510px,#0000e8 520px,#0000dd 530px,#0000d2 540px,#0000c7 550px,#0000bd 560px,#0000b4 570px,#0000aa 580px,#0000a1 590px,#000098 600px,#00008f 610px,#000087 620px,#000082 626px)"></i><i style="left:585px;width:4px;background:linear-gradient(#800000 0,#800000 100px,#900000 110px,#b70000 120px,#e20000 130px,#ff0a00 140px,#ff2d00 150px,#ff4f00 160px,#ff6e00 170px,#ff8a00 180px,#ffa400 190px,#ffbc00 200px,#ffd300 210px,#ffea00 220px,#fcff03 230px,#e2ff1d 240px,#c9ff36 250px,#afff50 260px,#94ff6b 270px,#79ff86 280px,#5cffa3 290px,#41ffbe 300px,#2cffd3 310px,#1affe5 320px,#08fff7 330px,#00f3ff 340px,#00ddff 350px,#00c5ff 360px,#00aeff 370px,#0099ff 380px,#0088ff 390px,#007aff 400px,#006fff 410px,#0064ff 420px,#0058ff 430px,#0049ff 440px,#0037ff 450px,#0025ff 460px,#0017ff 470px,#000dff 480px,#0004ff 490px,#0000fb 500px,#0000f2 510px,#0000e8 520px,#0000dd 530px,#0000d1 540px,#0000c7 550px,#0000bd 560px,#0000b3 570px,#0000aa 580px,#0000a1 590px,#000098 600px,#00008f 610px,#000087 620px,#000082 626px)"></i><i style="left:589px;width:4px;background:linear-gradient(#800000 0,#800000 100px,#900000 110px,#b80000 120px,#e30000 130px,#ff0a00 140px,#ff2d00 150px,#ff4e00 160px,#ff6e00 170px,#ff8a00 180px,#ffa400 190px,#ffbc00 200px,#ffd300 210px,#ffea00 220px,#fbff04 230px,#e2ff1d 240px,#c8ff37 250px,#adff52 260px,#93ff6c 270px,#77ff88 280px,#5affa5 290px,#40ffbf 300px,#2bffd4 310px,#19ffe6 320px,#07fff8 330px,#00f2ff 340px,#00dbff 350px,#00c4ff 360px,#00adff 370px,#0098ff 380px,#0086ff 390px,#0079ff 400px,#006eff 410px,#0064ff 420px,#0058ff 430px,#0048ff 440px,#0036ff 450px,#0025ff 460px,#0017ff 470px,#000cff 480px,#0004ff 490px,#0000fb 500px,#0000f2 510px,#0000e8 520px,#0000dc 530px,#0000d1 540px,#0000c7 550px,#0000bd 560px,#0000b3 570px,#0000aa 580px,#0000a0 590px,#000097 600px,#00008f 610px,#000086 620px,#000082 626px)"></i><i style="left:593px;width:4px;background:linear-gradient(#800000 0,#800000 100px,#910000 110px,#b80000 120px,#e40000 130px,#ff0b00 140px,#ff2d00 150px,#ff4e00 160px,#ff6d00 170px,#ff8a00 180px,#ffa300 190px,#ffbb00 200px,#ffd200 210px,#ffea00 220px,#fbff04 230px,#e1ff1e 240px,#c7ff38 250px,#acff53 260px,#91ff6e 270px,#75ff8a 280px,#59ffa6 290px,#3fffc0 300px,#2affd5 310px,#18ffe7 320px,#05fffa 330px,#00f0ff 340px,#00daff 350px,#00c2ff 360px,#00acff 370px,#0097ff 380px,#0086ff 390px,#0078ff 400px,#006eff 410px,#0063ff 420px,#0058ff 430px,#0048ff 440px,#0036ff 450px,#0025ff 460px,#0016ff 470px,#000cff 480px,#0004ff 490px,#0000fb 500px,#0000f2 510px,#0000e7 520px,#0000dc 530px,#0000d1 540px,#0000c6 550px,#0000bd 560px,#0000b3 570px,#0000a9 580px,#0000a0 590px,#000097 600px,#00008f 610px,#000086 620px,#000082 626px)"></i><i style="left:597px;width:4px;background:linear-gradient(#800000 0,#800000 100px,#910000 110px,#b90000 120px,#e40000 130px,#ff0b00 140px,#ff2e00 150px,#ff4e00 160px,#ff6d00 170px,#ff8900 180px,#ffa300 190px,#ffbb00 200px,#ffd200 210px,#ffea00 220px,#fbff04 230px,#e1ff1e 240px,#c5ff3a 250px,#aaff55 260px,#8fff70 270px,#73ff8c 280px,#57ffa8 290px,#3dffc2 300px,#29ffd6 310px,#16ffe9 320px,#04fffb 330px,#00eeff 340px,#00d8ff 350px,#00c1ff 360px,#00abff 370px,#0097ff 380px,#0085ff 390px,#0078ff 400px,#006dff 410px,#0063ff 420px,#0057ff 430px,#0048ff 440px,#0036ff 450px,#0024ff 460px,#0016ff 470px,#000cff 480px,#0004ff 490px,#0000fb 500px,#0000f2 510px,#0000e7 520px,#0000dc 530px,#0000d1 540px,#0000c6 550px,#0000bc 560px,#0000b3 570px,#0000a9 580px,#0000a0 590px,#000097 600px,#00008f 610px,#000086 620px,#000081 626px)"></i><i style="left:601px;width:4px;background:linear-gradient(#800000 0,#800000 100px,#910000 110px,#b90000 120px,#e50000 130px,#ff0c00 140px,#ff2e00 150px,#ff4e00 160px,#ff6d00 170px,#ff8900 180px,#ffa300 190px,#ffbb00 200px,#ffd200 210px,#ffea00 220px,#fbff04 230px,#e0ff1f 240px,#c4ff3b 250px,#a9ff56 260px,#8dff72 270px,#72ff8d 280px,#55ffaa 290px,#3cffc3 300px,#28ffd7 310px,#15ffea 320px,#02fffd 330px,#00edff 340px,#00d7ff 350px,#00c0ff 360px,#00aaff 370px,#0096ff 380px,#0085ff 390px,#0078ff 400px,#006dff 410px,#0063ff 420px,#0057ff 430px,#0048ff 440px,#0036ff 450px,#0024ff 460px,#0016ff 470px,#000cff 480px,#0004ff 490px,#0000fb 500px,#0000f2 510px,#0000e7 520px,#0000dc 530px,#0000d1 540px,#0000c6 550px,#0000bc 560px,#0000b3 570px,#0000a9 580px,#0000a0 590px,#000097 600px,#00008f 610px,#000086 620px,#000081 626px)"></i><i style="left:605px;width:4px;background:linear-gradient(#800000 0,#800000 100px,#920000 110px,#ba0000 120px,#e60000 130px,#ff0c00 140px,#ff2e00 150px,#ff4e00 160px,#ff6d00 170px,#ff8900 180px,#ffa300 190px,#ffbb00 200px,#ffd200 210px,#ffea00 220px,#faff05 230px,#dfff20 240px,#c3ff3c 250px,#a7ff58 260px,#8bff74 270px,#70ff8f 280px,#54ffab 290px,#3bffc4 300px,#26ffd9 310px,#14ffeb 320px,#01fffe 330px,#00ebff 340px,#00d5ff 350px,#00bfff 360px,#00a9ff 370px,#0095ff 380px,#0084ff 390px,#0077ff 400px,#006dff 410px,#0062ff 420px,#0057ff 430px,#0048ff 440px,#0036ff 450px,#0024ff 460px,#0016ff 470px,#000cff 480px,#0004ff 490px,#0000fb 500px,#0000f2 510px,#0000e7 520px,#0000dc 530px,#0000d1 540px,#0000c6 550px,#0000bc 560px,#0000b3 570px,#0000a9 580px,#0000a0 590px,#000097 600px,#00008e 610px,#000086 620px,#000081 626px)"></i><i style="left:609px;width:4px;background:linear-gradient(#800000 0,#800000 100px,#920000 110px,#ba0000 120px,#e60000 130px,#ff0d00 140px,#ff2e00 150px,#ff4e00 160px,#ff6c00 170px,#ff8800 180px,#ffa200 190px,#ffba00 200px,#ffd200 210px,#ffea00 220px,#faff05 230px,#dfff20 240px,#c2ff3d 250px,#a5ff5a 260px,#89ff76 270px,#6eff91 280px,#52ffad 290px,#3affc5 300px,#25ffda 310px,#12ffed 320px,#00feff 330px,#00eaff 340px,#00d4ff 350px,#00bdff 360px,#00a8ff 370px,#0094ff 380px,#0084ff 390px,#0077ff 400px,#006cff 410px,#0062ff 420px,#0057ff 430px,#0048ff 440px,#0036ff 450px,#0024ff 460px,#0016ff 470px,#000cff 480px,#0003ff 490px,#0000fa 500px,#0000f2 510px,#0000e7 520px,#0000dc 530px,#0000d0 540px,#0000c6 550px,#0000bc 560px,#0000b2 570px,#0000a9 580px,#0000a0 590px,#000097 600px,#00008e 610px,#000086 620px,#000081 626px)"></i><i style="left:613px;width:4px;background:linear-gradient(#800000 0,#800000 100px,#920000 110px,#bb0000 120px,#e70000 130px,#ff0d00 140px,#ff2f00 150px,#ff4e00 160px,#ff6c00 170px,#ff8800 180px,#ffa200 190px,#ffba00 200px,#ffd200 210px,#ffea00 220px,#faff05 230px,#deff21 240px,#c1ff3e 250px,#a4ff5b 260px,#87ff78 270px,#6cff93 280px,#50ffaf 290px,#38ffc7 300px,#24ffdb 310px,#11ffee 320px,#00fdff 330px,#00e8ff 340px,#00d2ff 350px,#00bcff 360px,#00a7ff 370px,#0094ff 380px,#0083ff 390px,#0076ff 400px,#006cff 410px,#0062ff 420px,#0057ff 430px,#0047ff 440px,#0035ff 450px,#0024ff 460px,#0016ff 470px,#000bff 480px,#0003ff 490px,#0000fa 500px,#0000f1 510px,#0000e7 520px,#0000dc 530px,#0000d0 540px,#0000c6 550px,#0000bc 560px,#0000b2 570px,#0000a9 580px,#0000a0 590px,#000097 600px,#00008e 610px,#000086 620px,#000081 626px)"></i><i style="left:617px;width:4px;background:linear-gradient(#800000 0,#800000 100px,#930000 110px,#bc0000 120px,#e80000 130px,#ff0e00 140px,#ff2f00 150px,#ff4e00 160px,#ff6c00 170px,#ff8800 180px,#ffa200 190px,#ffba00 200px,#ffd200 210px,#ffea00 220px,#faff05 230px,#ddff22 240px,#c0ff3f 250px,#a2ff5d 260px,#86ff79 270px,#6aff95 280px,#4fffb0 290px,#37ffc8 300px,#23ffdc 310px,#10ffef 320px,#00fbff 330px,#00e6ff 340px,#00d1ff 350px,#00bbff 360px,#00a6ff 370px,#0093ff 380px,#0083ff 390px,#0076ff 400px,#006cff 410px,#0062ff 420px,#0056ff 430px,#0047ff 440px,#0035ff 450px,#0024ff 460px,#0015ff 470px,#000bff 480px,#0003ff 490px,#0000fa 500px,#0000f1 510px,#0000e7 520px,#0000db 530px,#0000d0 540px,#0000c6 550px,#0000bc 560px,#0000b2 570px,#0000a9 580px,#0000a0 590px,#000097 600px,#00008e 610px,#000086 620px,#000081 626px)"></i><i style="left:621px;width:4px;background:linear-gradient(#800000 0,#800000 100px,#930000 110px,#bc0000 120px,#e80000 130px,#ff0e00 140px,#ff2f00 150px,#ff4e00 160px,#ff6c00 170px,#ff8800 180px,#ffa200 190px,#ffba00 200px,#ffd200 210px,#ffeb00 220px,#f9ff06 230px,#dcff23 240px,#bfff40 250px,#a1ff5e 260px,#84ff7b 270px,#68ff97 280px,#4dffb2 290px,#36ffc9 300px,#22ffdd 310px,#0ffff0 320px,#00faff 330px,#00e5ff 340px,#00d0ff 350px,#00baff 360px,#00a5ff 370px,#0093ff 380px,#0082ff 390px,#0076ff 400px,#006cff 410px,#0062ff 420px,#0056ff 430px,#0047ff 440px,#0035ff 450px,#0024ff 460px,#0015ff 470px,#000bff 480px,#0003ff 490px,#0000fa 500px,#0000f1 510px,#0000e7 520px,#0000db 530px,#0000d0 540px,#0000c6 550px,#0000bc 560px,#0000b2 570px,#0000a9 580px,#0000a0 590px,#000097 600px,#00008e 610px,#000086 620px,#000081 626px)"></i><i style="left:625px;width:4px;background:linear-gradient(#800000 0,#800000 100px,#930000 110px,#bd0000 120px,#e90000 130px,#ff0f00 140px,#ff3000 150px,#ff4f00 160px,#ff6d00 170px,#ff8900 180px,#ffa300 190px,#ffbb00 200px,#ffd300 210px,#ffec00 220px,#f8ff07 230px,#dbff24 240px,#bdff42 250px,#a0ff5f 260px,#83ff7c 270px,#66ff99 280px,#4bffb4 290px,#34ffcb 300px,#20ffdf 310px,#0dfff2 320px,#00f9ff 330px,#00e4ff 340px,#00cfff 350px,#00baff 360px,#00a5ff 370px,#0093ff 380px,#0083ff 390px,#0076ff 400px,#006cff 410px,#0062ff 420px,#0057ff 430px,#0048ff 440px,#0036ff 450px,#0024ff 460px,#0016ff 470px,#000cff 480px,#0003ff 490px,#0000fa 500px,#0000f1 510px,#0000e7 520px,#0000dc 530px,#0000d0 540px,#0000c6 550px,#0000bc 560px,#0000b2 570px,#0000a9 580px,#0000a0 590px,#000097 600px,#00008e 610px,#000086 620px,#000081 626px)"></i><i style="left:629px;width:4px;background:linear-gradient(#800000 0,#800000 100px,#940000 110px,#bd0000 120px,#e90000 130px,#ff0f00 140px,#ff3000 150px,#ff4f00 160px,#ff6d00 170px,#ff8900 180px,#ffa300 190px,#ffbc00 200px,#ffd400 210px,#ffed00 220px,#f6ff09 230px,#daff25 240px,#bcff43 250px,#9eff61 260px,#81ff7e 270px,#65ff9a 280px,#4affb5 290px,#33ffcc 300px,#1fffe0 310px,#0cfff3 320px,#00f8ff 330px,#00e3ff 340px,#00ceff 350px,#00b9ff 360px,#00a5ff 370px,#0093ff 380px,#0083ff 390px,#0076ff 400px,#006cff 410px,#0062ff 420px,#0057ff 430px,#0048ff 440px,#0036ff 450px,#0024ff 460px,#0016ff 470px,#000cff 480px,#0004ff 490px,#0000fb 500px,#0000f2 510px,#0000e7 520px,#0000dc 530px,#0000d0 540px,#0000c6 550px,#0000bc 560px,#0000b2 570px,#0000a9 580px,#0000a0 590px,#000097 600px,#00008e 610px,#000086 620px,#000081 626px)"></i><i style="left:633px;width:4px;background:linear-gradient(#800000 0,#800000 100px,#940000 110px,#be0000 120px,#ea0000 130px,#ff1000 140px,#ff3100 150px,#ff5000 160px,#ff6e00 170px,#ff8a00 180px,#ffa400 190px,#ffbd00 200px,#ffd500 210px,#ffee00 220px,#f5ff0a 230px,#d8ff27 240px,#bbff44 250px,#9dff62 260px,#80ff7f 270px,#63ff9c 280px,#48ffb7 290px,#31ffce 300px,#1effe1 310px,#0bfff4 320px,#00f7ff 330px,#00e2ff 340px,#00cdff 350px,#00b9ff 360px,#00a5ff 370px,#0093ff 380px,#0083ff 390px,#0077ff 400px,#006cff 410px,#0062ff 420px,#0057ff 430px,#0048ff 440px,#0036ff 450px,#0025ff 460px,#0016ff 470px,#000cff 480px,#0004ff 490px,#0000fb 500px,#0000f2 510px,#0000e7 520px,#0000dc 530px,#0000d0 540px,#0000c6 550px,#0000bc 560px,#0000b2 570px,#0000a9 580px,#0000a0 590px,#000097 600px,#00008e 610px,#000086 620px,#000081 626px)"></i><i style="left:637px;width:4px;background:linear-gradient(#800000 0,#800000 100px,#940000 110px,#be0000 120px,#ea0000 130px,#ff1000 140px,#ff3100 150px,#ff5000 160px,#ff6e00 170px,#ff8a00 180px,#ffa500 190px,#ffbd00 200px,#ffd600 210px,#ffef00 220px,#f4ff0b 230px,#d7ff28 240px,#b9ff46 250px,#9cff63 260px,#7fff80 270px,#61ff9e 280px,#46ffb9 290px,#30ffcf 300px,#1cffe3 310px,#0afff5 320px,#00f6ff 330px,#00e1ff 340px,#00cdff 350px,#00b8ff 360px,#00a5ff 370px,#0093ff 380px,#0083ff 390px,#0077ff 400px,#006dff 410px,#0063ff 420px,#0057ff 430px,#0048ff 440px,#0037ff 450px,#0025ff 460px,#0017ff 470px,#000dff 480px,#0004ff 490px,#0000fb 500px,#0000f2 510px,#0000e7 520px,#0000dc 530px,#0000d0 540px,#0000c6 550px,#0000bc 560px,#0000b2 570px,#0000a9 580px,#0000a0 590px,#000097 600px,#00008e 610px,#000086 620px,#000082 626px)"></i><i style="left:641px;width:4px;background:linear-gradient(#800000 0,#800000 100px,#950000 110px,#bf0000 120px,#eb0000 130px,#ff1100 140px,#ff3200 150px,#ff5100 160px,#ff6f00 170px,#ff8b00 180px,#ffa500 190px,#ffbe00 200px,#ffd700 210px,#fff000 220px,#f2ff0d 230px,#d6ff29 240px,#b8ff47 250px,#9aff65 260px,#7dff82 270px,#60ff9f 280px,#45ffba 290px,#2effd1 300px,#1bffe4 310px,#09fff6 320px,#00f4ff 330px,#00e0ff 340px,#00ccff 350px,#00b8ff 360px,#00a5ff 370px,#0093ff 380px,#0084ff 390px,#0077ff 400px,#006dff 410px,#0063ff 420px,#0058ff 430px,#0049ff 440px,#0037ff 450px,#0025ff 460px,#0017ff 470px,#000dff 480px,#0004ff 490px,#0000fb 500px,#0000f2 510px,#0000e7 520px,#0000dc 530px,#0000d1 540px,#0000c6 550px,#0000bc 560px,#0000b2 570px,#0000a9 580px,#0000a0 590px,#000097 600px,#00008e 610px,#000086 620px,#000082 626px)"></i><i style="left:645px;width:4px;background:linear-gradient(#800000 0,#800000 100px,#950000 110px,#bf0000 120px,#ec0000 130px,#ff1100 140px,#ff3200 150px,#ff5100 160px,#ff6f00 170px,#ff8b00 180px,#ffa600 190px,#ffbf00 200px,#ffd800 210px,#fff100 220px,#f1ff0e 230px,#d4ff2b 240px,#b7ff48 250px,#99ff66 260px,#7cff83 270px,#5effa1 280px,#43ffbc 290px,#2dffd2 300px,#1affe5 310px,#07fff8 320px,#00f3ff 330px,#00dfff 340px,#00cbff 350px,#00b7ff 360px,#00a4ff 370px,#0093ff 380px,#0084ff 390px,#0077ff 400px,#006dff 410px,#0063ff 420px,#0058ff 430px,#0049ff 440px,#0037ff 450px,#0026ff 460px,#0017ff 470px,#000dff 480px,#0005ff 490px,#0000fb 500px,#0000f2 510px,#0000e7 520px,#0000dc 530px,#0000d1 540px,#0000c6 550px,#0000bc 560px,#0000b3 570px,#0000a9 580px,#0000a0 590px,#000097 600px,#00008f 610px,#000086 620px,#000082 626px)"></i><i style="left:649px;width:4px;background:linear-gradient(#800000 0,#800000 100px,#960000 110px,#c00000 120px,#ec0000 130px,#ff1200 140px,#ff3300 150px,#ff5200 160px,#ff7000 170px,#ff8c00 180px,#ffa600 190px,#ffc000 200px,#ffd900 210px,#fff300 220px,#f0ff0f 230px,#d3ff2c 240px,#b5ff4a 250px,#98ff67 260px,#7bff84 270px,#5cffa3 280px,#41ffbe 290px,#2bffd4 300px,#18ffe7 310px,#06fff9 320px,#00f2ff 330px,#00deff 340px,#00caff 350px,#00b7ff 360px,#00a4ff 370px,#0093ff 380px,#0084ff 390px,#0078ff 400px,#006dff 410px,#0063ff 420px,#0058ff 430px,#0049ff 440px,#0038ff 450px,#0026ff 460px,#0018ff 470px,#000dff 480px,#0005ff 490px,#0000fc 500px,#0000f2 510px,#0000e8 520px,#0000dc 530px,#0000d1 540px,#0000c6 550px,#0000bc 560px,#0000b3 570px,#0000a9 580px,#0000a0 590px,#000097 600px,#00008f 610px,#000086 620px,#000082 626px)"></i><i style="left:653px;width:4px;background:linear-gradient(#800000 0,#800000 100px,#960000 110px,#c10000 120px,#ed0000 130px,#ff1200 140px,#ff3400 150px,#ff5300 160px,#ff7100 170px,#ff8d00 180px,#ffa800 190px,#ffc100 200px,#ffda00 210px,#fff400 220px,#eeff11 230px,#d1ff2e 240px,#b4ff4b 250px,#96ff69 260px,#79ff86 270px,#5affa5 280px,#3fffc0 290px,#2affd5 300px,#17ffe8 310px,#05fffa 320px,#00f1ff 330px,#00deff 340px,#00caff 350px,#00b7ff 360px,#00a4ff 370px,#0094ff 380px,#0085ff 390px,#0078ff 400px,#006eff 410px,#0064ff 420px,#0059ff 430px,#004aff 440px,#0038ff 450px,#0027ff 460px,#0019ff 470px,#000eff 480px,#0005ff 490px,#0000fc 500px,#0000f3 510px,#0000e8 520px,#0000dc 530px,#0000d1 540px,#0000c6 550px,#0000bc 560px,#0000b3 570px,#0000a9 580px,#0000a0 590px,#000097 600px,#00008f 610px,#000087 620px,#000082 626px)"></i><i style="left:657px;width:4px;background:linear-gradient(#800000 0,#800000 100px,#970000 110px,#c10000 120px,#ed0000 130px,#ff1300 140px,#ff3400 150px,#ff5400 160px,#ff7200 170px,#ff8e00 180px,#ffa900 190px,#ffc300 200px,#ffdc00 210px,#fff700 220px,#ecff13 230px,#d0ff2f 240px,#b3ff4c 250px,#95ff6a 260px,#77ff88 270px,#58ffa7 280px,#3effc1 290px,#29ffd6 300px,#16ffe9 310px,#04fffb 320px,#00f0ff 330px,#00ddff 340px,#00caff 350px,#00b7ff 360px,#00a5ff 370px,#0094ff 380px,#0085ff 390px,#0079ff 400px,#006fff 410px,#0065ff 420px,#0059ff 430px,#004aff 440px,#0039ff 450px,#0028ff 460px,#0019ff 470px,#000fff 480px,#0006ff 490px,#0000fc 500px,#0000f3 510px,#0000e8 520px,#0000dd 530px,#0000d1 540px,#0000c6 550px,#0000bd 560px,#0000b3 570px,#0000a9 580px,#0000a0 590px,#000097 600px,#00008f 610px,#000087 620px,#000082 626px)"></i><i style="left:661px;width:4px;background:linear-gradient(#800000 0,#800000 100px,#970000 110px,#c20000 120px,#ee0000 130px,#ff1400 140px,#ff3500 150px,#ff5500 160px,#ff7300 170px,#ff9000 180px,#ffab00 190px,#ffc500 200px,#ffde00 210px,#fff900 220px,#eaff15 230px,#ceff31 240px,#b1ff4e 250px,#94ff6b 260px,#76ff89 270px,#56ffa9 280px,#3cffc3 290px,#27ffd8 300px,#15ffea 310px,#03fffc 320px,#00f0ff 330px,#00dcff 340px,#00c9ff 350px,#00b7ff 360px,#00a5ff 370px,#0094ff 380px,#0086ff 390px,#0079ff 400px,#006fff 410px,#0065ff 420px,#005aff 430px,#004bff 440px,#003aff 450px,#0028ff 460px,#001aff 470px,#0010ff 480px,#0007ff 490px,#0000fd 500px,#0000f3 510px,#0000e8 520px,#0000dd 530px,#0000d1 540px,#0000c7 550px,#0000bd 560px,#0000b3 570px,#0000a9 580px,#0000a0 590px,#000097 600px,#00008f 610px,#000087 620px,#000082 626px)"></i><i style="left:665px;width:4px;background:linear-gradient(#800000 0,#800000 100px,#980000 110px,#c30000 120px,#ef0000 130px,#ff1400 140px,#ff3600 150px,#ff5600 160px,#ff7400 170px,#ff9100 180px,#ffac00 190px,#ffc600 200px,#ffe000 210px,#fffb00 220px,#e8ff17 230px,#ccff33 240px,#b0ff4f 250px,#93ff6c 260px,#74ff8b 270px,#54ffab 280px,#3affc5 290px,#26ffd9 300px,#14ffeb 310px,#02fffd 320px,#00efff 330px,#00dcff 340px,#00c9ff 350px,#00b7ff 360px,#00a5ff 370px,#0095ff 380px,#0086ff 390px,#007aff 400px,#0070ff 410px,#0066ff 420px,#005aff 430px,#004cff 440px,#003aff 450px,#0029ff 460px,#001bff 470px,#0010ff 480px,#0007ff 490px,#0000fd 500px,#0000f4 510px,#0000e9 520px,#0000dd 530px,#0000d1 540px,#0000c7 550px,#0000bd 560px,#0000b3 570px,#0000aa 580px,#0000a0 590px,#000098 600px,#00008f 610px,#000087 620px,#000082 626px)"></i><i style="left:669px;width:4px;background:linear-gradient(#800000 0,#800000 100px,#980000 110px,#c30000 120px,#ef0000 130px,#ff1500 140px,#ff3700 150px,#ff5700 160px,#ff7500 170px,#ff9200 180px,#ffad00 190px,#ffc800 200px,#ffe200 210px,#fffd00 220px,#e6ff19 230px,#caff35 240px,#aeff51 250px,#91ff6e 260px,#73ff8c 270px,#52ffad 280px,#38ffc7 290px,#24ffdb 300px,#13ffec 310px,#01fffe 320px,#00eeff 330px,#00dbff 340px,#00c9ff 350px,#00b7ff 360px,#00a5ff 370px,#0095ff 380px,#0087ff 390px,#007bff 400px,#0070ff 410px,#0066ff 420px,#005bff 430px,#004cff 440px,#003bff 450px,#002aff 460px,#001cff 470px,#0011ff 480px,#0008ff 490px,#0000fe 500px,#0000f4 510px,#0000e9 520px,#0000dd 530px,#0000d2 540px,#0000c7 550px,#0000bd 560px,#0000b3 570px,#0000aa 580px,#0000a0 590px,#000098 600px,#00008f 610px,#000087 620px,#000083 626px)"></i><i style="left:673px;width:4px;background:linear-gradient(#800000 0,#800000 100px,#990000 110px,#c40000 120px,#f00000 130px,#ff1600 140px,#ff3800 150px,#ff5700 160px,#ff7600 170px,#ff9300 180px,#ffaf00 190px,#ffca00 200px,#ffe400 210px,#ffff00 220px,#e4ff1b 230px,#c9ff36 240px,#adff52 250px,#90ff6f 260px,#71ff8e 270px,#50ffaf 280px,#37ffc8 290px,#23ffdc 300px,#11ffee 310px,#00ffff 320px,#00edff 330px,#00dbff 340px,#00c8ff 350px,#00b7ff 360px,#00a6ff 370px,#0096ff 380px,#0087ff 390px,#007bff 400px,#0071ff 410px,#0067ff 420px,#005cff 430px,#004dff 440px,#003cff 450px,#002bff 460px,#001dff 470px,#0012ff 480px,#0008ff 490px,#0000fe 500px,#0000f4 510px,#0000e9 520px,#0000dd 530px,#0000d2 540px,#0000c7 550px,#0000bd 560px,#0000b3 570px,#0000aa 580px,#0000a1 590px,#000098 600px,#00008f 610px,#000087 620px,#000083 626px)"></i><i style="left:677px;width:4px;background:linear-gradient(#800000 0,#800000 100px,#990000 110px,#c40000 120px,#f10000 130px,#ff1600 140px,#ff3800 150px,#ff5800 160px,#ff7700 170px,#ff9500 180px,#ffb000 190px,#ffcb00 200px,#ffe600 210px,#fdff02 220px,#e2ff1d 230px,#c7ff38 240px,#abff54 250px,#8fff70 260px,#70ff8f 270px,#4effb1 280px,#35ffca 290px,#21ffde 300px,#10ffef 310px,#00feff 320px,#00ecff 330px,#00daff 340px,#00c8ff 350px,#00b6ff 360px,#00a6ff 370px,#0096ff 380px,#0088ff 390px,#007cff 400px,#0072ff 410px,#0068ff 420px,#005cff 430px,#004eff 440px,#003dff 450px,#002cff 460px,#001dff 470px,#0012ff 480px,#0009ff 490px,#0000ff 500px,#0000f5 510px,#0000ea 520px,#0000de 530px,#0000d2 540px,#0000c7 550px,#0000bd 560px,#0000b3 570px,#0000aa 580px,#0000a1 590px,#000098 600px,#00008f 610px,#000088 620px,#000083 626px)"></i><i style="left:681px;width:4px;background:linear-gradient(#800000 0,#800000 100px,#9a0000 110px,#c50000 120px,#f10000 130px,#ff1700 140px,#ff3900 150px,#ff5900 160px,#ff7800 170px,#ff9600 180px,#ffb200 190px,#ffcd00 200px,#ffe800 210px,#fbff04 220px,#e0ff1f 230px,#c5ff3a 240px,#aaff55 250px,#8dff72 260px,#6eff91 270px,#4cffb3 280px,#33ffcc 290px,#20ffdf 300px,#0ffff0 310px,#00fdff 320px,#00ebff 330px,#00d9ff 340px,#00c8ff 350px,#00b6ff 360px,#00a6ff 370px,#0097ff 380px,#0089ff 390px,#007dff 400px,#0072ff 410px,#0068ff 420px,#005dff 430px,#004eff 440px,#003dff 450px,#002dff 460px,#001eff 470px,#0013ff 480px,#000aff 490px,#0000ff 500px,#0000f5 510px,#0000ea 520px,#0000de 530px,#0000d2 540px,#0000c7 550px,#0000bd 560px,#0000b4 570px,#0000aa 580px,#0000a1 590px,#000098 600px,#000090 610px,#000088 620px,#000083 626px)"></i><i style="left:685px;width:4px;background:linear-gradient(#800000 0,#800000 100px,#9b0000 110px,#c60000 120px,#f20000 130px,#ff1800 140px,#ff3a00 150px,#ff5a00 160px,#ff7900 170px,#ff9700 180px,#ffb300 190px,#ffcf00 200px,#ffea00 210px,#f9ff06 220px,#deff21 230px,#c3ff3c 240px,#a8ff57 250px,#8cff73 260px,#6cff93 270px,#4affb5 280px,#32ffcd 290px,#1fffe0 300px,#0efff1 310px,#00fcff 320px,#00ebff 330px,#00d9ff 340px,#00c8ff 350px,#00b7ff 360px,#00a6ff 370px,#0097ff 380px,#0089ff 390px,#007dff 400px,#0073ff 410px,#0069ff 420px,#005eff 430px,#004fff 440px,#003eff 450px,#002eff 460px,#001fff 470px,#0014ff 480px,#000aff 490px,#0001ff 500px,#0000f6 510px,#0000ea 520px,#0000de 530px,#0000d2 540px,#0000c8 550px,#0000be 560px,#0000b4 570px,#0000aa 580px,#0000a1 590px,#000098 600px,#000090 610px,#000088 620px,#000083 626px)"></i><i style="left:689px;width:4px;background:linear-gradient(#800000 0,#800000 100px,#9b0000 110px,#c70000 120px,#f30000 130px,#ff1900 140px,#ff3b00 150px,#ff5c00 160px,#ff7b00 170px,#ff9900 180px,#ffb500 190px,#ffd000 200px,#ffec00 210px,#f7ff08 220px,#dcff23 230px,#c2ff3d 240px,#a7ff58 250px,#8aff75 260px,#6aff95 270px,#48ffb7 280px,#31ffce 290px,#1effe1 300px,#0dfff2 310px,#00fbff 320px,#00eaff 330px,#00d9ff 340px,#00c7ff 350px,#00b7ff 360px,#00a7ff 370px,#0098ff 380px,#008aff 390px,#007eff 400px,#0074ff 410px,#006aff 420px,#005eff 430px,#0050ff 440px,#003fff 450px,#002fff 460px,#0020ff 470px,#0015ff 480px,#000bff 490px,#0002ff 500px,#0000f6 510px,#0000eb 520px,#0000df 530px,#0000d3 540px,#0000c8 550px,#0000be 560px,#0000b4 570px,#0000aa 580px,#0000a1 590px,#000098 600px,#000090 610px,#000088 620px,#000084 626px)"></i><i style="left:693px;width:4px;background:linear-gradient(#800000 0,#800000 100px,#9c0000 110px,#c80000 120px,#f40000 130px,#ff1a00 140px,#ff3c00 150px,#ff5d00 160px,#ff7c00 170px,#ff9a00 180px,#ffb600 190px,#ffd200 200px,#ffed00 210px,#f5ff0a 220px,#dbff24 230px,#c0ff3f 240px,#a5ff5a 250px,#89ff76 260px,#68ff97 270px,#47ffb8 280px,#2fffd0 290px,#1dffe2 300px,#0cfff3 310px,#00faff 320px,#00e9ff 330px,#00d8ff 340px,#00c7ff 350px,#00b7ff 360px,#00a7ff 370px,#0099ff 380px,#008bff 390px,#007fff 400px,#0075ff 410px,#006bff 420px,#005fff 430px,#0051ff 440px,#0040ff 450px,#0030ff 460px,#0021ff 470px,#0016ff 480px,#000cff 490px,#0002ff 500px,#0000f7 510px,#0000eb 520px,#0000df 530px,#0000d3 540px,#0000c8 550px,#0000be 560px,#0000b4 570px,#0000ab 580px,#0000a1 590px,#000099 600px,#000090 610px,#000088 620px,#000084 626px)"></i><i style="left:697px;width:4px;background:linear-gradient(#800000 0,#800000 100px,#9d0000 110px,#c90000 120px,#f50000 130px,#ff1b00 140px,#ff3d00 150px,#ff5e00 160px,#ff7d00 170px,#ff9b00 180px,#ffb800 190px,#ffd400 200px,#ffef00 210px,#f3ff0c 220px,#d9ff26 230px,#bfff40 240px,#a4ff5b 250px,#87ff78 260px,#66ff99 270px,#45ffba 280px,#2effd1 290px,#1cffe3 300px,#0bfff4 310px,#00faff 320px,#00e9ff 330px,#00d8ff 340px,#00c7ff 350px,#00b7ff 360px,#00a8ff 370px,#0099ff 380px,#008cff 390px,#0080ff 400px,#0076ff 410px,#006bff 420px,#0060ff 430px,#0052ff 440px,#0041ff 450px,#0031ff 460px,#0022ff 470px,#0017ff 480px,#000dff 490px,#0003ff 500px,#0000f7 510px,#0000eb 520px,#0000df 530px,#0000d3 540px,#0000c8 550px,#0000be 560px,#0000b4 570px,#0000ab 580px,#0000a2 590px,#000099 600px,#000090 610px,#000089 620px,#000084 626px)"></i><i style="left:701px;width:4px;background:linear-gradient(#800000 0,#800000 100px,#9d0000 110px,#ca0000 120px,#f60000 130px,#ff1c00 140px,#ff3e00 150px,#ff5f00 160px,#ff7e00 170px,#ff9d00 180px,#ffb900 190px,#ffd500 200px,#fff100 210px,#f1ff0e 220px,#d7ff28 230px,#bdff42 240px,#a2ff5d 250px,#86ff79 260px,#64ff9b 270px,#43ffbc 280px,#2dffd2 290px,#1bffe4 300px,#0afff5 310px,#00f9ff 320px,#00e8ff 330px,#00d7ff 340px,#00c7ff 350px,#00b7ff 360px,#00a8ff 370px,#009aff 380px,#008dff 390px,#0081ff 400px,#0076ff 410px,#006cff 420px,#0061ff 430px,#0053ff 440px,#0042ff 450px,#0032ff 460px,#0024ff 470px,#0018ff 480px,#000eff 490px,#0003ff 500px,#0000f8 510px,#0000ec 520px,#0000e0 530px,#0000d4 540px,#0000c9 550px,#0000be 560px,#0000b4 570px,#0000ab 580px,#0000a2 590px,#000099 600px,#000091 610px,#000089 620px,#000084 626px)"></i><i style="left:705px;width:4px;background:linear-gradient(#800000 0,#800000 100px,#9e0000 110px,#cb0000 120px,#f70000 130px,#ff1d00 140px,#ff3f00 150px,#ff6000 160px,#ff8000 170px,#ff9e00 180px,#ffbb00 190px,#ffd700 200px,#fff300 210px,#f0ff0f 220px,#d5ff2a 230px,#bbff44 240px,#a1ff5e 250px,#84ff7b 260px,#62ff9d 270px,#41ffbe 280px,#2bffd4 290px,#19ffe6 300px,#09fff6 310px,#00f8ff 320px,#00e7ff 330px,#00d7ff 340px,#00c7ff 350px,#00b7ff 360px,#00a9ff 370px,#009aff 380px,#008dff 390px,#0081ff 400px,#0077ff 410px,#006dff 420px,#0062ff 430px,#0053ff 440px,#0043ff 450px,#0033ff 460px,#0025ff 470px,#0019ff 480px,#000eff 490px,#0004ff 500px,#0000f8 510px,#0000ec 520px,#0000e0 530px,#0000d4 540px,#0000c9 550px,#0000bf 560px,#0000b5 570px,#0000ab 580px,#0000a2 590px,#000099 600px,#000091 610px,#000089 620px,#000085 626px)"></i><i style="left:709px;width:4px;background:linear-gradient(#800000 0,#800000 100px,#9f0000 110px,#cc0000 120px,#f80000 130px,#ff1e00 140px,#ff4000 150px,#ff6100 160px,#ff8100 170px,#ff9f00 180px,#ffbd00 190px,#ffd900 200px,#fff500 210px,#eeff11 220px,#d4ff2b 230px,#baff45 240px,#9fff60 250px,#82ff7d 260px,#60ff9f 270px,#40ffbf 280px,#2affd5 290px,#18ffe7 300px,#08fff7 310px,#00f7ff 320px,#00e7ff 330px,#00d6ff 340px,#00c7ff 350px,#00b8ff 360px,#00a9ff 370px,#009bff 380px,#008eff 390px,#0082ff 400px,#0078ff 410px,#006eff 420px,#0062ff 430px,#0054ff 440px,#0044ff 450px,#0034ff 460px,#0026ff 470px,#001aff 480px,#000fff 490px,#0005ff 500px,#0000f9 510px,#0000ed 520px,#0000e0 530px,#0000d4 540px,#0000c9 550px,#0000bf 560px,#0000b5 570px,#0000ab 580px,#0000a2 590px,#000099 600px,#000091 610px,#000089 620px,#000085 626px)"></i><i style="left:713px;width:4px;background:linear-gradient(#800000 0,#800000 100px,#a00000 110px,#cd0000 120px,#f90000 130px,#ff1f00 140px,#ff4100 150px,#ff6200 160px,#ff8200 170px,#ffa100 180px,#ffbe00 190px,#ffdb00 200px,#fff700 210px,#ecff13 220px,#d2ff2d 230px,#b8ff47 240px,#9eff61 250px,#81ff7e 260px,#5dffa2 270px,#3effc1 280px,#29ffd6 290px,#17ffe8 300px,#07fff8 310px,#00f6ff 320px,#00e6ff 330px,#00d6ff 340px,#00c7ff 350px,#00b8ff 360px,#00a9ff 370px,#009cff 380px,#008fff 390px,#0083ff 400px,#0079ff 410px,#006eff 420px,#0063ff 430px,#0055ff 440px,#0045ff 450px,#0035ff 460px,#0027ff 470px,#001bff 480px,#0010ff 490px,#0005ff 500px,#0000f9 510px,#0000ed 520px,#0000e1 530px,#0000d4 540px,#0000c9 550px,#0000bf 560px,#0000b5 570px,#0000ab 580px,#0000a2 590px,#000099 600px,#000091 610px,#00008a 620px,#000085 626px)"></i><i style="left:717px;width:4px;background:linear-gradient(#800000 0,#800000 100px,#a10000 110px,#ce0000 120px,#fa0000 130px,#ff2000 140px,#ff4300 150px,#ff6400 160px,#ff8400 170px,#ffa200 180px,#ffc000 190px,#ffdd00 200px,#fff900 210px,#eaff15 220px,#d0ff2f 230px,#b6ff49 240px,#9cff63 250px,#7fff80 260px,#5bffa4 270px,#3dffc2 280px,#28ffd7 290px,#16ffe9 300px,#07fff8 310px,#00f5ff 320px,#00e5ff 330px,#00d6ff 340px,#00c7ff 350px,#00b8ff 360px,#00aaff 370px,#009cff 380px,#0090ff 390px,#0084ff 400px,#007aff 410px,#006fff 420px,#0064ff 430px,#0056ff 440px,#0046ff 450px,#0036ff 460px,#0028ff 470px,#001cff 480px,#0011ff 490px,#0006ff 500px,#0000fa 510px,#0000ee 520px,#0000e1 530px,#0000d5 540px,#0000ca 550px,#0000bf 560px,#0000b5 570px,#0000ac 580px,#0000a2 590px,#00009a 600px,#000091 610px,#00008a 620px,#000086 626px)"></i><i style="left:721px;width:4px;background:linear-gradient(#800000 0,#800000 100px,#a20000 110px,#cf0000 120px,#fb0000 130px,#ff2100 140px,#ff4400 150px,#ff6500 160px,#ff8500 170px,#ffa400 180px,#ffc200 190px,#ffde00 200px,#fffb00 210px,#e8ff17 220px,#ceff31 230px,#b5ff4a 240px,#9aff65 250px,#7cff83 260px,#59ffa6 270px,#3bffc4 280px,#27ffd8 290px,#15ffea 300px,#06fff9 310px,#00f5ff 320px,#00e5ff 330px,#00d6ff 340px,#00c7ff 350px,#00b8ff 360px,#00aaff 370px,#009dff 380px,#0090ff 390px,#0085ff 400px,#007aff 410px,#0070ff 420px,#0065ff 430px,#0057ff 440px,#0047ff 450px,#0037ff 460px,#0029ff 470px,#001dff 480px,#0012ff 490px,#0007ff 500px,#0000fa 510px,#0000ee 520px,#0000e1 530px,#0000d5 540px,#0000ca 550px,#0000c0 560px,#0000b6 570px,#0000ac 580px,#0000a3 590px,#00009a 600px,#000092 610px,#00008a 620px,#000086 626px)"></i><i style="left:725px;width:4px;background:linear-gradient(#800000 0,#800000 100px,#a30000 110px,#d10000 120px,#fc0000 130px,#ff2200 140px,#ff4500 150px,#ff6700 160px,#ff8700 170px,#ffa600 180px,#ffc300 190px,#ffe000 200px,#fffd00 210px,#e6ff19 220px,#ccff33 230px,#b3ff4c 240px,#98ff67 250px,#7aff85 260px,#57ffa8 270px,#3affc5 280px,#26ffd9 290px,#15ffea 300px,#05fffa 310px,#00f4ff 320px,#00e4ff 330px,#00d5ff 340px,#00c7ff 350px,#00b9ff 360px,#00abff 370px,#009eff 380px,#0091ff 390px,#0086ff 400px,#007bff 410px,#0071ff 420px,#0065ff 430px,#0058ff 440px,#0048ff 450px,#0038ff 460px,#002aff 470px,#001eff 480px,#0012ff 490px,#0007ff 500px,#0000fb 510px,#0000ef 520px,#0000e2 530px,#0000d5 540px,#0000ca 550px,#0000c0 560px,#0000b6 570px,#0000ac 580px,#0000a3 590px,#00009a 600px,#000092 610px,#00008a 620px,#000086 626px)"></i><i style="left:729px;width:4px;background:linear-gradient(#800000 0,#800000 100px,#a40000 110px,#d20000 120px,#fe0000 130px,#ff2400 140px,#ff4700 150px,#ff6800 160px,#ff8800 170px,#ffa700 180px,#ffc500 190px,#ffe200 200px,#ffff00 210px,#e4ff1b 220px,#cbff34 230px,#b1ff4e 240px,#96ff69 250px,#78ff87 260px,#55ffaa 270px,#39ffc6 280px,#25ffda 290px,#14ffeb 300px,#04fffb 310px,#00f3ff 320px,#00e4ff 330px,#00d5ff 340px,#00c7ff 350px,#00b9ff 360px,#00abff 370px,#009eff 380px,#0092ff 390px,#0086ff 400px,#007cff 410px,#0072ff 420px,#0066ff 430px,#0059ff 440px,#0049ff 450px,#0039ff 460px,#002bff 470px,#001fff 480px,#0013ff 490px,#0008ff 500px,#0000fc 510px,#0000ef 520px,#0000e2 530px,#0000d6 540px,#0000cb 550px,#0000c0 560px,#0000b6 570px,#0000ac 580px,#0000a3 590px,#00009a 600px,#000092 610px,#00008b 620px,#000086 626px)"></i><i style="left:733px;width:4px;background:linear-gradient(#800000 0,#800000 100px,#a50000 110px,#d30000 120px,#ff0000 130px,#ff2500 140px,#ff4800 150px,#ff6900 160px,#ff8a00 170px,#ffa900 180px,#ffc700 190px,#ffe400 200px,#fdff02 210px,#e2ff1d 220px,#c9ff36 230px,#afff50 240px,#94ff6b 250px,#76ff89 260px,#53ffac 270px,#37ffc8 280px,#24ffdb 290px,#13ffec 300px,#03fffc 310px,#00f3ff 320px,#00e3ff 330px,#00d5ff 340px,#00c7ff 350px,#00b9ff 360px,#00acff 370px,#009fff 380px,#0093ff 390px,#0087ff 400px,#007dff 410px,#0073ff 420px,#0067ff 430px,#0059ff 440px,#004aff 450px,#003aff 460px,#002cff 470px,#0020ff 480px,#0014ff 490px,#0009ff 500px,#0000fc 510px,#0000f0 520px,#0000e3 530px,#0000d6 540px,#0000cb 550px,#0000c0 560px,#0000b6 570px,#0000ad 580px,#0000a3 590px,#00009b 600px,#000092 610px,#00008b 620px,#000087 626px)"></i><i style="left:737px;width:4px;background:linear-gradient(#800000 0,#800000 90px,#810000 100px,#a60000 110px,#d50000 120px,#ff0100 130px,#ff2600 140px,#ff4900 150px,#ff6b00 160px,#ff8b00 170px,#ffab00 180px,#ffc900 190px,#ffe600 200px,#fbff04 210px,#e1ff1e 220px,#c7ff38 230px,#adff52 240px,#92ff6d 250px,#74ff8b 260px,#51ffae 270px,#36ffc9 280px,#22ffdd 290px,#12ffed 300px,#02fffd 310px,#00f2ff 320px,#00e3ff 330px,#00d5ff 340px,#00c7ff 350px,#00b9ff 360px,#00acff 370px,#00a0ff 380px,#0094ff 390px,#0088ff 400px,#007eff 410px,#0073ff 420px,#0068ff 430px,#005aff 440px,#004bff 450px,#003bff 460px,#002dff 470px,#0021ff 480px,#0015ff 490px,#000aff 500px,#0000fd 510px,#0000f0 520px,#0000e3 530px,#0000d6 540px,#0000cb 550px,#0000c1 560px,#0000b7 570px,#0000ad 580px,#0000a4 590px,#00009b 600px,#000093 610px,#00008b 620px,#000087 626px)"></i><i style="left:741px;width:4px;background:linear-gradient(#800000 0,#800000 90px,#810000 100px,#a70000 110px,#d60000 120px,#ff0200 130px,#ff2800 140px,#ff4b00 150px,#ff6c00 160px,#ff8d00 170px,#ffac00 180px,#ffcb00 190px,#ffe800 200px,#faff05 210px,#dfff20 220px,#c5ff3a 230px,#acff53 240px,#91ff6e 250px,#72ff8d 260px,#4fffb0 270px,#35ffca 280px,#21ffde 290px,#11ffee 300px,#02fffd 310px,#00f1ff 320px,#00e3ff 330px,#00d4ff 340px,#00c7ff 350px,#00baff 360px,#00adff 370px,#00a0ff 380px,#0094ff 390px,#0089ff 400px,#007fff 410px,#0074ff 420px,#0069ff 430px,#005bff 440px,#004cff 450px,#003cff 460px,#002eff 470px,#0022ff 480px,#0016ff 490px,#000aff 500px,#0000fd 510px,#0000f1 520px,#0000e3 530px,#0000d7 540px,#0000cb 550px,#0000c1 560px,#0000b7 570px,#0000ad 580px,#0000a4 590px,#00009b 600px,#000093 610px,#00008b 620px,#000087 626px)"></i><i style="left:745px;width:4px;background:linear-gradient(#800000 0,#800000 90px,#820000 100px,#a80000 110px,#d70000 120px,#ff0400 130px,#ff2900 140px,#ff4c00 150px,#ff6e00 160px,#ff8e00 170px,#ffae00 180px,#ffcc00 190px,#ffea00 200px,#f8ff07 210px,#ddff22 220px,#c4ff3b 230px,#aaff55 240px,#8fff70 250px,#70ff8f 260px,#4dffb2 270px,#34ffcb 280px,#20ffdf 290px,#10ffef 300px,#01fffe 310px,#00f1ff 320px,#00e2ff 330px,#00d4ff 340px,#00c7ff 350px,#00baff 360px,#00adff 370px,#00a1ff 380px,#0095ff 390px,#008aff 400px,#007fff 410px,#0075ff 420px,#0069ff 430px,#005cff 440px,#004dff 450px,#003dff 460px,#002fff 470px,#0022ff 480px,#0017ff 490px,#000bff 500px,#0000fe 510px,#0000f1 520px,#0000e4 530px,#0000d7 540px,#0000cc 550px,#0000c1 560px,#0000b7 570px,#0000ad 580px,#0000a4 590px,#00009b 600px,#000093 610px,#00008c 620px,#000088 626px)"></i><i style="left:749px;width:4px;background:linear-gradient(#800000 0,#800000 90px,#830000 100px,#a90000 110px,#d90000 120px,#ff0500 130px,#ff2a00 140px,#ff4e00 150px,#ff6f00 160px,#ff9000 170px,#ffb000 180px,#ffce00 190px,#ffec00 200px,#f6ff09 210px,#dbff24 220px,#c2ff3d 230px,#a9ff56 240px,#8dff72 250px,#6eff91 260px,#4bffb4 270px,#33ffcc 280px,#20ffdf 290px,#0ffff0 300px,#00ffff 310px,#00f0ff 320px,#00e2ff 330px,#00d4ff 340px,#00c7ff 350px,#00baff 360px,#00aeff 370px,#00a2ff 380px,#0096ff 390px,#008aff 400px,#0080ff 410px,#0076ff 420px,#006aff 430px,#005dff 440px,#004dff 450px,#003eff 460px,#0030ff 470px,#0023ff 480px,#0017ff 490px,#000cff 500px,#0000ff 510px,#0000f2 520px,#0000e4 530px,#0000d7 540px,#0000cc 550px,#0000c2 560px,#0000b7 570px,#0000ae 580px,#0000a4 590px,#00009c 600px,#000093 610px,#00008c 620px,#000088 626px)"></i><i style="left:753px;width:4px;background:linear-gradient(#800000 0,#800000 90px,#830000 100px,#aa0000 110px,#da0000 120px,#ff0600 130px,#ff2c00 140px,#ff4f00 150px,#ff7100 160px,#ff9200 170px,#ffb100 180px,#ffd000 190px,#ffed00 200px,#f4ff0b 210px,#daff25 220px,#c1ff3e 230px,#a7ff58 240px,#8cff73 250px,#6cff93 260px,#4affb5 270px,#32ffcd 280px,#1fffe0 290px,#0efff1 300px,#00feff 310px,#00efff 320px,#00e1ff 330px,#00d4ff 340px,#00c7ff 350px,#00baff 360px,#00aeff 370px,#00a2ff 380px,#0096ff 390px,#008bff 400px,#0081ff 410px,#0076ff 420px,#006bff 430px,#005dff 440px,#004eff 450px,#003fff 460px,#0031ff 470px,#0024ff 480px,#0018ff 490px,#000cff 500px,#0000ff 510px,#0000f2 520px,#0000e5 530px,#0000d8 540px,#0000cc 550px,#0000c2 560px,#0000b8 570px,#0000ae 580px,#0000a5 590px,#00009c 600px,#000094 610px,#00008c 620px,#000088 626px)"></i><i style="left:757px;width:4px;background:linear-gradient(#800000 0,#800000 90px,#840000 100px,#ab0000 110px,#dc0000 120px,#ff0800 130px,#ff2d00 140px,#ff5100 150px,#ff7300 160px,#ff9300 170px,#ffb300 180px,#ffd200 190px,#ffef00 200px,#f3ff0c 210px,#d8ff27 220px,#bfff40 230px,#a6ff59 240px,#8aff75 250px,#6aff95 260px,#48ffb7 270px,#31ffce 280px,#1effe1 290px,#0efff1 300px,#00feff 310px,#00efff 320px,#00e1ff 330px,#00d4ff 340px,#00c7ff 350px,#00baff 360px,#00aeff 370px,#00a3ff 380px,#0097ff 390px,#008cff 400px,#0081ff 410px,#0077ff 420px,#006bff 430px,#005eff 440px,#004fff 450px,#0040ff 460px,#0031ff 470px,#0025ff 480px,#0019ff 490px,#000dff 500px,#0001ff 510px,#0000f3 520px,#0000e5 530px,#0000d8 540px,#0000cd 550px,#0000c2 560px,#0000b8 570px,#0000ae 580px,#0000a5 590px,#00009c 600px,#000094 610px,#00008d 620px,#000089 626px)"></i><i style="left:761px;width:4px;background:linear-gradient(#800000 0,#800000 90px,#840000 100px,#ac0000 110px,#dd0000 120px,#ff0900 130px,#ff2f00 140px,#ff5200 150px,#ff7400 160px,#ff9500 170px,#ffb500 180px,#ffd300 190px,#fff100 200px,#f1ff0e 210px,#d7ff28 220px,#beff41 230px,#a4ff5b 240px,#89ff76 250px,#68ff97 260px,#47ffb8 270px,#2fffd0 280px,#1dffe2 290px,#0dfff2 300px,#00fdff 310px,#00eeff 320px,#00e1ff 330px,#00d3ff 340px,#00c7ff 350px,#00bbff 360px,#00afff 370px,#00a3ff 380px,#0098ff 390px,#008cff 400px,#0082ff 410px,#0078ff 420px,#006cff 430px,#005fff 440px,#0050ff 450px,#0040ff 460px,#0032ff 470px,#0025ff 480px,#0019ff 490px,#000eff 500px,#0001ff 510px,#0000f3 520px,#0000e6 530px,#0000d9 540px,#0000cd 550px,#0000c2 560px,#0000b8 570px,#0000ae 580px,#0000a5 590px,#00009c 600px,#000094 610px,#00008d 620px,#000089 626px)"></i><i style="left:765px;width:4px;background:linear-gradient(#800000 0,#800000 90px,#850000 100px,#ae0000 110px,#de0000 120px,#ff0a00 130px,#ff3000 140px,#ff5400 150px,#ff7600 160px,#ff9700 170px,#ffb700 180px,#ffd500 190px,#fff300 200px,#efff10 210px,#d5ff2a 220px,#bcff43 230px,#a3ff5c 240px,#87ff78 250px,#67ff98 260px,#45ffba 270px,#2effd1 280px,#1cffe3 290px,#0cfff3 300px,#00fcff 310px,#00eeff 320px,#00e0ff 330px,#00d3ff 340px,#00c7ff 350px,#00bbff 360px,#00afff 370px,#00a4ff 380px,#0098ff 390px,#008dff 400px,#0083ff 410px,#0078ff 420px,#006dff 430px,#005fff 440px,#0050ff 450px,#0041ff 460px,#0033ff 470px,#0026ff 480px,#001aff 490px,#000eff 500px,#0002ff 510px,#0000f4 520px,#0000e6 530px,#0000d9 540px,#0000cd 550px,#0000c3 560px,#0000b8 570px,#0000af 580px,#0000a5 590px,#00009d 600px,#000094 610px,#00008d 620px,#000089 626px)"></i><i style="left:769px;width:4px;background:linear-gradient(#800000 0,#800000 90px,#860000 100px,#af0000 110px,#e00000 120px,#ff0c00 130px,#ff3100 140px,#ff5500 150px,#ff7700 160px,#ff9800 170px,#ffb800 180px,#ffd700 190px,#fff500 200px,#edff12 210px,#d4ff2b 220px,#bbff44 230px,#a1ff5e 240px,#86ff79 250px,#65ff9a 260px,#44ffbb 270px,#2dffd2 280px,#1bffe4 290px,#0bfff4 300px,#00fbff 310px,#00edff 320px,#00e0ff 330px,#00d3ff 340px,#00c7ff 350px,#00bbff 360px,#00b0ff 370px,#00a4ff 380px,#0099ff 390px,#008eff 400px,#0083ff 410px,#0079ff 420px,#006dff 430px,#0060ff 440px,#0051ff 450px,#0042ff 460px,#0034ff 470px,#0027ff 480px,#001bff 490px,#000fff 500px,#0002ff 510px,#0000f4 520px,#0000e6 530px,#0000d9 540px,#0000ce 550px,#0000c3 560px,#0000b9 570px,#0000af 580px,#0000a6 590px,#00009d 600px,#000095 610px,#00008d 620px,#000089 626px)"></i><i style="left:773px;width:4px;background:linear-gradient(#800000 0,#800000 90px,#860000 100px,#b00000 110px,#e10000 120px,#ff0d00 130px,#ff3300 140px,#ff5700 150px,#ff7900 160px,#ff9a00 170px,#ffba00 180px,#ffd900 190px,#fff600 200px,#ecff13 210px,#d2ff2d 220px,#b9ff46 230px,#a0ff5f 240px,#84ff7b 250px,#63ff9c 260px,#42ffbd 270px,#2cffd3 280px,#1affe5 290px,#0afff5 300px,#00fbff 310px,#00edff 320px,#00dfff 330px,#00d3ff 340px,#00c7ff 350px,#00bbff 360px,#00b0ff 370px,#00a5ff 380px,#009aff 390px,#008eff 400px,#0084ff 410px,#0079ff 420px,#006eff 430px,#0061ff 440px,#0052ff 450px,#0043ff 460px,#0035ff 470px,#0028ff 480px,#001cff 490px,#000fff 500px,#0003ff 510px,#0000f5 520px,#0000e7 530px,#0000da 540px,#0000ce 550px,#0000c3 560px,#0000b9 570px,#0000af 580px,#0000a6 590px,#00009d 600px,#000095 610px,#00008e 620px,#00008a 626px)"></i><i style="left:777px;width:4px;background:linear-gradient(#800000 0,#800000 90px,#870000 100px,#b10000 110px,#e30000 120px,#ff0e00 130px,#ff3400 140px,#ff5800 150px,#ff7b00 160px,#ff9c00 170px,#ffbc00 180px,#ffdb00 190px,#fff800 200px,#eaff15 210px,#d1ff2e 220px,#b8ff47 230px,#9eff61 240px,#83ff7c 250px,#61ff9e 260px,#41ffbe 270px,#2bffd4 280px,#19ffe6 290px,#0afff5 300px,#00faff 310px,#00ecff 320px,#00dfff 330px,#00d3ff 340px,#00c7ff 350px,#00bcff 360px,#00b0ff 370px,#00a5ff 380px,#009aff 390px,#008fff 400px,#0085ff 410px,#007aff 420px,#006fff 430px,#0061ff 440px,#0053ff 450px,#0043ff 460px,#0035ff 470px,#0028ff 480px,#001cff 490px,#0010ff 500px,#0004ff 510px,#0000f5 520px,#0000e7 530px,#0000da 540px,#0000cf 550px,#0000c4 560px,#0000b9 570px,#0000b0 580px,#0000a6 590px,#00009d 600px,#000095 610px,#00008e 620px,#00008a 626px)"></i><i style="left:781px;width:4px;background:linear-gradient(#800000 0,#800000 90px,#880000 100px,#b30000 110px,#e40000 120px,#ff1000 130px,#ff3600 140px,#ff5a00 150px,#ff7c00 160px,#ff9e00 170px,#ffbe00 180px,#ffdc00 190px,#fffa00 200px,#e9ff16 210px,#cfff30 220px,#b7ff48 230px,#9dff62 240px,#81ff7e 250px,#5fffa0 260px,#40ffbf 270px,#2affd5 280px,#18ffe7 290px,#09fff6 300px,#00f9ff 310px,#00ecff 320px,#00dfff 330px,#00d3ff 340px,#00c7ff 350px,#00bcff 360px,#00b1ff 370px,#00a6ff 380px,#009bff 390px,#0090ff 400px,#0085ff 410px,#007bff 420px,#006fff 430px,#0062ff 440px,#0053ff 450px,#0044ff 460px,#0036ff 470px,#0029ff 480px,#001dff 490px,#0011ff 500px,#0004ff 510px,#0000f6 520px,#0000e8 530px,#0000db 540px,#0000cf 550px,#0000c4 560px,#0000ba 570px,#0000b0 580px,#0000a7 590px,#00009e 600px,#000096 610px,#00008e 620px,#00008a 626px)"></i><i style="left:785px;width:4px;background:linear-gradient(#800000 0,#800000 90px,#890000 100px,#b40000 110px,#e60000 120px,#ff1100 130px,#ff3800 140px,#ff5c00 150px,#ff7e00 160px,#ff9f00 170px,#ffbf00 180px,#ffde00 190px,#fffb00 200px,#e7ff18 210px,#ceff31 220px,#b5ff4a 230px,#9cff63 240px,#80ff7f 250px,#5effa1 260px,#3fffc0 270px,#29ffd6 280px,#18ffe7 290px,#08fff7 300px,#00f9ff 310px,#00ebff 320px,#00deff 330px,#00d2ff 340px,#00c7ff 350px,#00bcff 360px,#00b1ff 370px,#00a6ff 380px,#009bff 390px,#0090ff 400px,#0086ff 410px,#007bff 420px,#0070ff 430px,#0062ff 440px,#0054ff 450px,#0045ff 460px,#0037ff 470px,#002aff 480px,#001dff 490px,#0011ff 500px,#0005ff 510px,#0000f6 520px,#0000e8 530px,#0000db 540px,#0000d0 550px,#0000c5 560px,#0000ba 570px,#0000b0 580px,#0000a7 590px,#00009e 600px,#000096 610px,#00008f 620px,#00008b 626px)"></i><i style="left:789px;width:4px;background:linear-gradient(#800000 0,#800000 90px,#8a0000 100px,#b50000 110px,#e70000 120px,#ff1300 130px,#ff3900 140px,#ff5d00 150px,#ff8000 160px,#ffa100 170px,#ffc100 180px,#ffe000 190px,#fffd00 200px,#e6ff19 210px,#cdff32 220px,#b4ff4b 230px,#9bff64 240px,#7eff81 250px,#5cffa3 260px,#3dffc2 270px,#28ffd7 280px,#17ffe8 290px,#07fff8 300px,#00f8ff 310px,#00ebff 320px,#00deff 330px,#00d2ff 340px,#00c7ff 350px,#00bcff 360px,#00b1ff 370px,#00a7ff 380px,#009cff 390px,#0091ff 400px,#0086ff 410px,#007cff 420px,#0070ff 430px,#0063ff 440px,#0054ff 450px,#0045ff 460px,#0037ff 470px,#002aff 480px,#001eff 490px,#0012ff 500px,#0005ff 510px,#0000f7 520px,#0000e9 530px,#0000dc 540px,#0000d0 550px,#0000c5 560px,#0000bb 570px,#0000b1 580px,#0000a7 590px,#00009e 600px,#000096 610px,#00008f 620px,#00008b 626px)"></i><i style="left:793px;width:4px;background:linear-gradient(#800000 0,#800000 90px,#8a0000 100px,#b70000 110px,#e90000 120px,#ff1400 130px,#ff3b00 140px,#ff5f00 150px,#ff8200 160px,#ffa300 170px,#ffc300 180px,#ffe200 190px,#ffff00 200px,#e4ff1b 210px,#ccff33 220px,#b3ff4c 230px,#99ff66 240px,#7dff82 250px,#5affa5 260px,#3cffc3 270px,#27ffd8 280px,#16ffe9 290px,#07fff8 300px,#00f7ff 310px,#00eaff 320px,#00deff 330px,#00d2ff 340px,#00c7ff 350px,#00bcff 360px,#00b2ff 370px,#00a7ff 380px,#009cff 390px,#0091ff 400px,#0087ff 410px,#007cff 420px,#0071ff 430px,#0063ff 440px,#0055ff 450px,#0046ff 460px,#0038ff 470px,#002bff 480px,#001fff 490px,#0013ff 500px,#0006ff 510px,#0000f7 520px,#0000ea 530px,#0000dc 540px,#0000d0 550px,#0000c6 560px,#0000bb 570px,#0000b1 580px,#0000a8 590px,#00009f 600px,#000097 610px,#00008f 620px,#00008b 626px)"></i><i style="left:797px;width:4px;background:linear-gradient(#800000 0,#800000 90px,#8b0000 100px,#b80000 110px,#ea0000 120px,#ff1600 130px,#ff3c00 140px,#ff6100 150px,#ff8400 160px,#ffa500 170px,#ffc500 180px,#ffe300 190px,#feff01 200px,#e3ff1c 210px,#caff35 220px,#b2ff4d 230px,#98ff67 240px,#7cff83 250px,#58ffa7 260px,#3bffc4 270px,#26ffd9 280px,#15ffea 290px,#06fff9 300px,#00f7ff 310px,#00eaff 320px,#00deff 330px,#00d2ff 340px,#00c7ff 350px,#00bdff 360px,#00b2ff 370px,#00a8ff 380px,#009dff 390px,#0092ff 400px,#0087ff 410px,#007dff 420px,#0071ff 430px,#0064ff 440px,#0055ff 450px,#0046ff 460px,#0038ff 470px,#002bff 480px,#001fff 490px,#0013ff 500px,#0007ff 510px,#0000f8 520px,#0000ea 530px,#0000dd 540px,#0000d1 550px,#0000c6 560px,#0000bc 570px,#0000b2 580px,#0000a8 590px,#00009f 600px,#000097 610px,#000090 620px,#00008c 626px)"></i><i style="left:801px;width:4px;background:linear-gradient(#800000 0,#800000 90px,#8c0000 100px,#b90000 110px,#ec0000 120px,#ff1700 130px,#ff3e00 140px,#ff6300 150px,#ff8500 160px,#ffa700 170px,#ffc700 180px,#ffe500 190px,#fcff03 200px,#e2ff1d 210px,#c9ff36 220px,#b1ff4e 230px,#97ff68 240px,#7aff85 250px,#57ffa8 260px,#3affc5 270px,#25ffda 280px,#14ffeb 290px,#05fffa 300px,#00f6ff 310px,#00e9ff 320px,#00ddff 330px,#00d2ff 340px,#00c7ff 350px,#00bdff 360px,#00b2ff 370px,#00a8ff 380px,#009dff 390px,#0092ff 400px,#0088ff 410px,#007dff 420px,#0072ff 430px,#0065ff 440px,#0056ff 450px,#0047ff 460px,#0039ff 470px,#002cff 480px,#0020ff 490px,#0014ff 500px,#0007ff 510px,#0000f9 520px,#0000eb 530px,#0000dd 540px,#0000d1 550px,#0000c7 560px,#0000bc 570px,#0000b2 580px,#0000a8 590px,#0000a0 600px,#000097 610px,#000090 620px,#00008c 626px)"></i><i style="left:805px;width:4px;background:linear-gradient(#800000 0,#800000 90px,#8d0000 100px,#bb0000 110px,#ed0000 120px,#ff1900 130px,#ff4000 140px,#ff6400 150px,#ff8700 160px,#ffa900 170px,#ffc800 180px,#ffe700 190px,#faff05 200px,#e0ff1f 210px,#c8ff37 220px,#afff50 230px,#96ff69 240px,#79ff86 250px,#55ffaa 260px,#39ffc6 270px,#24ffdb 280px,#13ffec 290px,#04fffb 300px,#00f5ff 310px,#00e9ff 320px,#00ddff 330px,#00d2ff 340px,#00c7ff 350px,#00bdff 360px,#00b3ff 370px,#00a8ff 380px,#009eff 390px,#0093ff 400px,#0088ff 410px,#007eff 420px,#0072ff 430px,#0065ff 440px,#0056ff 450px,#0048ff 460px,#003aff 470px,#002dff 480px,#0021ff 490px,#0014ff 500px,#0008ff 510px,#0000f9 520px,#0000eb 530px,#0000de 540px,#0000d2 550px,#0000c7 560px,#0000bc 570px,#0000b2 580px,#0000a9 590px,#0000a0 600px,#000098 610px,#000090 620px,#00008c 626px)"></i><i style="left:809px;width:4px;background:linear-gradient(#800000 0,#800000 90px,#8e0000 100px,#bc0000 110px,#ef0000 120px,#ff1a00 130px,#ff4100 140px,#ff6600 150px,#ff8900 160px,#ffaa00 170px,#ffca00 180px,#ffe800 190px,#f9ff06 200px,#dfff20 210px,#c7ff38 220px,#afff50 230px,#95ff6a 240px,#78ff87 250px,#54ffab 260px,#38ffc7 270px,#23ffdc 280px,#13ffec 290px,#04fffb 300px,#00f5ff 310px,#00e8ff 320px,#00ddff 330px,#00d2ff 340px,#00c7ff 350px,#00bdff 360px,#00b3ff 370px,#00a9ff 380px,#009eff 390px,#0093ff 400px,#0089ff 410px,#007eff 420px,#0073ff 430px,#0066ff 440px,#0057ff 450px,#0048ff 460px,#003aff 470px,#002dff 480px,#0021ff 490px,#0015ff 500px,#0009ff 510px,#0000fa 520px,#0000ec 530px,#0000df 540px,#0000d3 550px,#0000c8 560px,#0000bd 570px,#0000b3 580px,#0000a9 590px,#0000a0 600px,#000098 610px,#000091 620px,#00008d 626px)"></i><i style="left:813px;width:4px;background:linear-gradient(#800000 0,#800000 90px,#8f0000 100px,#bd0000 110px,#f00000 120px,#ff1b00 130px,#ff4300 140px,#ff6800 150px,#ff8b00 160px,#ffac00 170px,#ffcb00 180px,#ffea00 190px,#f8ff07 200px,#deff21 210px,#c6ff39 220px,#aeff51 230px,#94ff6b 240px,#77ff88 250px,#52ffad 260px,#37ffc8 270px,#23ffdc 280px,#12ffed 290px,#03fffc 300px,#00f4ff 310px,#00e8ff 320px,#00dcff 330px,#00d2ff 340px,#00c7ff 350px,#00bdff 360px,#00b3ff 370px,#00a9ff 380px,#009fff 390px,#0094ff 400px,#008aff 410px,#007fff 420px,#0073ff 430px,#0066ff 440px,#0058ff 450px,#0049ff 460px,#003bff 470px,#002eff 480px,#0022ff 490px,#0016ff 500px,#0009ff 510px,#0000fb 520px,#0000ed 530px,#0000df 540px,#0000d3 550px,#0000c8 560px,#0000be 570px,#0000b4 580px,#0000aa 590px,#0000a1 600px,#000099 610px,#000091 620px,#00008d 626px)"></i><i style="left:817px;width:4px;background:linear-gradient(#800000 0,#800000 90px,#8f0000 100px,#bf0000 110px,#f10000 120px,#ff1d00 130px,#ff4400 140px,#ff6900 150px,#ff8c00 160px,#ffad00 170px,#ffcd00 180px,#ffeb00 190px,#f7ff08 200px,#ddff22 210px,#c5ff3a 220px,#adff52 230px,#93ff6c 240px,#75ff8a 250px,#51ffae 260px,#36ffc9 270px,#22ffdd 280px,#11ffee 290px,#02fffd 300px,#00f4ff 310px,#00e8ff 320px,#00dcff 330px,#00d2ff 340px,#00c7ff 350px,#00beff 360px,#00b4ff 370px,#00aaff 380px,#009fff 390px,#0095ff 400px,#008aff 410px,#007fff 420px,#0074ff 430px,#0067ff 440px,#0058ff 450px,#0049ff 460px,#003bff 470px,#002eff 480px,#0022ff 490px,#0016ff 500px,#000aff 510px,#0000fb 520px,#0000ed 530px,#0000e0 540px,#0000d4 550px,#0000c9 560px,#0000be 570px,#0000b4 580px,#0000ab 590px,#0000a2 600px,#000099 610px,#000091 620px,#00008d 626px)"></i><i style="left:821px;width:4px;background:linear-gradient(#800000 0,#800000 90px,#900000 100px,#c00000 110px,#f30000 120px,#ff1e00 130px,#ff4600 140px,#ff6b00 150px,#ff8e00 160px,#ffaf00 170px,#ffce00 180px,#ffec00 190px,#f5ff0a 200px,#dcff23 210px,#c4ff3b 220px,#acff53 230px,#92ff6d 240px,#74ff8b 250px,#50ffaf 260px,#35ffca 270px,#21ffde 280px,#10ffef 290px,#02fffd 300px,#00f3ff 310px,#00e7ff 320px,#00dcff 330px,#00d2ff 340px,#00c8ff 350px,#00beff 360px,#00b4ff 370px,#00aaff 380px,#00a0ff 390px,#0095ff 400px,#008bff 410px,#0080ff 420px,#0074ff 430px,#0067ff 440px,#0059ff 450px,#004aff 460px,#003cff 470px,#002fff 480px,#0023ff 490px,#0017ff 500px,#000bff 510px,#0000fc 520px,#0000ee 530px,#0000e1 540px,#0000d5 550px,#0000ca 560px,#0000bf 570px,#0000b5 580px,#0000ab 590px,#0000a2 600px,#00009a 610px,#000092 620px,#00008e 626px)"></i><i style="left:825px;width:4px;background:linear-gradient(#800000 0,#800000 90px,#910000 100px,#c10000 110px,#f40000 120px,#ff2000 130px,#ff4700 140px,#ff6d00 150px,#ff9000 160px,#ffb100 170px,#ffd000 180px,#ffee00 190px,#f4ff0b 200px,#dbff24 210px,#c3ff3c 220px,#abff54 230px,#91ff6e 240px,#73ff8c 250px,#4effb1 260px,#34ffcb 270px,#20ffdf 280px,#10ffef 290px,#01fffe 300px,#00f3ff 310px,#00e7ff 320px,#00dcff 330px,#00d1ff 340px,#00c8ff 350px,#00beff 360px,#00b4ff 370px,#00abff 380px,#00a0ff 390px,#0096ff 400px,#008bff 410px,#0080ff 420px,#0075ff 430px,#0068ff 440px,#0059ff 450px,#004aff 460px,#003cff 470px,#0030ff 480px,#0024ff 490px,#0018ff 500px,#000bff 510px,#0000fd 520px,#0000ef 530px,#0000e1 540px,#0000d6 550px,#0000cb 560px,#0000c0 570px,#0000b6 580px,#0000ac 590px,#0000a3 600px,#00009a 610px,#000092 620px,#00008e 626px)"></i><i style="left:829px;width:4px;background:linear-gradient(#800000 0,#800000 90px,#920000 100px,#c20000 110px,#f60000 120px,#ff2100 130px,#ff4900 140px,#ff6e00 150px,#ff9100 160px,#ffb200 170px,#ffd100 180px,#ffef00 190px,#f3ff0c 200px,#daff25 210px,#c2ff3d 220px,#aaff55 230px,#91ff6e 240px,#72ff8d 250px,#4dffb2 260px,#33ffcc 270px,#1fffe0 280px,#0ffff0 290px,#00ffff 300px,#00f2ff 310px,#00e6ff 320px,#00dcff 330px,#00d1ff 340px,#00c8ff 350px,#00beff 360px,#00b5ff 370px,#00abff 380px,#00a1ff 390px,#0096ff 400px,#008cff 410px,#0081ff 420px,#0075ff 430px,#0068ff 440px,#005aff 450px,#004bff 460px,#003dff 470px,#0030ff 480px,#0024ff 490px,#0018ff 500px,#000cff 510px,#0000fe 520px,#0000f0 530px,#0000e2 540px,#0000d6 550px,#0000cb 560px,#0000c0 570px,#0000b6 580px,#0000ac 590px,#0000a3 600px,#00009b 610px,#000093 620px,#00008e 626px)"></i><i style="left:833px;width:4px;background:linear-gradient(#800000 0,#800000 90px,#930000 100px,#c40000 110px,#f70000 120px,#ff2200 130px,#ff4a00 140px,#ff7000 150px,#ff9300 160px,#ffb400 170px,#ffd300 180px,#fff000 190px,#f2ff0d 200px,#d9ff26 210px,#c1ff3e 220px,#aaff55 230px,#90ff6f 240px,#71ff8e 250px,#4cffb3 260px,#32ffcd 270px,#1effe1 280px,#0efff1 290px,#00ffff 300px,#00f2ff 310px,#00e6ff 320px,#00dbff 330px,#00d1ff 340px,#00c8ff 350px,#00beff 360px,#00b5ff 370px,#00abff 380px,#00a1ff 390px,#0097ff 400px,#008cff 410px,#0081ff 420px,#0076ff 430px,#0069ff 440px,#005aff 450px,#004bff 460px,#003dff 470px,#0031ff 480px,#0025ff 490px,#0019ff 500px,#000dff 510px,#0000fe 520px,#0000f0 530px,#0000e3 540px,#0000d7 550px,#0000cc 560px,#0000c1 570px,#0000b7 580px,#0000ad 590px,#0000a4 600px,#00009b 610px,#000093 620px,#00008f 626px)"></i><i style="left:837px;width:4px;background:linear-gradient(#800000 0,#800000 90px,#930000 100px,#c50000 110px,#f80000 120px,#ff2400 130px,#ff4c00 140px,#ff7100 150px,#ff9400 160px,#ffb500 170px,#ffd400 180px,#fff200 190px,#f1ff0e 200px,#d8ff27 210px,#c1ff3e 220px,#a9ff56 230px,#8fff70 240px,#70ff8f 250px,#4affb5 260px,#31ffce 270px,#1effe1 280px,#0dfff2 290px,#00feff 300px,#00f1ff 310px,#00e6ff 320px,#00dbff 330px,#00d1ff 340px,#00c8ff 350px,#00bfff 360px,#00b5ff 370px,#00acff 380px,#00a2ff 390px,#0097ff 400px,#008dff 410px,#0082ff 420px,#0076ff 430px,#0069ff 440px,#005bff 450px,#004cff 460px,#003eff 470px,#0031ff 480px,#0026ff 490px,#001aff 500px,#000dff 510px,#0000ff 520px,#0000f1 530px,#0000e4 540px,#0000d8 550px,#0000cd 560px,#0000c2 570px,#0000b7 580px,#0000ae 590px,#0000a4 600px,#00009c 610px,#000093 620px,#00008f 626px)"></i><i style="left:841px;width:4px;background:linear-gradient(#800000 0,#800000 90px,#930000 100px,#c50000 110px,#f90000 120px,#ff2400 130px,#ff4d00 140px,#ff7200 150px,#ff9500 160px,#ffb600 170px,#ffd500 180px,#fff200 190px,#f0ff0f 200px,#d8ff27 210px,#c0ff3f 220px,#a9ff56 230px,#8fff70 240px,#6fff90 250px,#4affb5 260px,#31ffce 270px,#1dffe2 280px,#0dfff2 290px,#00feff 300px,#00f1ff 310px,#00e5ff 320px,#00dbff 330px,#00d1ff 340px,#00c8ff 350px,#00bfff 360px,#00b6ff 370px,#00acff 380px,#00a2ff 390px,#0098ff 400px,#008dff 410px,#0082ff 420px,#0077ff 430px,#006aff 440px,#005bff 450px,#004cff 460px,#003eff 470px,#0032ff 480px,#0026ff 490px,#001aff 500px,#000eff 510px,#0001ff 520px,#0000f2 530px,#0000e5 540px,#0000d9 550px,#0000ce 560px,#0000c3 570px,#0000b8 580px,#0000ae 590px,#0000a5 600px,#00009c 610px,#000094 620px,#00008f 626px)"></i><i style="left:845px;width:4px;background:linear-gradient(#800000 0,#800000 90px,#940000 100px,#c60000 110px,#f90000 120px,#ff2500 130px,#ff4d00 140px,#ff7300 150px,#ff9600 160px,#ffb600 170px,#ffd500 180px,#fff200 190px,#f0ff0f 200px,#d8ff27 210px,#c0ff3f 220px,#a9ff56 230px,#8fff70 240px,#6fff90 250px,#4affb5 260px,#30ffcf 270px,#1dffe2 280px,#0cfff3 290px,#00fdff 300px,#00f1ff 310px,#00e5ff 320px,#00dbff 330px,#00d1ff 340px,#00c8ff 350px,#00bfff 360px,#00b6ff 370px,#00adff 380px,#00a3ff 390px,#0098ff 400px,#008eff 410px,#0083ff 420px,#0077ff 430px,#006aff 440px,#005cff 450px,#004dff 460px,#003fff 470px,#0033ff 480px,#0027ff 490px,#001bff 500px,#000fff 510px,#0002ff 520px,#0000f3 530px,#0000e6 540px,#0000da 550px,#0000ce 560px,#0000c4 570px,#0000b9 580px,#0000af 590px,#0000a6 600px,#00009d 610px,#000094 620px,#000090 626px)"></i><i style="left:849px;width:4px;background:linear-gradient(#800000 0,#800000 90px,#940000 100px,#c60000 110px,#fa0000 120px,#ff2500 130px,#ff4e00 140px,#ff7400 150px,#ff9600 160px,#ffb700 170px,#ffd600 180px,#fff300 190px,#f0ff0f 200px,#d7ff28 210px,#c0ff3f 220px,#a9ff56 230px,#8fff70 240px,#6fff90 250px,#49ffb6 260px,#30ffcf 270px,#1cffe3 280px,#0cfff3 290px,#00fdff 300px,#00f0ff 310px,#00e5ff 320px,#00dbff 330px,#00d1ff 340px,#00c8ff 350px,#00bfff 360px,#00b6ff 370px,#00adff 380px,#00a3ff 390px,#0099ff 400px,#008eff 410px,#0083ff 420px,#0078ff 430px,#006bff 440px,#005cff 450px,#004dff 460px,#0040ff 470px,#0033ff 480px,#0027ff 490px,#001cff 500px,#0010ff 510px,#0003ff 520px,#0000f4 530px,#0000e7 540px,#0000db 550px,#0000cf 560px,#0000c4 570px,#0000ba 580px,#0000b0 590px,#0000a6 600px,#00009d 610px,#000095 620px,#000090 626px)"></i><i style="left:853px;width:4px;background:linear-gradient(#800000 0,#800000 90px,#940000 100px,#c60000 110px,#fa0000 120px,#ff2600 130px,#ff4f00 140px,#ff7400 150px,#ff9700 160px,#ffb800 170px,#ffd600 180px,#fff300 190px,#efff10 200px,#d7ff28 210px,#c0ff3f 220px,#a8ff57 230px,#8eff71 240px,#6fff90 250px,#49ffb6 260px,#30ffcf 270px,#1cffe3 280px,#0bfff4 290px,#00fcff 300px,#00f0ff 310px,#00e5ff 320px,#00dbff 330px,#00d1ff 340px,#00c8ff 350px,#00bfff 360px,#00b7ff 370px,#00adff 380px,#00a4ff 390px,#0099ff 400px,#008fff 410px,#0084ff 420px,#0078ff 430px,#006bff 440px,#005dff 450px,#004eff 460px,#0040ff 470px,#0034ff 480px,#0028ff 490px,#001dff 500px,#0011ff 510px,#0003ff 520px,#0000f5 530px,#0000e7 540px,#0000db 550px,#0000d0 560px,#0000c5 570px,#0000bb 580px,#0000b1 590px,#0000a7 600px,#00009e 610px,#000095 620px,#000091 626px)"></i><i style="left:857px;width:4px;background:linear-gradient(#800000 0,#800000 90px,#940000 100px,#c70000 110px,#fb0000 120px,#ff2700 130px,#ff4f00 140px,#ff7500 150px,#ff9800 160px,#ffb800 170px,#ffd700 180px,#fff400 190px,#efff10 200px,#d7ff28 210px,#c0ff3f 220px,#a8ff57 230px,#8eff71 240px,#6fff90 250px,#48ffb7 260px,#2fffd0 270px,#1bffe4 280px,#0bfff4 290px,#00fcff 300px,#00efff 310px,#00e4ff 320px,#00daff 330px,#00d1ff 340px,#00c8ff 350px,#00c0ff 360px,#00b7ff 370px,#00aeff 380px,#00a4ff 390px,#009aff 400px,#008fff 410px,#0084ff 420px,#0079ff 430px,#006cff 440px,#005dff 450px,#004eff 460px,#0041ff 470px,#0034ff 480px,#0029ff 490px,#001dff 500px,#0011ff 510px,#0004ff 520px,#0000f6 530px,#0000e8 540px,#0000dc 550px,#0000d1 560px,#0000c6 570px,#0000bc 580px,#0000b1 590px,#0000a8 600px,#00009e 610px,#000096 620px,#000091 626px)"></i><i style="left:861px;width:4px;background:linear-gradient(#800000 0,#800000 90px,#940000 100px,#c70000 110px,#fb0000 120px,#ff2700 130px,#ff5000 140px,#ff7600 150px,#ff9900 160px,#ffb900 170px,#ffd700 180px,#fff400 190px,#efff10 200px,#d7ff28 210px,#c0ff3f 220px,#a8ff57 230px,#8eff71 240px,#6eff91 250px,#48ffb7 260px,#2fffd0 270px,#1bffe4 280px,#0afff5 290px,#00fbff 300px,#00efff 310px,#00e4ff 320px,#00daff 330px,#00d1ff 340px,#00c8ff 350px,#00c0ff 360px,#00b7ff 370px,#00aeff 380px,#00a5ff 390px,#009aff 400px,#0090ff 410px,#0085ff 420px,#0079ff 430px,#006cff 440px,#005dff 450px,#004fff 460px,#0041ff 470px,#0035ff 480px,#0029ff 490px,#001eff 500px,#0012ff 510px,#0005ff 520px,#0000f7 530px,#0000e9 540px,#0000dd 550px,#0000d2 560px,#0000c7 570px,#0000bc 580px,#0000b2 590px,#0000a8 600px,#00009f 610px,#000096 620px,#000091 626px)"></i><i style="left:865px;width:4px;background:linear-gradient(#800000 0,#800000 90px,#950000 100px,#c80000 110px,#fc0000 120px,#ff2800 130px,#ff5100 140px,#ff7700 150px,#ff9900 160px,#ffba00 170px,#ffd800 180px,#fff500 190px,#eeff11 200px,#d6ff29 210px,#c0ff3f 220px,#a8ff57 230px,#8eff71 240px,#6eff91 250px,#48ffb7 260px,#2effd1 270px,#1affe5 280px,#0afff5 290px,#00fbff 300px,#00efff 310px,#00e4ff 320px,#00daff 330px,#00d1ff 340px,#00c9ff 350px,#00c0ff 360px,#00b8ff 370px,#00afff 380px,#00a5ff 390px,#009bff 400px,#0090ff 410px,#0085ff 420px,#007aff 430px,#006dff 440px,#005eff 450px,#004fff 460px,#0042ff 470px,#0035ff 480px,#002aff 490px,#001fff 500px,#0013ff 510px,#0006ff 520px,#0000f7 530px,#0000ea 540px,#0000de 550px,#0000d3 560px,#0000c8 570px,#0000bd 580px,#0000b3 590px,#0000a9 600px,#0000a0 610px,#000097 620px,#000092 626px)"></i><i style="left:869px;width:4px;background:linear-gradient(#800000 0,#800000 90px,#950000 100px,#c80000 110px,#fc0000 120px,#ff2800 130px,#ff5100 140px,#ff7700 150px,#ff9a00 160px,#ffba00 170px,#ffd800 180px,#fff500 190px,#eeff11 200px,#d6ff29 210px,#bfff40 220px,#a8ff57 230px,#8eff71 240px,#6eff91 250px,#47ffb8 260px,#2effd1 270px,#1affe5 280px,#09fff6 290px,#00faff 300px,#00eeff 310px,#00e4ff 320px,#00daff 330px,#00d1ff 340px,#00c9ff 350px,#00c0ff 360px,#00b8ff 370px,#00afff 380px,#00a5ff 390px,#009bff 400px,#0091ff 410px,#0086ff 420px,#007aff 430px,#006dff 440px,#005eff 450px,#0050ff 460px,#0042ff 470px,#0036ff 480px,#002bff 490px,#001fff 500px,#0014ff 510px,#0007ff 520px,#0000f8 530px,#0000eb 540px,#0000df 550px,#0000d4 560px,#0000c9 570px,#0000be 580px,#0000b4 590px,#0000aa 600px,#0000a0 610px,#000097 620px,#000092 626px)"></i><i style="left:873px;width:4px;background:linear-gradient(#800000 0,#800000 90px,#950000 100px,#c80000 110px,#fc0000 120px,#ff2900 130px,#ff5200 140px,#ff7800 150px,#ff9a00 160px,#ffba00 170px,#ffd800 180px,#fff500 190px,#eeff11 200px,#d6ff29 210px,#c0ff3f 220px,#a8ff57 230px,#8eff71 240px,#6eff91 250px,#47ffb8 260px,#2effd1 270px,#19ffe6 280px,#09fff6 290px,#00faff 300px,#00eeff 310px,#00e3ff 320px,#00daff 330px,#00d1ff 340px,#00c9ff 350px,#00c1ff 360px,#00b8ff 370px,#00afff 380px,#00a6ff 390px,#009cff 400px,#0091ff 410px,#0086ff 420px,#007bff 430px,#006dff 440px,#005fff 450px,#0050ff 460px,#0042ff 470px,#0036ff 480px,#002bff 490px,#0020ff 500px,#0015ff 510px,#0008ff 520px,#0000f9 530px,#0000ec 540px,#0000e0 550px,#0000d5 560px,#0000ca 570px,#0000bf 580px,#0000b5 590px,#0000ab 600px,#0000a1 610px,#000098 620px,#000093 626px)"></i><i style="left:877px;width:4px;background:linear-gradient(#800000 0,#800000 90px,#950000 100px,#c80000 110px,#fd0000 120px,#ff2900 130px,#ff5200 140px,#ff7800 150px,#ff9b00 160px,#ffbb00 170px,#ffd900 180px,#fff500 190px,#eeff11 200px,#d6ff29 210px,#c0ff3f 220px,#a8ff57 230px,#8eff71 240px,#6eff91 250px,#47ffb8 260px,#2effd1 270px,#19ffe6 280px,#08fff7 290px,#00faff 300px,#00eeff 310px,#00e3ff 320px,#00daff 330px,#00d1ff 340px,#00c9ff 350px,#00c1ff 360px,#00b9ff 370px,#00b0ff 380px,#00a6ff 390px,#009cff 400px,#0092ff 410px,#0087ff 420px,#007bff 430px,#006eff 440px,#005fff 450px,#0051ff 460px,#0043ff 470px,#0037ff 480px,#002cff 490px,#0021ff 500px,#0015ff 510px,#0009ff 520px,#0000fa 530px,#0000ed 540px,#0000e1 550px,#0000d6 560px,#0000cb 570px,#0000c0 580px,#0000b5 590px,#0000ab 600px,#0000a2 610px,#000098 620px,#000093 626px)"></i><i style="left:881px;width:4px;background:linear-gradient(#800000 0,#800000 90px,#950000 100px,#c90000 110px,#fd0000 120px,#ff2a00 130px,#ff5300 140px,#ff7900 150px,#ff9b00 160px,#ffbb00 170px,#ffd900 180px,#fff500 190px,#eeff11 200px,#d6ff29 210px,#c0ff3f 220px,#a8ff57 230px,#8eff71 240px,#6eff91 250px,#47ffb8 260px,#2dffd2 270px,#19ffe6 280px,#08fff7 290px,#00f9ff 300px,#00edff 310px,#00e3ff 320px,#00daff 330px,#00d1ff 340px,#00c9ff 350px,#00c1ff 360px,#00b9ff 370px,#00b0ff 380px,#00a7ff 390px,#009dff 400px,#0092ff 410px,#0087ff 420px,#007bff 430px,#006eff 440px,#0060ff 450px,#0051ff 460px,#0043ff 470px,#0038ff 480px,#002dff 490px,#0022ff 500px,#0016ff 510px,#000aff 520px,#0000fb 530px,#0000ee 540px,#0000e2 550px,#0000d7 560px,#0000cc 570px,#0000c1 580px,#0000b6 590px,#0000ac 600px,#0000a2 610px,#000099 620px,#000094 626px)"></i><i style="left:885px;width:4px;background:linear-gradient(#800000 0,#800000 90px,#950000 100px,#c90000 110px,#fd0000 120px,#ff2a00 130px,#ff5300 140px,#ff7900 150px,#ff9b00 160px,#ffbb00 170px,#ffd900 180px,#fff600 190px,#eeff11 200px,#d6ff29 210px,#c0ff3f 220px,#a8ff57 230px,#8eff71 240px,#6eff91 250px,#47ffb8 260px,#2dffd2 270px,#18ffe7 280px,#07fff8 290px,#00f9ff 300px,#00edff 310px,#00e3ff 320px,#00daff 330px,#00d1ff 340px,#00c9ff 350px,#00c1ff 360px,#00b9ff 370px,#00b1ff 380px,#00a7ff 390px,#009dff 400px,#0093ff 410px,#0088ff 420px,#007cff 430px,#006fff 440px,#0060ff 450px,#0051ff 460px,#0044ff 470px,#0038ff 480px,#002dff 490px,#0023ff 500px,#0017ff 510px,#000bff 520px,#0000fc 530px,#0000ef 540px,#0000e3 550px,#0000d8 560px,#0000cd 570px,#0000c2 580px,#0000b7 590px,#0000ad 600px,#0000a3 610px,#000099 620px,#000094 626px)"></i><i style="left:889px;width:4px;background:linear-gradient(#800000 0,#800000 90px,#950000 100px,#c90000 110px,#fe0000 120px,#ff2a00 130px,#ff5400 140px,#ff7a00 150px,#ff9c00 160px,#ffbc00 170px,#ffda00 180px,#fff600 190px,#eeff11 200px,#d6ff29 210px,#c0ff3f 220px,#a8ff57 230px,#8fff70 240px,#6eff91 250px,#47ffb8 260px,#2dffd2 270px,#18ffe7 280px,#07fff8 290px,#00f8ff 300px,#00edff 310px,#00e3ff 320px,#00d9ff 330px,#00d1ff 340px,#00c9ff 350px,#00c1ff 360px,#00b9ff 370px,#00b1ff 380px,#00a8ff 390px,#009eff 400px,#0093ff 410px,#0088ff 420px,#007cff 430px,#006fff 440px,#0061ff 450px,#0052ff 460px,#0044ff 470px,#0039ff 480px,#002eff 490px,#0023ff 500px,#0018ff 510px,#000bff 520px,#0000fd 530px,#0000f1 540px,#0000e5 550px,#0000d9 560px,#0000ce 570px,#0000c3 580px,#0000b8 590px,#0000ae 600px,#0000a4 610px,#00009a 620px,#000094 626px)"></i><i style="left:893px;width:4px;background:linear-gradient(#800000 0,#800000 90px,#950000 100px,#c90000 110px,#fe0000 120px,#ff2b00 130px,#ff5400 140px,#ff7a00 150px,#ff9c00 160px,#ffbc00 170px,#ffda00 180px,#fff600 190px,#edff12 200px,#d6ff29 210px,#c0ff3f 220px,#a9ff56 230px,#8fff70 240px,#6eff91 250px,#47ffb8 260px,#2cffd3 270px,#17ffe8 280px,#06fff9 290px,#00f8ff 300px,#00ecff 310px,#00e2ff 320px,#00d9ff 330px,#00d1ff 340px,#00c9ff 350px,#00c2ff 360px,#00baff 370px,#00b1ff 380px,#00a8ff 390px,#009eff 400px,#0094ff 410px,#0089ff 420px,#007dff 430px,#0070ff 440px,#0061ff 450px,#0052ff 460px,#0045ff 470px,#0039ff 480px,#002fff 490px,#0024ff 500px,#0019ff 510px,#000cff 520px,#0000fe 530px,#0000f2 540px,#0000e6 550px,#0000da 560px,#0000cf 570px,#0000c4 580px,#0000b9 590px,#0000ae 600px,#0000a4 610px,#00009b 620px,#000095 626px)"></i><i style="left:897px;width:4px;background:linear-gradient(#800000 0,#800000 90px,#950000 100px,#ca0000 110px,#fe0000 120px,#ff2b00 130px,#ff5500 140px,#ff7a00 150px,#ff9d00 160px,#ffbc00 170px,#ffda00 180px,#fff600 190px,#edff12 200px,#d6ff29 210px,#c0ff3f 220px,#a9ff56 230px,#8fff70 240px,#6eff91 250px,#46ffb9 260px,#2cffd3 270px,#17ffe8 280px,#06fff9 290px,#00f8ff 300px,#00ecff 310px,#00e2ff 320px,#00d9ff 330px,#00d1ff 340px,#00c9ff 350px,#00c2ff 360px,#00baff 370px,#00b2ff 380px,#00a9ff 390px,#009eff 400px,#0094ff 410px,#0089ff 420px,#007dff 430px,#0070ff 440px,#0061ff 450px,#0053ff 460px,#0045ff 470px,#003aff 480px,#002fff 490px,#0025ff 500px,#001aff 510px,#000dff 520px,#0000ff 530px,#0000f3 540px,#0000e7 550px,#0000db 560px,#0000d0 570px,#0000c5 580px,#0000ba 590px,#0000af 600px,#0000a5 610px,#00009b 620px,#000095 626px)"></i><i style="left:901px;width:4px;background:linear-gradient(#800000 0,#800000 90px,#950000 100px,#ca0000 110px,#fe0000 120px,#ff2b00 130px,#ff5500 140px,#ff7b00 150px,#ff9d00 160px,#ffbd00 170px,#ffda00 180px,#fff600 190px,#edff12 200px,#d6ff29 210px,#c0ff3f 220px,#a9ff56 230px,#8fff70 240px,#6eff91 250px,#46ffb9 260px,#2cffd3 270px,#16ffe9 280px,#05fffa 290px,#00f7ff 300px,#00ecff 310px,#00e2ff 320px,#00d9ff 330px,#00d1ff 340px,#00caff 350px,#00c2ff 360px,#00baff 370px,#00b2ff 380px,#00a9ff 390px,#009fff 400px,#0095ff 410px,#0089ff 420px,#007eff 430px,#0070ff 440px,#0062ff 450px,#0053ff 460px,#0046ff 470px,#003aff 480px,#0030ff 490px,#0026ff 500px,#001bff 510px,#000eff 520px,#0002ff 530px,#0000f4 540px,#0000e8 550px,#0000dc 560px,#0000d1 570px,#0000c6 580px,#0000bb 590px,#0000b0 600px,#0000a6 610px,#00009c 620px,#000096 626px)"></i><i style="left:905px;width:4px;background:linear-gradient(#800000 0,#800000 90px,#950000 100px,#ca0000 110px,#fe0000 120px,#ff2b00 130px,#ff5500 140px,#ff7b00 150px,#ff9d00 160px,#ffbd00 170px,#ffda00 180px,#fff600 190px,#edff12 200px,#d6ff29 210px,#c0ff3f 220px,#a9ff56 230px,#8fff70 240px,#6fff90 250px,#46ffb9 260px,#2cffd3 270px,#16ffe9 280px,#05fffa 290px,#00f7ff 300px,#00ecff 310px,#00e2ff 320px,#00d9ff 330px,#00d1ff 340px,#00caff 350px,#00c2ff 360px,#00bbff 370px,#00b3ff 380px,#00a9ff 390px,#009fff 400px,#0095ff 410px,#008aff 420px,#007eff 430px,#0071ff 440px,#0062ff 450px,#0053ff 460px,#0046ff 470px,#003bff 480px,#0030ff 490px,#0026ff 500px,#001bff 510px,#000fff 520px,#0003ff 530px,#0000f5 540px,#0000e9 550px,#0000dd 560px,#0000d2 570px,#0000c7 580px,#0000bc 590px,#0000b1 600px,#0000a6 610px,#00009c 620px,#000096 626px)"></i><i style="left:909px;width:4px;background:linear-gradient(#800000 0,#800000 90px,#950000 100px,#ca0000 110px,#fe0000 120px,#ff2c00 130px,#ff5500 140px,#ff7b00 150px,#ff9d00 160px,#ffbd00 170px,#ffda00 180px,#fff600 190px,#edff12 200px,#d6ff29 210px,#c0ff3f 220px,#a9ff56 230px,#90ff6f 240px,#6fff90 250px,#46ffb9 260px,#2bffd4 270px,#16ffe9 280px,#05fffa 290px,#00f7ff 300px,#00ebff 310px,#00e2ff 320px,#00d9ff 330px,#00d1ff 340px,#00caff 350px,#00c3ff 360px,#00bbff 370px,#00b3ff 380px,#00aaff 390px,#00a0ff 400px,#0095ff 410px,#008aff 420px,#007fff 430px,#0071ff 440px,#0062ff 450px,#0054ff 460px,#0046ff 470px,#003bff 480px,#0031ff 490px,#0027ff 500px,#001cff 510px,#0010ff 520px,#0004ff 530px,#0000f6 540px,#0000ea 550px,#0000de 560px,#0000d3 570px,#0000c8 580px,#0000bd 590px,#0000b2 600px,#0000a7 610px,#00009d 620px,#000097 626px)"></i><i style="left:913px;width:4px;background:linear-gradient(#800000 0,#800000 90px,#950000 100px,#ca0000 110px,#ff0000 120px,#ff2c00 130px,#ff5500 140px,#ff7b00 150px,#ff9d00 160px,#ffbd00 170px,#ffdb00 180px,#fff700 190px,#edff12 200px,#d6ff29 210px,#c0ff3f 220px,#aaff55 230px,#90ff6f 240px,#6fff90 250px,#46ffb9 260px,#2bffd4 270px,#15ffea 280px,#04fffb 290px,#00f6ff 300px,#00ebff 310px,#00e2ff 320px,#00d9ff 330px,#00d1ff 340px,#00caff 350px,#00c3ff 360px,#00bbff 370px,#00b3ff 380px,#00aaff 390px,#00a0ff 400px,#0096ff 410px,#008bff 420px,#007fff 430px,#0072ff 440px,#0063ff 450px,#0054ff 460px,#0047ff 470px,#003cff 480px,#0032ff 490px,#0028ff 500px,#001dff 510px,#0011ff 520px,#0005ff 530px,#0000f7 540px,#0000eb 550px,#0000e0 560px,#0000d4 570px,#0000c9 580px,#0000be 590px,#0000b3 600px,#0000a8 610px,#00009d 620px,#000097 626px)"></i><i style="left:917px;width:4px;background:linear-gradient(#800000 0,#800000 90px,#950000 100px,#ca0000 110px,#ff0000 120px,#ff2c00 130px,#ff5500 140px,#ff7b00 150px,#ff9e00 160px,#ffbd00 170px,#ffdb00 180px,#fff700 190px,#edff12 200px,#d6ff29 210px,#c1ff3e 220px,#aaff55 230px,#90ff6f 240px,#70ff8f 250px,#46ffb9 260px,#2bffd4 270px,#15ffea 280px,#04fffb 290px,#00f6ff 300px,#00ebff 310px,#00e2ff 320px,#00d9ff 330px,#00d1ff 340px,#00caff 350px,#00c3ff 360px,#00bcff 370px,#00b4ff 380px,#00abff 390px,#00a1ff 400px,#0096ff 410px,#008bff 420px,#007fff 430px,#0072ff 440px,#0063ff 450px,#0054ff 460px,#0047ff 470px,#003cff 480px,#0032ff 490px,#0029ff 500px,#001eff 510px,#0012ff 520px,#0006ff 530px,#0000f8 540px,#0000ec 550px,#0000e1 560px,#0000d5 570px,#0000ca 580px,#0000bf 590px,#0000b4 600px,#0000a9 610px,#00009e 620px,#000098 626px)"></i><i style="left:921px;width:4px;background:linear-gradient(#800000 0,#800000 90px,#950000 100px,#ca0000 110px,#ff0000 120px,#ff2c00 130px,#ff5600 140px,#ff7c00 150px,#ff9e00 160px,#ffbd00 170px,#ffdb00 180px,#fff700 190px,#edff12 200px,#d6ff29 210px,#c1ff3e 220px,#aaff55 230px,#91ff6e 240px,#70ff8f 250px,#46ffb9 260px,#2bffd4 270px,#15ffea 280px,#04fffb 290px,#00f6ff 300px,#00ebff 310px,#00e1ff 320px,#00d9ff 330px,#00d2ff 340px,#00caff 350px,#00c3ff 360px,#00bcff 370px,#00b4ff 380px,#00abff 390px,#00a1ff 400px,#0097ff 410px,#008cff 420px,#0080ff 430px,#0073ff 440px,#0064ff 450px,#0055ff 460px,#0047ff 470px,#003dff 480px,#0033ff 490px,#0029ff 500px,#001fff 510px,#0013ff 520px,#0007ff 530px,#0000fa 540px,#0000ee 550px,#0000e2 560px,#0000d6 570px,#0000cb 580px,#0000c0 590px,#0000b4 600px,#0000a9 610px,#00009f 620px,#000098 626px)"></i><i style="left:925px;width:4px;background:linear-gradient(#800000 0,#800000 90px,#950000 100px,#ca0000 110px,#ff0000 120px,#ff2c00 130px,#ff5600 140px,#ff7c00 150px,#ff9e00 160px,#ffbd00 170px,#ffdb00 180px,#fff700 190px,#edff12 200px,#d6ff29 210px,#c1ff3e 220px,#aaff55 230px,#91ff6e 240px,#70ff8f 250px,#46ffb9 260px,#2bffd4 270px,#14ffeb 280px,#03fffc 290px,#00f5ff 300px,#00ebff 310px,#00e1ff 320px,#00d9ff 330px,#00d2ff 340px,#00cbff 350px,#00c4ff 360px,#00bcff 370px,#00b4ff 380px,#00abff 390px,#00a2ff 400px,#0097ff 410px,#008cff 420px,#0080ff 430px,#0073ff 440px,#0064ff 450px,#0055ff 460px,#0048ff 470px,#003dff 480px,#0034ff 490px,#002aff 500px,#0020ff 510px,#0014ff 520px,#0008ff 530px,#0000fb 540px,#0000ef 550px,#0000e3 560px,#0000d7 570px,#0000cc 580px,#0000c1 590px,#0000b5 600px,#0000aa 610px,#00009f 620px,#000099 626px)"></i><i style="left:929px;width:2px;background:linear-gradient(#800000 0,#800000 90px,#950000 100px,#ca0000 110px,#ff0000 120px,#ff2c00 130px,#ff5600 140px,#ff7c00 150px,#ff9e00 160px,#ffbd00 170px,#ffdb00 180px,#fff700 190px,#edff12 200px,#d7ff28 210px,#c1ff3e 220px,#abff54 230px,#91ff6e 240px,#71ff8e 250px,#46ffb9 260px,#2affd5 270px,#14ffeb 280px,#03fffc 290px,#00f5ff 300px,#00eaff 310px,#00e1ff 320px,#00d9ff 330px,#00d2ff 340px,#00cbff 350px,#00c4ff 360px,#00bdff 370px,#00b5ff 380px,#00acff 390px,#00a2ff 400px,#0098ff 410px,#008cff 420px,#0081ff 430px,#0073ff 440px,#0064ff 450px,#0055ff 460px,#0048ff 470px,#003eff 480px,#0034ff 490px,#002bff 500px,#0021ff 510px,#0015ff 520px,#0009ff 530px,#0000fc 540px,#0000f0 550px,#0000e4 560px,#0000d8 570px,#0000cd 580px,#0000c1 590px,#0000b6 600px,#0000ab 610px,#0000a0 620px,#000099 626px)"></i></div>
<div id="cb"></div>
<svg width="1201" height="901" viewBox="0 0 1201 901">
<defs><clipPath id="cl"><rect x="156" y="68" width="932" height="627"/></clipPath></defs>
<line x1="165" x2="1087" y1="99.5" y2="99.5" class="g"/>
<path d="M157 99.5h9 M1087 99.5h-9" class="t"/>
<line x1="165" x2="1087" y1="130.5" y2="130.5" class="g"/>
<path d="M157 130.5h9 M1087 130.5h-9" class="t"/>
<line x1="165" x2="1087" y1="161.5" y2="161.5" class="g"/>
<path d="M157 161.5h9 M1087 161.5h-9" class="t"/>
<line x1="165" x2="1087" y1="193.5" y2="193.5" class="g"/>
<path d="M157 193.5h9 M1087 193.5h-9" class="t"/>
<line x1="165" x2="1087" y1="224.5" y2="224.5" class="g"/>
<path d="M157 224.5h9 M1087 224.5h-9" class="t"/>
<line x1="165" x2="1087" y1="255.5" y2="255.5" class="g"/>
<path d="M157 255.5h9 M1087 255.5h-9" class="t"/>
<line x1="165" x2="1087" y1="318.5" y2="318.5" class="g"/>
<path d="M157 318.5h9 M1087 318.5h-9" class="t"/>
<line x1="165" x2="1087" y1="381.5" y2="381.5" class="g"/>
<path d="M157 381.5h9 M1087 381.5h-9" class="t"/>
<line x1="165" x2="1087" y1="459.5" y2="459.5" class="g"/>
<path d="M157 459.5h9 M1087 459.5h-9" class="t"/>
<line x1="165" x2="1087" y1="537.5" y2="537.5" class="g"/>
<path d="M157 537.5h9 M1087 537.5h-9" class="t"/>
<line x1="165" x2="1087" y1="615.5" y2="615.5" class="g"/>
<path d="M157 615.5h9 M1087 615.5h-9" class="t"/>
<line y1="695" y2="68" x1="233.5" x2="233.5" class="gv"/>
<path d="M233.5 694v-10 M233.5 69v9" class="t"/>
<line y1="695" y2="68" x1="311.5" x2="311.5" class="gv"/>
<path d="M311.5 694v-10 M311.5 69v9" class="t"/>
<line y1="695" y2="68" x1="388.5" x2="388.5" class="gv"/>
<path d="M388.5 694v-10 M388.5 69v9" class="t"/>
<line y1="695" y2="68" x1="466.5" x2="466.5" class="gv"/>
<path d="M466.5 694v-10 M466.5 69v9" class="t"/>
<line y1="695" y2="68" x1="543.5" x2="543.5" class="gv"/>
<path d="M543.5 694v-10 M543.5 69v9" class="t"/>
<line y1="695" y2="68" x1="621.5" x2="621.5" class="gv"/>
<path d="M621.5 694v-10 M621.5 69v9" class="t"/>
<line y1="695" y2="68" x1="699.5" x2="699.5" class="gv"/>
<path d="M699.5 694v-10 M699.5 69v9" class="t"/>
<line y1="695" y2="68" x1="776.5" x2="776.5" class="gv"/>
<path d="M776.5 694v-10 M776.5 69v9" class="t"/>
<line y1="695" y2="68" x1="854.5" x2="854.5" class="gv"/>
<path d="M854.5 694v-10 M854.5 69v9" class="t"/>
<line y1="695" y2="68" x1="931.5" x2="931.5" class="gv"/>
<path d="M931.5 694v-10 M931.5 69v9" class="t"/>
<line y1="695" y2="68" x1="1009.5" x2="1009.5" class="gv"/>
<path d="M1009.5 694v-10 M1009.5 69v9" class="t"/>
<polyline points="156.0,147.6 187.0,139.2 218.0,138.0 249.0,138.0 280.0,142.0 311.0,145.8 342.0,145.8 373.0,146.5 404.0,150.0 435.0,155.0 466.0,160.2 497.0,153.7 528.0,148.5 559.0,140.0 590.0,135.0 621.0,132.5 652.0,132.0 683.0,131.0 714.0,132.5 745.0,133.5 776.0,133.2 807.0,133.0 838.0,133.0 869.0,132.3 900.0,130.0 931.0,128.3 962.0,126.2 993.0,126.8 1024.0,128.0 1055.0,130.2 1087.0,133.0" fill="none" stroke="#000" stroke-width="4.8" stroke-linejoin="round" clip-path="url(#cl)"/>
<polyline points="156.0,347.9 187.0,346.6 218.0,345.0 249.0,342.2 280.0,342.2 311.0,342.2 342.0,345.3 373.0,345.8 404.0,339.6 435.0,340.6 466.0,345.4 497.0,348.4 528.0,351.0 559.0,347.9 590.0,351.0 621.0,354.0 652.0,353.6 683.0,352.3 714.0,350.5 745.0,345.8 776.0,340.6 807.0,335.7 838.0,331.6 869.0,327.0 900.0,322.8 931.0,319.4 962.0,317.6 993.0,314.2 1024.0,313.0 1055.0,314.2 1087.0,314.2" fill="none" stroke="#fff" stroke-width="4.8" stroke-linejoin="round" clip-path="url(#cl)"/>
<rect x="156.5" y="68.5" width="931" height="626" fill="none" stroke="#000" stroke-width="1" shape-rendering="crispEdges"/>
<path d="M311.5 771v9 M311.5 812v-9" class="t"/>
<path d="M466.5 771v9 M466.5 812v-9" class="t"/>
<path d="M621.5 771v9 M621.5 812v-9" class="t"/>
<path d="M776.5 771v9 M776.5 812v-9" class="t"/>
<path d="M931.5 771v9 M931.5 812v-9" class="t"/>
<text transform="translate(150,110.4) scale(1,1.05)" text-anchor="end" class="b">10</text>
<text transform="translate(150,141.4) scale(1,1.05)" text-anchor="end" class="b">20</text>
<text transform="translate(150,172.4) scale(1,1.05)" text-anchor="end" class="b">30</text>
<text transform="translate(150,204.4) scale(1,1.05)" text-anchor="end" class="b">40</text>
<text transform="translate(150,235.4) scale(1,1.05)" text-anchor="end" class="b">50</text>
<text transform="translate(150,266.4) scale(1,1.05)" text-anchor="end" class="b">60</text>
<text transform="translate(150,329.4) scale(1,1.05)" text-anchor="end" class="b">80</text>
<text transform="translate(150,392.4) scale(1,1.05)" text-anchor="end" class="b">100</text>
<text transform="translate(150,470.4) scale(1,1.05)" text-anchor="end" class="b">125</text>
<text transform="translate(150,548.4) scale(1,1.05)" text-anchor="end" class="b">150</text>
<text transform="translate(150,626.4) scale(1,1.05)" text-anchor="end" class="b">175</text>
<text transform="translate(150,705.4) scale(1,1.05)" text-anchor="end" class="b">200</text>
<text transform="translate(229.2,728.3) scale(1,1.05)" text-anchor="middle" class="b">-88.5</text>
<text transform="translate(307.2,728.3) scale(1,1.05)" text-anchor="middle" class="b">-88.4</text>
<text transform="translate(384.2,728.3) scale(1,1.05)" text-anchor="middle" class="b">-88.3</text>
<text transform="translate(462.2,728.3) scale(1,1.05)" text-anchor="middle" class="b">-88.2</text>
<text transform="translate(539.2,728.3) scale(1,1.05)" text-anchor="middle" class="b">-88.1</text>
<text transform="translate(617.2,728.3) scale(1,1.05)" text-anchor="middle" class="b">-88</text>
<text transform="translate(695.2,728.3) scale(1,1.05)" text-anchor="middle" class="b">-87.9</text>
<text transform="translate(772.2,728.3) scale(1,1.05)" text-anchor="middle" class="b">-87.8</text>
<text transform="translate(850.2,728.3) scale(1,1.05)" text-anchor="middle" class="b">-87.7</text>
<text transform="translate(927.2,728.3) scale(1,1.05)" text-anchor="middle" class="b">-87.6</text>
<text transform="translate(1005.2,728.3) scale(1,1.05)" text-anchor="middle" class="b">-87.5</text>
<text transform="translate(157.0,841) scale(1.03,1.05)" text-anchor="middle" class="s">16</text>
<text transform="translate(312.2,841) scale(1.03,1.05)" text-anchor="middle" class="s">18</text>
<text transform="translate(467.3,841) scale(1.03,1.05)" text-anchor="middle" class="s">20</text>
<text transform="translate(622.5,841) scale(1.03,1.05)" text-anchor="middle" class="s">22</text>
<text transform="translate(777.7,841) scale(1.03,1.05)" text-anchor="middle" class="s">24</text>
<text transform="translate(932.8,841) scale(1.03,1.05)" text-anchor="middle" class="s">26</text>
<text transform="translate(1088.0,841) scale(1.03,1.05)" text-anchor="middle" class="s">28</text>
<text transform="translate(625,47) scale(1,1)" text-anchor="middle" class="ti">TEMPERATURE 20180805 +00 GMT (20180804 19 CDT)</text>
<text transform="translate(619.5,757.5) scale(1,1.06)" text-anchor="middle" class="bl">Longitudes @ Lat=28.50</text>
<text transform="translate(100,383.3) rotate(-90) scale(1,1.06)" text-anchor="middle" class="bl">Depth (m)</text>
<text transform="translate(116.3,804) scale(1,1.05)" text-anchor="start" class="sup">o</text>
<text transform="translate(125.8,816.5) scale(1.13,1.13)" text-anchor="start" class="b">C</text>
</svg>
</body></html>
